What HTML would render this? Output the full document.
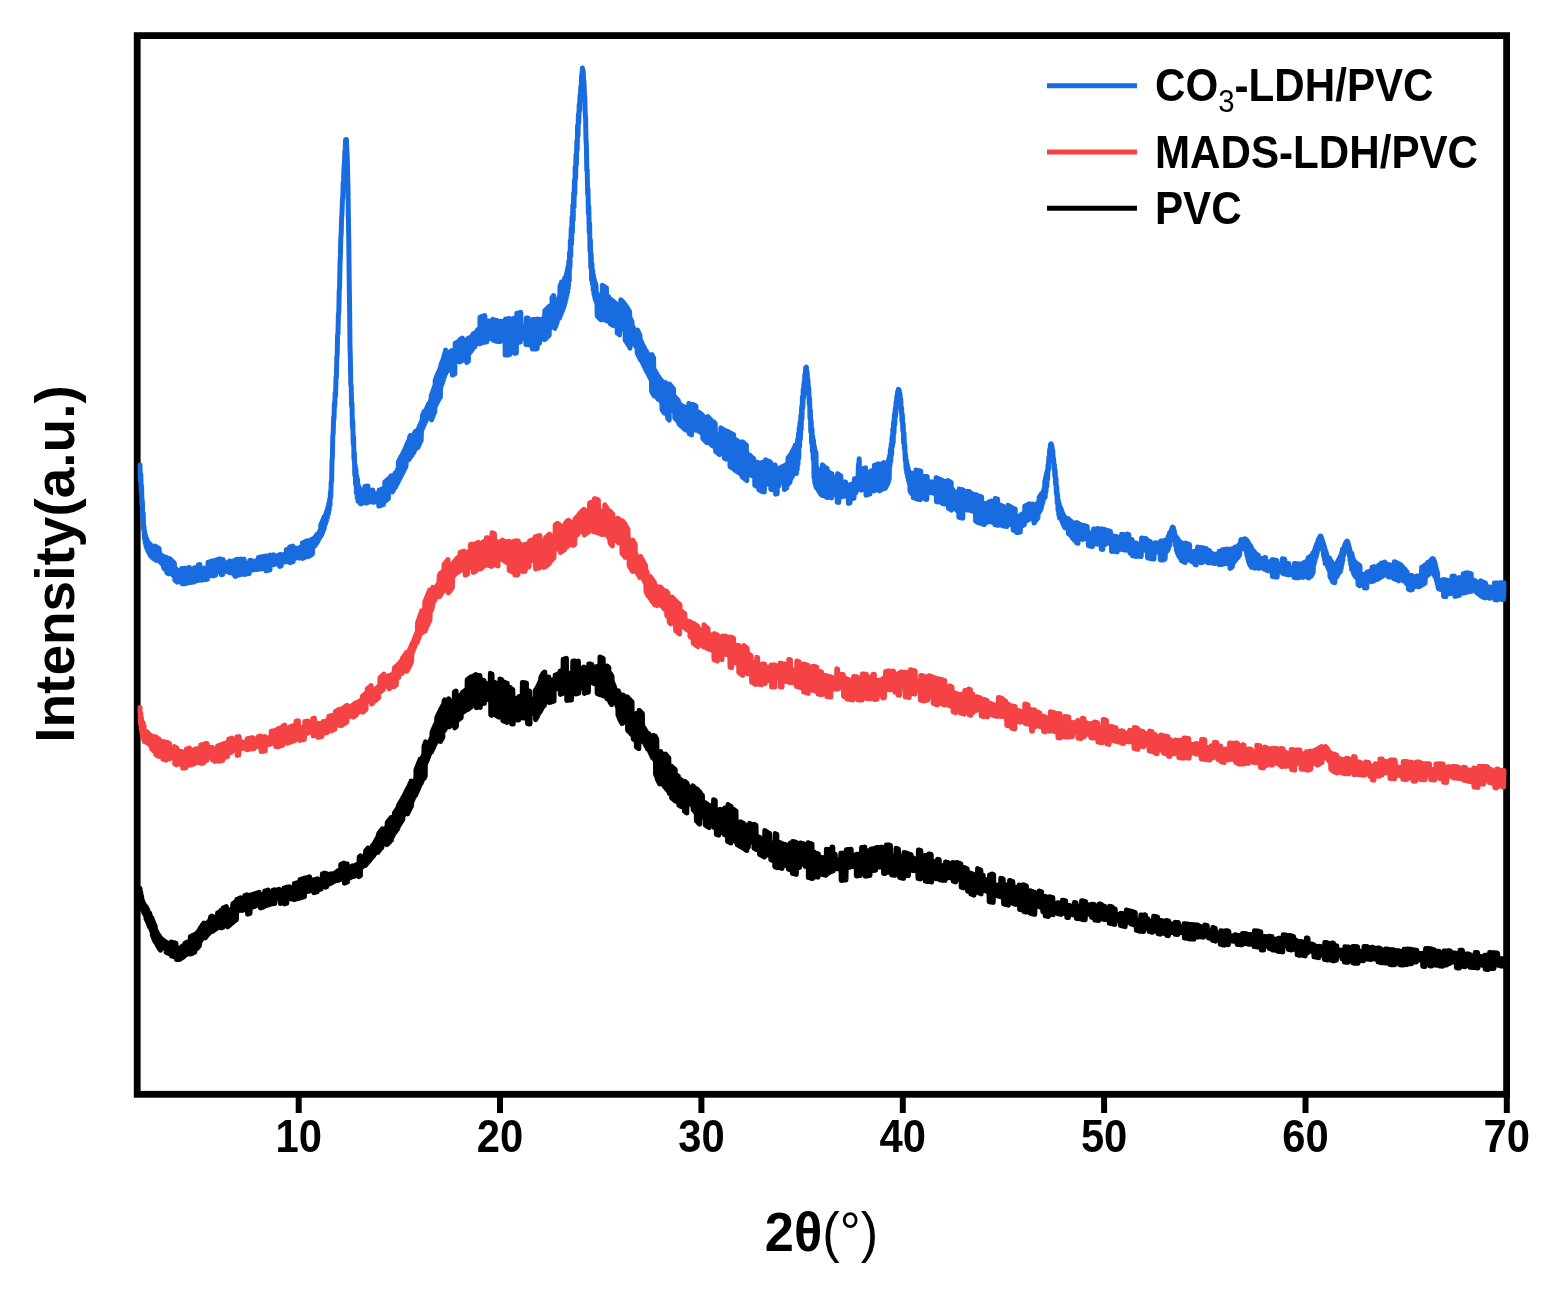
<!DOCTYPE html>
<html><head><meta charset="utf-8"><title>XRD</title>
<style>
html,body{margin:0;padding:0;background:#fff;}
body{width:1551px;height:1293px;overflow:hidden;}
svg{display:block;}
text{font-family:'Liberation Sans',Arial,sans-serif;font-weight:bold;fill:#000;}
</style></head><body>
<svg width="1551" height="1293" viewBox="0 0 1551 1293">
<rect x="0" y="0" width="1551" height="1293" fill="#fff"/>
<rect x="137.2" y="35.6" width="1369.4" height="1058.7" fill="none" stroke="#000" stroke-width="6.8"/>
<g fill="none" stroke-width="5.0" stroke-linejoin="round" stroke-linecap="round">
<polyline stroke="#000000" points="140.0,888.5 140.4,904.3 140.8,892.4 141.2,908.0 141.6,895.9 142.0,908.1 142.4,900.0 142.8,910.6 143.2,902.2 143.6,912.5 144.0,903.8 144.4,913.9 144.8,905.1 145.2,915.1 145.6,906.3 146.0,918.9 146.4,907.0 146.8,920.4 147.2,908.6 147.6,922.2 148.0,910.6 148.4,924.3 148.8,912.8 149.2,926.6 149.6,913.1 150.0,926.9 150.4,915.3 150.8,929.1 151.2,917.5 151.6,931.3 152.0,918.0 152.4,935.4 152.8,920.2 153.2,937.6 153.6,922.3 154.0,939.6 154.4,924.2 154.8,941.4 155.2,925.9 155.6,942.2 156.0,930.1 156.4,943.8 156.8,931.6 157.2,945.2 157.6,933.0 158.0,946.6 158.4,934.4 158.8,948.0 159.2,935.7 159.6,949.2 160.0,936.8 160.4,950.3 160.8,937.9 161.2,945.6 161.6,938.7 162.0,946.4 162.4,939.4 162.8,947.1 163.2,940.1 163.6,947.8 164.0,940.7 164.4,948.4 164.8,941.3 165.2,949.0 165.6,941.8 166.0,952.2 166.4,942.3 166.8,952.7 167.2,942.7 167.6,953.1 168.0,943.2 168.4,953.5 168.8,943.5 169.2,953.8 169.6,943.8 170.0,954.1 170.4,944.1 170.8,954.4 171.2,941.9 171.6,956.1 172.0,942.2 172.4,956.3 172.8,942.5 173.2,956.6 173.6,942.7 174.0,956.8 174.4,942.9 174.8,957.0 175.2,943.1 175.6,957.2 176.0,943.3 176.4,959.4 176.8,948.2 177.2,959.5 177.6,948.3 178.0,959.5 178.4,948.3 178.8,959.5 179.2,948.2 179.6,959.4 180.0,948.0 180.4,959.1 180.8,947.7 181.2,958.3 181.6,946.7 182.0,957.9 182.4,946.3 182.8,957.3 183.2,945.7 183.6,956.8 184.0,945.2 184.4,956.0 184.8,943.6 185.2,955.4 185.6,943.1 186.0,954.9 186.4,942.6 186.8,954.4 187.2,942.1 187.6,954.0 188.0,941.8 188.4,953.7 188.8,941.5 189.2,953.5 189.6,941.3 190.0,954.1 190.4,936.5 190.8,953.9 191.2,936.3 191.6,953.7 192.0,936.1 192.4,953.5 192.8,935.2 193.2,952.8 193.6,934.9 194.0,952.5 194.4,934.7 194.8,952.2 195.2,934.3 195.6,949.8 196.0,933.9 196.4,949.2 196.8,933.2 197.2,948.4 197.6,932.3 198.0,947.5 198.4,931.4 198.8,946.5 199.2,930.3 199.6,945.4 200.0,928.6 200.4,941.4 200.8,927.5 201.2,940.2 201.6,926.3 202.0,939.0 202.4,925.1 202.8,937.9 203.2,924.0 203.6,936.8 204.0,923.0 204.4,935.8 204.8,926.1 205.2,938.0 205.6,925.1 206.0,936.9 206.4,924.0 206.8,935.9 207.2,923.0 207.6,935.0 208.0,922.2 208.4,934.2 208.8,921.4 209.2,933.4 209.6,920.6 210.0,931.1 210.4,917.3 210.8,930.4 211.2,916.6 211.6,929.7 212.0,916.0 212.4,931.4 212.8,919.0 213.2,930.8 213.6,918.4 214.0,930.2 214.4,917.8 214.8,929.6 215.2,917.3 215.6,929.1 216.0,916.8 216.4,928.6 216.8,916.3 217.2,928.2 217.6,912.9 218.0,924.6 218.4,912.5 218.8,924.2 219.2,912.2 219.6,923.9 220.0,911.8 220.4,923.5 220.8,910.4 221.2,928.0 221.6,910.1 222.0,927.7 222.4,909.8 222.8,927.4 223.2,907.9 223.6,922.4 224.0,907.6 224.4,922.0 224.8,907.3 225.2,921.7 225.6,906.9 226.0,921.3 226.4,906.5 226.8,920.9 227.2,912.5 227.6,926.9 228.0,912.0 228.4,926.3 228.8,911.3 229.2,925.7 229.6,910.7 230.0,925.0 230.4,910.0 230.8,924.3 231.2,909.3 231.6,923.5 232.0,908.5 232.4,922.9 232.8,904.0 233.2,922.2 233.6,903.3 234.0,921.5 234.4,902.7 234.8,920.9 235.2,902.1 235.6,920.3 236.0,901.6 236.4,919.8 236.8,899.5 237.2,911.5 237.6,899.1 238.0,911.1 238.4,898.7 238.8,910.7 239.2,898.4 239.6,910.3 240.0,898.0 240.4,910.0 240.8,897.7 241.2,909.7 241.6,903.5 242.0,910.6 242.4,903.1 242.8,910.3 243.2,902.9 243.6,910.0 244.0,902.6 244.4,909.7 244.8,895.6 245.2,908.8 245.6,895.3 246.0,908.5 246.4,895.0 246.8,908.2 247.2,894.7 247.6,914.2 248.0,897.6 248.4,913.9 248.8,897.3 249.2,913.7 249.6,897.1 250.0,913.4 250.4,894.9 250.8,907.6 251.2,894.7 251.6,907.4 252.0,894.4 252.4,907.1 252.8,894.2 253.2,906.9 253.6,893.9 254.0,906.6 254.4,893.7 254.8,906.4 255.2,893.4 255.6,906.1 256.0,893.2 256.4,904.5 256.8,893.0 257.2,904.3 257.6,892.8 258.0,904.0 258.4,892.5 258.8,903.8 259.2,892.3 259.6,903.6 260.0,895.0 260.4,908.0 260.8,894.7 261.2,907.8 261.6,894.5 262.0,907.5 262.4,894.3 262.8,907.3 263.2,894.0 263.6,907.1 264.0,893.8 264.4,906.2 264.8,891.0 265.2,906.0 265.6,890.7 266.0,905.8 266.4,890.5 266.8,905.5 267.2,890.3 267.6,905.3 268.0,890.0 268.4,905.1 268.8,893.9 269.2,904.6 269.6,893.6 270.0,904.4 270.4,893.4 270.8,904.1 271.2,893.2 271.6,903.9 272.0,892.9 272.4,903.7 272.8,890.3 273.2,903.8 273.6,890.0 274.0,903.6 274.4,889.8 274.8,903.4 275.2,890.3 275.6,898.7 276.0,890.1 276.4,898.4 276.8,889.9 277.2,898.2 277.6,889.7 278.0,898.0 278.4,889.4 278.8,897.8 279.2,889.2 279.6,897.5 280.0,890.6 280.4,903.6 280.8,890.4 281.2,903.3 281.6,890.2 282.0,903.1 282.4,889.9 282.8,902.9 283.2,889.7 283.6,902.6 284.0,888.0 284.4,903.9 284.8,887.8 285.2,903.6 285.6,887.5 286.0,903.4 286.4,887.3 286.8,903.2 287.2,887.3 287.6,898.1 288.0,887.1 288.4,897.9 288.8,886.9 289.2,897.7 289.6,886.7 290.0,897.4 290.4,888.7 290.8,898.9 291.2,888.4 291.6,898.7 292.0,888.2 292.4,898.5 292.8,888.0 293.2,898.3 293.6,887.8 294.0,899.7 294.4,883.5 294.8,899.5 295.2,883.2 295.6,899.3 296.0,883.0 296.4,899.1 296.8,882.8 297.2,898.8 297.6,882.6 298.0,898.6 298.4,882.3 298.8,898.4 299.2,882.1 299.6,898.1 300.0,879.5 300.4,897.9 300.8,879.2 301.2,897.7 301.6,879.0 302.0,897.4 302.4,878.8 302.8,897.2 303.2,878.5 303.6,897.0 304.0,878.3 304.4,896.7 304.8,878.1 305.2,892.3 305.6,878.0 306.0,892.0 306.4,877.8 306.8,891.8 307.2,877.5 307.6,891.6 308.0,877.3 308.4,891.3 308.8,877.1 309.2,891.1 309.6,876.8 310.0,890.9 310.4,880.7 310.8,890.7 311.2,880.5 311.6,890.5 312.0,880.3 312.4,890.2 312.8,880.0 313.2,890.0 313.6,879.8 314.0,892.8 314.4,879.7 314.8,892.6 315.2,879.5 315.6,892.3 316.0,879.3 316.4,892.1 316.8,879.0 317.2,891.8 317.6,878.8 318.0,890.1 318.4,880.3 318.8,889.8 319.2,880.1 319.6,889.5 320.0,879.8 320.4,889.3 320.8,879.6 321.2,889.0 321.6,879.3 322.0,885.7 322.4,873.8 322.8,885.4 323.2,873.5 323.6,885.1 324.0,873.3 324.4,884.8 324.8,873.0 325.2,887.3 325.6,874.3 326.0,887.0 326.4,874.0 326.8,886.7 327.2,873.7 327.6,884.6 328.0,875.0 328.4,884.3 328.8,874.7 329.2,884.0 329.6,874.4 330.0,883.7 330.4,874.1 330.8,883.3 331.2,873.7 331.6,883.0 332.0,874.2 332.4,882.2 332.8,873.8 333.2,881.9 333.6,873.5 334.0,881.6 334.4,873.2 334.8,881.2 335.2,872.8 335.6,880.9 336.0,872.5 336.4,880.6 336.8,872.1 337.2,880.2 337.6,871.0 338.0,880.5 338.4,870.6 338.8,880.2 339.2,870.3 339.6,879.8 340.0,869.9 340.4,878.6 340.8,864.4 341.2,878.3 341.6,864.0 342.0,877.9 342.4,863.7 342.8,877.5 343.2,863.3 343.6,877.2 344.0,862.9 344.4,883.3 344.8,864.9 345.2,883.0 345.6,864.5 346.0,882.6 346.4,864.2 346.8,882.3 347.2,863.8 347.6,881.9 348.0,868.0 348.4,878.6 348.8,867.7 349.2,878.2 349.6,867.3 350.0,877.9 350.4,866.9 350.8,877.5 351.2,866.6 351.6,877.1 352.0,866.2 352.4,876.7 352.8,865.8 353.2,876.4 353.6,866.2 354.0,876.4 354.4,865.8 354.8,876.0 355.2,865.4 355.6,875.6 356.0,864.9 356.4,875.1 356.8,864.5 357.2,874.7 357.6,864.0 358.0,874.2 358.4,863.5 358.8,876.7 359.2,856.9 359.6,876.2 360.0,856.3 360.4,875.7 360.8,855.8 361.2,867.6 361.6,861.8 362.0,867.0 362.4,861.2 362.8,866.4 363.2,860.5 363.6,865.7 364.0,859.8 364.4,864.9 364.8,859.0 365.2,865.6 365.6,850.9 366.0,864.7 366.4,850.0 366.8,863.8 367.2,849.1 367.6,862.8 368.0,848.1 368.4,861.8 368.8,850.9 369.2,861.1 369.6,849.9 370.0,860.0 370.4,848.8 370.8,859.0 371.2,847.7 371.6,858.0 372.0,846.5 372.4,856.8 372.8,845.2 373.2,856.5 373.6,844.6 374.0,855.2 374.4,843.2 374.8,853.8 375.2,841.7 375.6,852.4 376.0,840.2 376.4,851.1 376.8,838.7 377.2,849.7 377.6,837.3 378.0,852.4 378.4,834.2 378.8,851.2 379.2,832.9 379.6,850.2 380.0,831.8 380.4,849.2 380.8,830.7 381.2,848.3 381.6,829.7 382.0,847.5 382.4,828.7 382.8,843.3 383.2,831.1 383.6,842.4 384.0,830.2 384.4,841.7 384.8,829.3 385.2,840.9 385.6,828.5 386.0,840.1 386.4,827.6 386.8,844.8 387.2,822.5 387.6,844.1 388.0,821.5 388.4,843.3 388.8,820.6 389.2,842.5 389.6,819.6 390.0,841.7 390.4,818.6 390.8,840.8 391.2,817.5 391.6,839.9 392.0,818.9 392.4,836.8 392.8,817.8 393.2,835.8 393.6,816.6 394.0,833.7 394.4,813.0 394.8,832.7 395.2,811.8 395.6,831.6 396.0,810.6 396.4,830.6 396.8,809.4 397.2,829.5 397.6,808.2 398.0,828.4 398.4,805.5 398.8,825.9 399.2,804.2 399.6,824.7 400.0,802.8 400.4,823.5 400.8,801.4 401.2,822.3 401.6,800.0 402.0,821.0 402.4,798.6 402.8,819.7 403.2,797.1 403.6,815.6 404.0,795.8 404.4,814.2 404.8,794.2 405.2,812.7 405.6,792.6 406.0,811.2 406.4,790.9 406.8,809.6 407.2,789.2 407.6,813.9 408.0,788.1 408.4,812.3 408.8,786.4 409.2,810.7 409.6,784.6 410.0,809.1 410.4,782.8 410.8,807.5 411.2,781.0 411.6,805.9 412.0,786.9 412.4,800.9 412.8,785.1 413.2,799.2 413.6,783.3 414.0,797.5 414.4,781.5 414.8,795.8 415.2,779.6 415.6,795.4 416.0,769.4 416.4,793.6 416.8,767.4 417.2,791.8 417.6,765.4 418.0,789.9 418.4,763.4 418.8,788.1 419.2,761.4 419.6,786.2 420.0,759.3 420.4,784.3 420.8,761.3 421.2,783.5 421.6,759.3 422.0,781.6 422.4,757.3 422.8,779.8 423.2,755.3 423.6,777.9 424.0,745.9 424.4,778.3 424.8,743.9 425.2,776.5 425.6,741.8 426.0,763.4 426.4,750.4 426.8,761.4 427.2,748.4 427.6,759.4 428.0,746.3 428.4,757.4 428.8,744.2 429.2,755.4 429.6,742.2 430.0,753.5 430.4,740.2 430.8,751.5 431.2,738.2 431.6,752.0 432.0,732.2 432.4,750.2 432.8,730.2 433.2,748.4 433.6,728.4 434.0,746.7 434.4,726.6 434.8,745.0 435.2,724.9 435.6,743.4 436.0,723.2 436.4,741.8 436.8,717.4 437.2,738.5 437.6,715.7 438.0,737.0 438.4,714.0 438.8,735.4 439.2,712.4 439.6,734.0 440.0,710.8 440.4,741.6 440.8,709.2 441.2,740.2 441.6,707.7 442.0,738.9 442.4,706.3 442.8,737.6 443.2,704.9 443.6,731.7 444.0,701.1 444.4,730.6 444.8,699.8 445.2,729.5 445.6,702.8 446.0,725.9 446.4,701.7 446.8,725.0 447.2,700.7 447.6,724.1 448.0,699.7 448.4,723.2 448.8,698.7 449.2,726.9 449.6,703.8 450.0,726.2 450.4,703.0 450.8,725.4 451.2,702.2 451.6,724.6 452.0,701.5 452.4,723.9 452.8,700.7 453.2,723.1 453.6,700.0 454.0,722.4 454.4,692.3 454.8,727.9 455.2,691.6 455.6,727.2 456.0,690.9 456.4,726.5 456.8,698.5 457.2,721.0 457.6,697.8 458.0,720.3 458.4,697.1 458.8,719.6 459.2,696.4 459.6,718.9 460.0,695.8 460.4,718.3 460.8,695.1 461.2,717.6 461.6,694.4 462.0,713.3 462.4,692.6 462.8,712.7 463.2,692.0 463.6,712.0 464.0,691.4 464.4,711.4 464.8,690.8 465.2,710.8 465.6,690.2 466.0,710.2 466.4,689.6 466.8,709.7 467.2,679.7 467.6,709.7 468.0,679.2 468.4,709.2 468.8,678.6 469.2,708.5 469.6,678.0 470.0,707.9 470.4,677.3 470.8,707.3 471.2,676.7 471.6,706.6 472.0,677.2 472.4,704.3 472.8,676.6 473.2,703.7 473.6,676.0 474.0,703.1 474.4,675.5 474.8,702.6 475.2,675.0 475.6,702.2 476.0,674.6 476.4,707.8 476.8,675.9 477.2,707.5 477.6,675.7 478.0,707.3 478.4,675.6 478.8,707.3 479.2,675.6 479.6,707.3 480.0,675.6 480.4,707.4 480.8,679.8 481.2,702.9 481.6,679.9 482.0,703.0 482.4,680.1 482.8,703.2 483.2,680.2 483.6,703.3 484.0,680.4 484.4,703.5 484.8,683.2 485.2,698.8 485.6,683.4 486.0,699.0 486.4,683.6 486.8,699.2 487.2,683.8 487.6,699.4 488.0,684.0 488.4,699.7 488.8,684.3 489.2,699.9 489.6,684.5 490.0,700.2 490.4,673.3 490.8,715.0 491.2,673.7 491.6,715.4 492.0,674.1 492.4,702.2 492.8,684.7 493.2,702.7 493.6,685.2 494.0,703.2 494.4,685.8 494.8,703.8 495.2,682.5 495.6,715.1 496.0,683.1 496.4,715.7 496.8,683.7 497.2,716.2 497.6,684.2 498.0,716.8 498.4,684.8 498.8,717.3 499.2,685.2 499.6,711.6 500.0,678.9 500.4,712.0 500.8,679.3 501.2,712.3 501.6,679.6 502.0,712.7 502.4,681.3 502.8,720.8 503.2,681.6 503.6,721.1 504.0,682.0 504.4,721.4 504.8,682.3 505.2,721.8 505.6,682.6 506.0,722.1 506.4,682.9 506.8,722.4 507.2,683.2 507.6,716.6 508.0,686.8 508.4,716.9 508.8,687.0 509.2,717.1 509.6,687.2 510.0,717.3 510.4,687.4 510.8,717.4 511.2,689.4 511.6,723.9 512.0,689.5 512.4,724.0 512.8,689.6 513.2,724.1 513.6,698.0 514.0,719.6 514.4,698.1 514.8,719.7 515.2,698.2 515.6,719.8 516.0,698.3 516.4,719.8 516.8,698.3 517.2,719.9 517.6,698.4 518.0,720.0 518.4,698.4 518.8,720.0 519.2,696.5 519.6,711.0 520.0,696.6 520.4,711.1 520.8,696.6 521.2,711.2 521.6,696.7 522.0,711.2 522.4,682.6 522.8,717.9 523.2,682.6 523.6,718.0 524.0,682.7 524.4,718.0 524.8,682.8 525.2,718.1 525.6,682.9 526.0,718.2 526.4,683.0 526.8,718.3 527.2,690.9 527.6,723.8 528.0,691.0 528.4,723.9 528.8,691.0 529.2,724.0 529.6,691.1 530.0,724.0 530.4,698.9 530.8,713.4 531.2,699.0 531.6,713.5 532.0,699.0 532.4,713.5 532.8,699.0 533.2,713.5 533.6,699.0 534.0,713.4 534.4,698.7 534.8,712.9 535.2,690.6 535.6,719.7 536.0,689.5 536.4,718.5 536.8,688.2 537.2,717.1 537.6,686.7 538.0,715.5 538.4,685.0 538.8,713.8 539.2,683.3 539.6,712.0 540.0,681.6 540.4,711.6 540.8,677.4 541.2,710.0 541.6,675.8 542.0,708.5 542.4,674.4 542.8,707.2 543.2,673.3 543.6,706.2 544.0,672.4 544.4,705.5 544.8,671.9 545.2,695.6 545.6,678.5 546.0,695.2 546.4,678.1 546.8,694.8 547.2,677.8 547.6,694.5 548.0,677.4 548.4,694.2 548.8,677.1 549.2,702.6 549.6,680.6 550.0,702.4 550.4,680.4 550.8,702.1 551.2,680.1 551.6,701.9 552.0,679.9 552.4,701.6 552.8,679.7 553.2,701.4 553.6,679.4 554.0,701.1 554.4,679.1 554.8,689.7 555.2,675.0 555.6,689.4 556.0,674.7 556.4,689.1 556.8,674.4 557.2,688.7 557.6,674.0 558.0,688.4 558.4,673.7 558.8,688.0 559.2,673.3 559.6,687.7 560.0,671.2 560.4,694.4 560.8,670.9 561.2,694.1 561.6,670.5 562.0,693.7 562.4,670.2 562.8,693.4 563.2,659.3 563.6,687.2 564.0,659.0 564.4,686.9 564.8,658.7 565.2,686.7 565.6,658.5 566.0,686.5 566.4,658.3 566.8,700.5 567.2,673.7 567.6,700.3 568.0,673.6 568.4,700.2 568.8,673.4 569.2,700.1 569.6,673.3 570.0,700.0 570.4,673.3 570.8,699.9 571.2,673.2 571.6,699.9 572.0,673.1 572.4,683.6 572.8,661.2 573.2,683.5 573.6,661.1 574.0,683.4 574.4,661.1 574.8,683.3 575.2,660.9 575.6,694.0 576.0,661.7 576.4,693.9 576.8,661.5 577.2,693.7 577.6,661.4 578.0,693.5 578.4,661.1 578.8,693.2 579.2,669.8 579.6,688.9 580.0,669.4 580.4,688.5 580.8,668.9 581.2,688.0 581.6,668.4 582.0,687.5 582.4,667.9 582.8,687.0 583.2,667.4 583.6,686.5 584.0,666.9 584.4,693.5 584.8,668.6 585.2,693.1 585.6,668.3 586.0,692.8 586.4,668.0 586.8,692.5 587.2,667.7 587.6,692.3 588.0,667.6 588.4,692.3 588.8,663.9 589.2,681.8 589.6,664.0 590.0,681.9 590.4,664.1 590.8,682.1 591.2,664.3 591.6,682.3 592.0,664.6 592.4,682.9 592.8,668.3 593.2,683.2 593.6,668.6 594.0,683.6 594.4,669.0 594.8,683.9 595.2,669.4 595.6,684.3 596.0,669.8 596.4,684.7 596.8,666.5 597.2,693.5 597.6,666.9 598.0,693.9 598.4,667.3 598.8,694.3 599.2,667.7 599.6,694.7 600.0,656.9 600.4,694.5 600.8,657.3 601.2,694.9 601.6,657.6 602.0,695.3 602.4,658.0 602.8,695.7 603.2,658.4 603.6,696.1 604.0,668.9 604.4,686.6 604.8,669.3 605.2,687.0 605.6,669.8 606.0,687.6 606.4,670.4 606.8,698.6 607.2,666.1 607.6,699.2 608.0,666.7 608.4,699.8 608.8,667.4 609.2,700.5 609.6,672.6 610.0,702.5 610.4,673.4 610.8,703.5 611.2,674.5 611.6,704.7 612.0,676.0 612.4,693.7 612.8,682.2 613.2,695.6 613.6,684.2 614.0,697.6 614.4,686.3 614.8,699.8 615.2,688.6 615.6,702.2 616.0,690.9 616.4,704.5 616.8,693.3 617.2,706.8 617.6,695.6 618.0,715.2 618.4,690.7 618.8,717.3 619.2,692.7 619.6,719.3 620.0,694.5 620.4,721.0 620.8,696.1 621.2,722.3 621.6,697.4 622.0,723.6 622.4,698.6 622.8,718.6 623.2,695.1 623.6,719.7 624.0,696.2 624.4,720.7 624.8,697.2 625.2,721.7 625.6,698.2 626.0,722.6 626.4,699.1 626.8,723.5 627.2,696.7 627.6,730.3 628.0,697.5 628.4,731.2 628.8,698.4 629.2,732.0 629.6,699.2 630.0,732.8 630.4,700.1 630.8,733.6 631.2,700.9 631.6,734.4 632.0,701.7 632.4,735.2 632.8,714.3 633.2,738.9 633.6,715.0 634.0,739.6 634.4,715.7 634.8,740.3 635.2,716.4 635.6,740.9 636.0,717.1 636.4,746.9 636.8,713.3 637.2,747.6 637.6,713.9 638.0,748.2 638.4,714.6 638.8,748.8 639.2,710.3 639.6,737.2 640.0,711.1 640.4,738.0 640.8,711.8 641.2,738.8 641.6,712.7 642.0,739.6 642.4,713.6 642.8,740.5 643.2,726.4 643.6,742.1 644.0,727.5 644.4,743.3 644.8,728.8 645.2,744.6 645.6,730.2 646.0,746.0 646.4,731.6 646.8,747.5 647.2,733.2 647.6,749.1 648.0,734.8 648.4,749.1 648.8,733.5 649.2,750.8 649.6,735.2 650.0,752.5 650.4,736.9 650.8,754.2 651.2,738.6 651.6,755.9 652.0,740.3 652.4,757.6 652.8,741.9 653.2,757.5 653.6,735.3 654.0,759.0 654.4,736.8 654.8,760.5 655.2,735.9 655.6,774.8 656.0,737.4 656.4,776.3 656.8,739.0 657.2,779.3 657.6,753.2 658.0,780.9 658.4,754.8 658.8,782.5 659.2,756.3 659.6,784.0 660.0,757.9 660.4,780.0 660.8,751.5 661.2,781.4 661.6,753.0 662.0,782.8 662.4,754.4 662.8,784.2 663.2,755.7 663.6,785.4 664.0,757.0 664.4,786.6 664.8,758.1 665.2,787.5 665.6,754.0 666.0,788.5 666.4,755.0 666.8,789.4 667.2,756.0 667.6,790.3 668.0,756.9 668.4,791.2 668.8,757.7 669.2,793.2 669.6,773.4 670.0,794.0 670.4,774.2 670.8,794.8 671.2,765.9 671.6,797.9 672.0,766.6 672.4,798.6 672.8,767.4 673.2,799.3 673.6,768.1 674.0,800.0 674.4,768.8 674.8,800.7 675.2,769.5 675.6,801.3 676.0,774.4 676.4,794.2 676.8,775.0 677.2,794.9 677.6,775.7 678.0,795.5 678.4,776.3 678.8,805.3 679.2,778.5 679.6,805.8 680.0,779.1 680.4,806.3 680.8,779.6 681.2,806.8 681.6,780.2 682.0,805.4 682.4,781.7 682.8,806.0 683.2,782.2 683.6,806.5 684.0,782.8 684.4,811.3 684.8,781.3 685.2,811.8 685.6,781.9 686.0,812.5 686.4,782.5 686.8,813.1 687.2,783.3 687.6,800.7 688.0,786.0 688.4,801.4 688.8,786.8 689.2,802.3 689.6,787.7 690.0,803.1 690.4,788.5 690.8,804.0 691.2,789.5 691.6,804.9 692.0,790.4 692.4,805.9 692.8,785.7 693.2,809.9 693.6,786.6 694.0,810.8 694.4,787.6 694.8,811.7 695.2,788.5 695.6,812.6 696.0,789.4 696.4,821.0 696.8,788.7 697.2,821.8 697.6,789.5 698.0,822.6 698.4,790.4 698.8,823.4 699.2,791.2 699.6,824.3 700.0,792.1 700.4,813.1 700.8,793.5 701.2,814.0 701.6,794.4 702.0,814.8 702.4,795.2 702.8,815.7 703.2,805.4 703.6,817.4 704.0,806.2 704.4,818.2 704.8,807.0 705.2,824.9 705.6,802.8 706.0,825.6 706.4,803.5 706.8,826.2 707.2,804.1 707.6,826.8 708.0,804.7 708.4,827.3 708.8,805.2 709.2,827.8 709.6,805.6 710.0,821.2 710.4,808.6 710.8,821.5 711.2,809.0 711.6,821.9 712.0,809.3 712.4,822.2 712.8,809.6 713.2,822.5 713.6,799.8 714.0,827.4 714.4,800.1 714.8,827.7 715.2,800.4 715.6,827.9 716.0,809.9 716.4,834.5 716.8,810.2 717.2,834.7 717.6,810.4 718.0,834.9 718.4,810.7 718.8,835.2 719.2,810.9 719.6,831.7 720.0,809.3 720.4,832.0 720.8,809.6 721.2,832.2 721.6,809.9 722.0,832.5 722.4,810.1 722.8,832.7 723.2,810.4 723.6,833.0 724.0,810.7 724.4,834.7 724.8,808.1 725.2,835.0 725.6,808.5 726.0,835.3 726.4,808.8 726.8,835.6 727.2,809.2 727.6,841.5 728.0,804.6 728.4,841.9 728.8,805.0 729.2,842.3 729.6,805.5 730.0,842.7 730.4,805.9 730.8,843.1 731.2,806.4 731.6,829.6 732.0,814.8 732.4,830.1 732.8,815.3 733.2,830.6 733.6,809.3 734.0,840.8 734.4,809.8 734.8,841.3 735.2,810.4 735.6,841.7 736.0,810.9 736.4,842.2 736.8,822.3 737.2,844.7 737.6,822.8 738.0,845.3 738.4,823.3 738.8,845.8 739.2,823.9 739.6,846.3 740.0,824.4 740.4,846.8 740.8,821.7 741.2,846.9 741.6,822.2 742.0,847.4 742.4,822.8 742.8,847.9 743.2,823.3 743.6,848.5 744.0,823.8 744.4,849.0 744.8,824.4 745.2,849.5 745.6,826.6 746.0,850.1 746.4,827.2 746.8,850.6 747.2,828.5 747.6,846.7 748.0,829.0 748.4,847.2 748.8,829.6 749.2,840.8 749.6,823.2 750.0,841.3 750.4,823.7 750.8,841.7 751.2,824.2 751.6,842.2 752.0,824.7 752.4,842.7 752.8,825.2 753.2,843.1 753.6,825.6 754.0,848.2 754.4,824.3 754.8,848.7 755.2,824.8 755.6,849.1 756.0,825.3 756.4,849.6 756.8,836.2 757.2,848.7 757.6,836.7 758.0,849.2 758.4,837.2 758.8,849.7 759.2,836.9 759.6,854.4 760.0,837.4 760.4,854.9 760.8,837.9 761.2,855.3 761.6,838.3 762.0,855.8 762.4,838.8 762.8,856.2 763.2,839.3 763.6,856.7 764.0,839.7 764.4,857.1 764.8,830.6 765.2,853.5 765.6,831.1 766.0,854.0 766.4,831.5 766.8,854.4 767.2,832.0 767.6,854.8 768.0,832.4 768.4,855.2 768.8,832.9 769.2,855.7 769.6,833.3 770.0,856.1 770.4,842.2 770.8,859.7 771.2,842.6 771.6,860.0 772.0,843.0 772.4,860.4 772.8,843.4 773.2,860.8 773.6,843.8 774.0,861.2 774.4,844.2 774.8,866.8 775.2,833.6 775.6,867.2 776.0,833.9 776.4,867.5 776.8,834.3 777.2,867.8 777.6,841.8 778.0,867.1 778.4,842.2 778.8,867.4 779.2,842.5 779.6,867.7 780.0,842.8 780.4,867.9 780.8,843.1 781.2,868.2 781.6,843.3 782.0,868.5 782.4,843.7 782.8,864.8 783.2,844.0 783.6,865.1 784.0,844.3 784.4,865.3 784.8,844.5 785.2,865.5 785.6,844.8 786.0,865.8 786.4,845.0 786.8,866.0 787.2,845.3 787.6,866.2 788.0,849.3 788.4,869.2 788.8,849.5 789.2,869.5 789.6,849.7 790.0,869.7 790.4,842.9 790.8,861.2 791.2,843.2 791.6,861.5 792.0,843.4 792.4,873.4 792.8,841.5 793.2,873.6 793.6,841.7 794.0,873.8 794.4,841.9 794.8,874.0 795.2,842.1 795.6,874.2 796.0,842.3 796.4,874.4 796.8,847.7 797.2,866.9 797.6,847.9 798.0,867.1 798.4,848.1 798.8,867.3 799.2,848.3 799.6,867.5 800.0,842.9 800.4,863.6 800.8,843.1 801.2,863.8 801.6,843.3 802.0,864.0 802.4,843.5 802.8,864.2 803.2,843.7 803.6,864.4 804.0,843.9 804.4,864.6 804.8,854.4 805.2,866.4 805.6,854.6 806.0,866.6 806.4,854.8 806.8,866.8 807.2,855.0 807.6,867.0 808.0,842.8 808.4,877.6 808.8,843.0 809.2,877.8 809.6,843.3 810.0,878.0 810.4,843.5 810.8,878.2 811.2,843.7 811.6,878.4 812.0,843.9 812.4,878.6 812.8,851.6 813.2,877.3 813.6,851.8 814.0,877.5 814.4,852.1 814.8,876.4 815.2,853.0 815.6,876.6 816.0,853.2 816.4,876.8 816.8,853.4 817.2,877.0 817.6,853.6 818.0,877.2 818.4,853.9 818.8,873.7 819.2,856.9 819.6,873.9 820.0,857.1 820.4,874.1 820.8,857.2 821.2,874.3 821.6,857.4 822.0,874.4 822.4,857.6 822.8,874.6 823.2,857.8 823.6,874.7 824.0,857.4 824.4,875.0 824.8,857.6 825.2,875.2 825.6,857.7 826.0,875.3 826.4,849.3 826.8,873.1 827.2,849.4 827.6,873.2 828.0,849.5 828.4,873.3 828.8,849.6 829.2,871.9 829.6,852.0 830.0,872.0 830.4,852.1 830.8,872.0 831.2,852.1 831.6,871.0 832.0,847.1 832.4,871.0 832.8,847.1 833.2,870.9 833.6,854.2 834.0,868.5 834.4,854.2 834.8,868.4 835.2,854.2 835.6,868.4 836.0,859.6 836.4,868.8 836.8,859.6 837.2,868.8 837.6,859.6 838.0,868.7 838.4,859.5 838.8,868.7 839.2,859.4 839.6,868.6 840.0,859.4 840.4,868.5 840.8,853.3 841.2,880.5 841.6,853.3 842.0,880.4 842.4,853.2 842.8,880.3 843.2,853.1 843.6,880.2 844.0,853.0 844.4,880.1 844.8,852.9 845.2,880.0 845.6,852.8 846.0,879.9 846.4,849.8 846.8,867.6 847.2,849.7 847.6,867.5 848.0,849.6 848.4,867.4 848.8,849.5 849.2,867.3 849.6,849.4 850.0,867.2 850.4,849.3 850.8,867.1 851.2,849.3 851.6,866.7 852.0,858.1 852.4,866.6 852.8,858.0 853.2,866.5 853.6,857.9 854.0,866.4 854.4,857.8 854.8,866.3 855.2,857.7 855.6,866.2 856.0,854.4 856.4,876.0 856.8,854.3 857.2,875.9 857.6,854.3 858.0,875.8 858.4,854.2 858.8,875.7 859.2,854.1 859.6,875.6 860.0,854.0 860.4,875.5 860.8,853.9 861.2,874.0 861.6,847.5 862.0,873.9 862.4,847.4 862.8,873.7 863.2,847.3 863.6,873.6 864.0,847.2 864.4,873.5 864.8,847.1 865.2,876.2 865.6,851.1 866.0,876.1 866.4,851.0 866.8,876.0 867.2,850.9 867.6,875.9 868.0,850.8 868.4,875.8 868.8,850.7 869.2,875.6 869.6,850.6 870.0,875.5 870.4,850.5 870.8,870.8 871.2,849.0 871.6,870.7 872.0,848.9 872.4,870.6 872.8,848.8 873.2,870.5 873.6,848.7 874.0,870.4 874.4,848.6 874.8,870.3 875.2,848.5 875.6,870.2 876.0,847.7 876.4,866.0 876.8,847.6 877.2,866.0 877.6,847.5 878.0,865.9 878.4,847.5 878.8,865.8 879.2,847.4 879.6,867.2 880.0,847.4 880.4,867.1 880.8,847.3 881.2,867.1 881.6,847.3 882.0,867.0 882.4,847.3 882.8,867.0 883.2,854.3 883.6,873.4 884.0,854.3 884.4,873.4 884.8,854.3 885.2,873.4 885.6,854.3 886.0,872.1 886.4,844.9 886.8,872.2 887.2,844.9 887.6,872.2 888.0,845.0 888.4,872.3 888.8,845.1 889.2,872.3 889.6,845.2 890.0,872.4 890.4,845.3 890.8,872.5 891.2,855.4 891.6,874.9 892.0,855.6 892.4,875.0 892.8,855.7 893.2,875.1 893.6,855.9 894.0,875.3 894.4,856.0 894.8,875.4 895.2,856.2 895.6,865.8 896.0,848.3 896.4,866.0 896.8,848.5 897.2,866.2 897.6,848.7 898.0,866.4 898.4,848.9 898.8,866.6 899.2,856.0 899.6,877.5 900.0,856.2 900.4,877.7 900.8,856.5 901.2,877.9 901.6,856.7 902.0,878.1 902.4,856.9 902.8,878.3 903.2,857.1 903.6,878.5 904.0,852.4 904.4,874.8 904.8,852.7 905.2,875.0 905.6,852.9 906.0,875.2 906.4,853.1 906.8,875.4 907.2,853.3 907.6,875.6 908.0,853.5 908.4,875.8 908.8,854.1 909.2,868.8 909.6,854.3 910.0,868.9 910.4,854.5 910.8,869.1 911.2,854.7 911.6,870.3 912.0,857.5 912.4,870.4 912.8,857.7 913.2,870.6 913.6,857.9 914.0,870.7 914.4,860.8 914.8,869.1 915.2,861.0 915.6,869.3 916.0,861.1 916.4,869.4 916.8,861.3 917.2,869.6 917.6,861.5 918.0,878.5 918.4,850.0 918.8,878.7 919.2,850.1 919.6,878.8 920.0,850.3 920.4,879.0 920.8,850.5 921.2,871.5 921.6,860.5 922.0,871.7 922.4,860.7 922.8,871.8 923.2,860.9 923.6,872.0 924.0,861.0 924.4,872.1 924.8,855.5 925.2,881.1 925.6,855.7 926.0,881.2 926.4,855.8 926.8,881.4 927.2,856.0 927.6,881.5 928.0,856.2 928.4,881.5 928.8,853.9 929.2,881.6 929.6,854.1 930.0,881.8 930.4,854.2 930.8,881.9 931.2,854.4 931.6,882.1 932.0,861.0 932.4,878.0 932.8,861.2 933.2,878.2 933.6,861.4 934.0,878.3 934.4,861.6 934.8,878.5 935.2,861.8 935.6,878.7 936.0,862.0 936.4,878.8 936.8,862.2 937.2,873.8 937.6,859.2 938.0,874.0 938.4,859.4 938.8,874.2 939.2,859.6 939.6,879.7 940.0,865.0 940.4,879.9 940.8,865.2 941.2,880.1 941.6,865.4 942.0,880.3 942.4,865.7 942.8,880.5 943.2,867.9 943.6,880.0 944.0,868.1 944.4,880.2 944.8,868.3 945.2,880.5 945.6,861.9 946.0,877.0 946.4,862.2 946.8,877.3 947.2,862.4 947.6,877.5 948.0,862.6 948.4,877.7 948.8,862.9 949.2,877.4 949.6,866.0 950.0,877.6 950.4,866.3 950.8,877.9 951.2,866.5 951.6,878.1 952.0,866.8 952.4,878.4 952.8,862.6 953.2,881.3 953.6,862.8 954.0,881.5 954.4,863.1 954.8,881.8 955.2,863.4 955.6,882.0 956.0,863.6 956.4,878.8 956.8,862.4 957.2,879.0 957.6,862.7 958.0,879.3 958.4,862.9 958.8,879.5 959.2,863.2 959.6,879.8 960.0,863.5 960.4,880.0 960.8,863.8 961.2,887.3 961.6,870.1 962.0,887.5 962.4,870.4 962.8,887.8 963.2,870.7 963.6,888.0 964.0,867.5 964.4,882.1 964.8,867.8 965.2,882.4 965.6,868.1 966.0,882.6 966.4,868.4 966.8,882.9 967.2,868.7 967.6,891.3 968.0,873.9 968.4,891.5 968.8,874.2 969.2,891.8 969.6,874.5 970.0,892.2 970.4,873.1 970.8,894.0 971.2,873.4 971.6,894.3 972.0,873.8 972.4,894.6 972.8,874.1 973.2,895.0 973.6,874.5 974.0,895.3 974.4,874.8 974.8,889.7 975.2,878.5 975.6,890.0 976.0,878.9 976.4,890.3 976.8,879.2 977.2,892.3 977.6,868.6 978.0,892.6 978.4,869.0 978.8,892.9 979.2,869.3 979.6,893.3 980.0,869.7 980.4,893.6 980.8,870.0 981.2,893.9 981.6,874.5 982.0,888.5 982.4,874.8 982.8,888.8 983.2,875.2 983.6,889.2 984.0,878.7 984.4,890.5 984.8,879.1 985.2,890.8 985.6,879.4 986.0,891.1 986.4,879.7 986.8,891.4 987.2,880.0 987.6,891.7 988.0,880.3 988.4,892.0 988.8,880.6 989.2,901.7 989.6,875.0 990.0,902.0 990.4,875.3 990.8,902.2 991.2,875.6 991.6,901.9 992.0,873.9 992.4,902.2 992.8,874.2 993.2,902.5 993.6,874.5 994.0,894.5 994.4,885.7 994.8,894.7 995.2,886.0 995.6,895.0 996.0,886.3 996.4,895.2 996.8,886.5 997.2,895.8 997.6,885.0 998.0,896.1 998.4,885.2 998.8,896.3 999.2,885.5 999.6,896.5 1000.0,885.7 1000.4,896.8 1000.8,878.2 1001.2,895.3 1001.6,878.5 1002.0,895.5 1002.4,878.8 1002.8,895.8 1003.2,879.1 1003.6,904.0 1004.0,884.2 1004.4,904.2 1004.8,884.4 1005.2,904.4 1005.6,884.7 1006.0,904.6 1006.4,884.9 1006.8,904.8 1007.2,885.2 1007.6,905.0 1008.0,885.4 1008.4,905.2 1008.8,885.7 1009.2,899.1 1009.6,880.4 1010.0,899.4 1010.4,880.7 1010.8,899.6 1011.2,880.9 1011.6,899.8 1012.0,881.2 1012.4,900.0 1012.8,881.5 1013.2,903.8 1013.6,886.6 1014.0,904.0 1014.4,886.8 1014.8,904.2 1015.2,887.1 1015.6,904.4 1016.0,889.5 1016.4,900.1 1016.8,889.8 1017.2,900.3 1017.6,890.1 1018.0,900.6 1018.4,890.3 1018.8,900.8 1019.2,884.9 1019.6,909.4 1020.0,885.2 1020.4,909.6 1020.8,885.5 1021.2,909.8 1021.6,885.8 1022.0,910.0 1022.4,886.1 1022.8,910.3 1023.2,884.8 1023.6,911.5 1024.0,885.0 1024.4,911.7 1024.8,885.3 1025.2,912.0 1025.6,885.6 1026.0,912.2 1026.4,885.9 1026.8,911.0 1027.2,895.3 1027.6,911.2 1028.0,895.5 1028.4,911.5 1028.8,895.8 1029.2,911.7 1029.6,896.1 1030.0,913.2 1030.4,890.8 1030.8,913.4 1031.2,891.1 1031.6,913.7 1032.0,891.4 1032.4,913.9 1032.8,891.6 1033.2,914.1 1033.6,891.9 1034.0,914.3 1034.4,892.2 1034.8,914.5 1035.2,892.5 1035.6,905.6 1036.0,894.0 1036.4,905.9 1036.8,894.2 1037.2,906.1 1037.6,894.5 1038.0,906.3 1038.4,894.8 1038.8,906.5 1039.2,891.0 1039.6,907.0 1040.0,891.2 1040.4,907.2 1040.8,891.5 1041.2,907.4 1041.6,891.7 1042.0,907.6 1042.4,900.8 1042.8,911.7 1043.2,901.0 1043.6,911.8 1044.0,901.2 1044.4,912.0 1044.8,896.5 1045.2,915.9 1045.6,896.7 1046.0,916.1 1046.4,896.9 1046.8,916.2 1047.2,897.1 1047.6,916.4 1048.0,897.4 1048.4,916.5 1048.8,897.6 1049.2,914.0 1049.6,896.8 1050.0,914.2 1050.4,897.0 1050.8,914.3 1051.2,897.2 1051.6,914.5 1052.0,897.4 1052.4,914.6 1052.8,897.6 1053.2,914.8 1053.6,903.1 1054.0,910.1 1054.4,903.3 1054.8,910.3 1055.2,903.4 1055.6,910.4 1056.0,903.6 1056.4,910.6 1056.8,903.8 1057.2,910.7 1057.6,902.7 1058.0,913.8 1058.4,902.9 1058.8,914.0 1059.2,903.0 1059.6,914.1 1060.0,903.2 1060.4,914.2 1060.8,903.4 1061.2,914.4 1061.6,903.5 1062.0,912.9 1062.4,900.2 1062.8,913.1 1063.2,900.3 1063.6,913.2 1064.0,900.5 1064.4,913.3 1064.8,900.7 1065.2,913.4 1065.6,900.8 1066.0,913.6 1066.4,905.1 1066.8,917.4 1067.2,905.3 1067.6,917.5 1068.0,905.4 1068.4,917.6 1068.8,905.6 1069.2,914.3 1069.6,905.8 1070.0,914.4 1070.4,905.9 1070.8,914.5 1071.2,906.1 1071.6,914.6 1072.0,906.2 1072.4,914.7 1072.8,906.3 1073.2,914.8 1073.6,906.4 1074.0,915.1 1074.4,902.4 1074.8,915.2 1075.2,902.5 1075.6,915.3 1076.0,902.7 1076.4,918.4 1076.8,905.8 1077.2,918.4 1077.6,905.9 1078.0,918.5 1078.4,906.0 1078.8,918.6 1079.2,906.1 1079.6,918.7 1080.0,906.3 1080.4,918.7 1080.8,906.4 1081.2,918.8 1081.6,900.8 1082.0,919.5 1082.4,900.9 1082.8,919.6 1083.2,901.1 1083.6,919.7 1084.0,901.2 1084.4,919.7 1084.8,901.3 1085.2,919.8 1085.6,901.5 1086.0,913.9 1086.4,904.6 1086.8,914.0 1087.2,904.7 1087.6,914.1 1088.0,904.8 1088.4,914.2 1088.8,904.9 1089.2,914.3 1089.6,905.1 1090.0,914.4 1090.4,905.2 1090.8,914.5 1091.2,905.3 1091.6,917.3 1092.0,904.2 1092.4,917.4 1092.8,904.3 1093.2,917.5 1093.6,904.5 1094.0,917.6 1094.4,904.6 1094.8,920.1 1095.2,909.7 1095.6,920.1 1096.0,909.8 1096.4,920.2 1096.8,909.9 1097.2,920.3 1097.6,910.1 1098.0,920.4 1098.4,910.2 1098.8,920.5 1099.2,904.0 1099.6,916.2 1100.0,904.1 1100.4,916.3 1100.8,904.3 1101.2,916.5 1101.6,904.4 1102.0,916.6 1102.4,905.9 1102.8,919.2 1103.2,906.0 1103.6,919.3 1104.0,906.2 1104.4,919.5 1104.8,906.3 1105.2,919.6 1105.6,909.8 1106.0,917.5 1106.4,909.9 1106.8,917.6 1107.2,910.0 1107.6,917.8 1108.0,910.2 1108.4,917.9 1108.8,910.3 1109.2,923.2 1109.6,906.3 1110.0,923.3 1110.4,906.5 1110.8,923.5 1111.2,906.6 1111.6,923.6 1112.0,906.8 1112.4,924.0 1112.8,908.5 1113.2,924.1 1113.6,908.7 1114.0,924.3 1114.4,908.8 1114.8,924.5 1115.2,909.0 1115.6,919.8 1116.0,913.9 1116.4,919.9 1116.8,914.0 1117.2,920.1 1117.6,914.2 1118.0,920.3 1118.4,914.4 1118.8,920.4 1119.2,914.5 1119.6,920.6 1120.0,914.7 1120.4,925.5 1120.8,913.2 1121.2,925.7 1121.6,913.4 1122.0,925.9 1122.4,913.6 1122.8,926.1 1123.2,913.8 1123.6,926.3 1124.0,914.0 1124.4,926.5 1124.8,914.2 1125.2,926.7 1125.6,914.4 1126.0,921.5 1126.4,910.0 1126.8,921.7 1127.2,910.3 1127.6,921.9 1128.0,910.5 1128.4,922.2 1128.8,910.7 1129.2,922.4 1129.6,910.9 1130.0,922.6 1130.4,911.1 1130.8,924.0 1131.2,911.3 1131.6,924.2 1132.0,911.5 1132.4,924.5 1132.8,911.7 1133.2,924.7 1133.6,912.0 1134.0,924.9 1134.4,912.2 1134.8,925.1 1135.2,912.4 1135.6,925.3 1136.0,919.3 1136.4,930.3 1136.8,919.5 1137.2,930.5 1137.6,919.7 1138.0,930.8 1138.4,919.9 1138.8,931.0 1139.2,920.1 1139.6,931.2 1140.0,920.3 1140.4,931.4 1140.8,914.9 1141.2,931.0 1141.6,915.1 1142.0,931.2 1142.4,915.3 1142.8,931.4 1143.2,915.5 1143.6,931.6 1144.0,915.7 1144.4,926.5 1144.8,914.8 1145.2,926.7 1145.6,915.0 1146.0,926.9 1146.4,918.4 1146.8,928.2 1147.2,918.6 1147.6,928.4 1148.0,918.7 1148.4,928.6 1148.8,921.0 1149.2,931.6 1149.6,921.1 1150.0,931.7 1150.4,921.3 1150.8,931.9 1151.2,921.5 1151.6,932.1 1152.0,921.7 1152.4,932.3 1152.8,921.9 1153.2,930.8 1153.6,916.2 1154.0,931.0 1154.4,916.3 1154.8,931.1 1155.2,916.5 1155.6,931.3 1156.0,916.7 1156.4,931.5 1156.8,916.9 1157.2,931.7 1157.6,917.1 1158.0,933.8 1158.4,920.2 1158.8,933.9 1159.2,920.4 1159.6,934.1 1160.0,920.5 1160.4,934.3 1160.8,920.6 1161.2,932.8 1161.6,920.8 1162.0,933.0 1162.4,921.0 1162.8,933.1 1163.2,921.1 1163.6,933.3 1164.0,921.3 1164.4,933.4 1164.8,921.4 1165.2,933.6 1165.6,921.6 1166.0,933.7 1166.4,920.6 1166.8,935.4 1167.2,920.8 1167.6,935.5 1168.0,920.9 1168.4,935.7 1168.8,921.0 1169.2,932.2 1169.6,924.4 1170.0,932.3 1170.4,924.5 1170.8,932.4 1171.2,924.0 1171.6,932.5 1172.0,924.1 1172.4,932.6 1172.8,924.2 1173.2,932.7 1173.6,924.3 1174.0,932.7 1174.4,924.4 1174.8,934.2 1175.2,922.3 1175.6,934.3 1176.0,922.4 1176.4,934.4 1176.8,922.5 1177.2,934.4 1177.6,922.6 1178.0,934.5 1178.4,922.6 1178.8,932.4 1179.2,926.9 1179.6,932.5 1180.0,927.0 1180.4,932.5 1180.8,927.1 1181.2,932.6 1181.6,927.1 1182.0,932.6 1182.4,927.2 1182.8,932.7 1183.2,927.2 1183.6,932.8 1184.0,923.8 1184.4,938.1 1184.8,923.8 1185.2,938.1 1185.6,923.9 1186.0,938.2 1186.4,923.9 1186.8,938.2 1187.2,924.0 1187.6,938.3 1188.0,924.0 1188.4,938.3 1188.8,924.5 1189.2,938.9 1189.6,924.5 1190.0,938.9 1190.4,924.6 1190.8,939.0 1191.2,924.6 1191.6,939.0 1192.0,924.7 1192.4,939.1 1192.8,924.7 1193.2,939.1 1193.6,924.8 1194.0,939.2 1194.4,924.8 1194.8,936.9 1195.2,924.9 1195.6,936.9 1196.0,925.0 1196.4,937.0 1196.8,925.0 1197.2,937.1 1197.6,925.1 1198.0,937.2 1198.4,925.2 1198.8,936.6 1199.2,926.5 1199.6,936.7 1200.0,926.6 1200.4,936.8 1200.8,926.7 1201.2,936.9 1201.6,926.8 1202.0,937.0 1202.4,926.9 1202.8,937.1 1203.2,927.1 1203.6,937.2 1204.0,927.2 1204.4,934.6 1204.8,925.1 1205.2,934.8 1205.6,925.3 1206.0,934.9 1206.4,925.4 1206.8,935.1 1207.2,925.6 1207.6,935.3 1208.0,930.3 1208.4,937.9 1208.8,930.5 1209.2,938.1 1209.6,930.7 1210.0,938.3 1210.4,930.9 1210.8,938.5 1211.2,931.1 1211.6,938.7 1212.0,931.3 1212.4,940.3 1212.8,927.5 1213.2,940.5 1213.6,927.7 1214.0,940.7 1214.4,928.0 1214.8,941.0 1215.2,928.2 1215.6,941.2 1216.0,932.5 1216.4,939.5 1216.8,932.7 1217.2,939.8 1217.6,932.9 1218.0,940.0 1218.4,933.1 1218.8,940.2 1219.2,933.3 1219.6,940.4 1220.0,933.5 1220.4,944.3 1220.8,930.8 1221.2,944.5 1221.6,930.9 1222.0,944.7 1222.4,931.1 1222.8,944.9 1223.2,931.3 1223.6,945.1 1224.0,931.5 1224.4,945.3 1224.8,931.7 1225.2,944.3 1225.6,930.7 1226.0,944.4 1226.4,930.8 1226.8,944.6 1227.2,930.9 1227.6,944.7 1228.0,931.1 1228.4,944.8 1228.8,931.2 1229.2,940.7 1229.6,935.6 1230.0,940.8 1230.4,935.7 1230.8,940.9 1231.2,935.8 1231.6,941.0 1232.0,935.9 1232.4,941.1 1232.8,936.0 1233.2,941.2 1233.6,936.1 1234.0,941.3 1234.4,936.2 1234.8,940.7 1235.2,934.7 1235.6,940.8 1236.0,934.8 1236.4,940.8 1236.8,935.3 1237.2,944.4 1237.6,935.4 1238.0,944.5 1238.4,935.5 1238.8,944.5 1239.2,935.6 1239.6,944.6 1240.0,935.7 1240.4,944.7 1240.8,935.8 1241.2,944.8 1241.6,935.8 1242.0,944.9 1242.4,933.5 1242.8,943.2 1243.2,933.5 1243.6,943.3 1244.0,933.6 1244.4,943.4 1244.8,933.7 1245.2,943.4 1245.6,933.8 1246.0,943.5 1246.4,933.8 1246.8,943.6 1247.2,933.9 1247.6,944.1 1248.0,934.4 1248.4,944.2 1248.8,934.4 1249.2,944.2 1249.6,934.5 1250.0,944.3 1250.4,934.6 1250.8,942.7 1251.2,934.7 1251.6,942.7 1252.0,934.8 1252.4,942.8 1252.8,934.8 1253.2,942.9 1253.6,934.9 1254.0,946.6 1254.4,930.8 1254.8,946.6 1255.2,930.9 1255.6,946.7 1256.0,930.9 1256.4,946.8 1256.8,931.0 1257.2,946.9 1257.6,931.1 1258.0,946.9 1258.4,931.1 1258.8,947.0 1259.2,931.6 1259.6,945.5 1260.0,931.7 1260.4,945.6 1260.8,931.8 1261.2,949.9 1261.6,936.8 1262.0,950.0 1262.4,936.8 1262.8,950.0 1263.2,936.9 1263.6,950.1 1264.0,936.9 1264.4,945.9 1264.8,936.6 1265.2,946.0 1265.6,936.7 1266.0,946.0 1266.4,936.7 1266.8,946.1 1267.2,936.8 1267.6,946.1 1268.0,936.8 1268.4,946.2 1268.8,936.3 1269.2,948.5 1269.6,936.3 1270.0,948.5 1270.4,936.4 1270.8,948.6 1271.2,936.4 1271.6,948.6 1272.0,936.5 1272.4,950.0 1272.8,939.1 1273.2,950.1 1273.6,939.1 1274.0,950.1 1274.4,939.2 1274.8,950.2 1275.2,939.3 1275.6,950.2 1276.0,939.3 1276.4,950.3 1276.8,939.4 1277.2,950.4 1277.6,939.4 1278.0,951.4 1278.4,938.2 1278.8,951.5 1279.2,938.2 1279.6,951.6 1280.0,938.3 1280.4,951.6 1280.8,938.4 1281.2,951.7 1281.6,938.5 1282.0,951.8 1282.4,938.6 1282.8,951.9 1283.2,934.8 1283.6,945.4 1284.0,934.9 1284.4,945.5 1284.8,935.0 1285.2,945.6 1285.6,935.1 1286.0,945.7 1286.4,935.3 1286.8,945.8 1287.2,935.4 1287.6,945.9 1288.0,935.5 1288.4,949.5 1288.8,935.4 1289.2,949.6 1289.6,935.6 1290.0,949.8 1290.4,935.7 1290.8,949.9 1291.2,935.9 1291.6,950.1 1292.0,936.0 1292.4,949.2 1292.8,936.2 1293.2,949.4 1293.6,936.4 1294.0,947.3 1294.4,939.7 1294.8,947.5 1295.2,939.9 1295.6,947.7 1296.0,940.1 1296.4,947.9 1296.8,942.8 1297.2,954.8 1297.6,943.1 1298.0,955.0 1298.4,943.3 1298.8,955.2 1299.2,943.5 1299.6,955.4 1300.0,941.3 1300.4,950.4 1300.8,941.5 1301.2,950.6 1301.6,941.7 1302.0,950.8 1302.4,941.9 1302.8,955.4 1303.2,942.1 1303.6,955.6 1304.0,942.3 1304.4,955.8 1304.8,942.5 1305.2,956.0 1305.6,942.7 1306.0,952.5 1306.4,937.9 1306.8,952.7 1307.2,938.1 1307.6,952.9 1308.0,938.3 1308.4,950.7 1308.8,943.5 1309.2,950.9 1309.6,943.6 1310.0,951.1 1310.4,943.8 1310.8,951.2 1311.2,944.0 1311.6,951.4 1312.0,944.1 1312.4,951.5 1312.8,944.3 1313.2,951.7 1313.6,944.4 1314.0,956.8 1314.4,945.9 1314.8,956.9 1315.2,946.0 1315.6,957.1 1316.0,946.2 1316.4,957.2 1316.8,946.3 1317.2,957.4 1317.6,946.5 1318.0,957.5 1318.4,946.6 1318.8,957.7 1319.2,946.3 1319.6,954.6 1320.0,946.4 1320.4,954.8 1320.8,946.6 1321.2,954.9 1321.6,946.7 1322.0,955.0 1322.4,946.9 1322.8,955.2 1323.2,947.0 1323.6,955.3 1324.0,947.1 1324.4,959.5 1324.8,942.4 1325.2,959.6 1325.6,942.5 1326.0,959.7 1326.4,942.7 1326.8,959.9 1327.2,942.8 1327.6,960.0 1328.0,942.9 1328.4,959.7 1328.8,945.3 1329.2,959.8 1329.6,945.4 1330.0,960.0 1330.4,945.5 1330.8,960.1 1331.2,945.6 1331.6,960.2 1332.0,943.0 1332.4,960.7 1332.8,943.1 1333.2,960.8 1333.6,943.2 1334.0,960.9 1334.4,945.6 1334.8,960.0 1335.2,945.7 1335.6,960.1 1336.0,945.8 1336.4,960.2 1336.8,945.8 1337.2,955.3 1337.6,950.1 1338.0,955.3 1338.4,950.2 1338.8,955.4 1339.2,950.2 1339.6,955.5 1340.0,950.3 1340.4,955.5 1340.8,950.3 1341.2,955.6 1341.6,950.2 1342.0,958.8 1342.4,950.2 1342.8,958.9 1343.2,950.3 1343.6,958.9 1344.0,950.3 1344.4,962.1 1344.8,946.8 1345.2,962.2 1345.6,946.9 1346.0,962.2 1346.4,946.9 1346.8,962.3 1347.2,947.0 1347.6,962.3 1348.0,947.0 1348.4,962.3 1348.8,947.1 1349.2,956.6 1349.6,948.1 1350.0,956.6 1350.4,948.1 1350.8,956.6 1351.2,948.1 1351.6,956.7 1352.0,948.2 1352.4,956.7 1352.8,946.5 1353.2,963.1 1353.6,946.6 1354.0,963.2 1354.4,946.6 1354.8,963.2 1355.2,946.6 1355.6,963.2 1356.0,946.7 1356.4,963.3 1356.8,946.7 1357.2,963.3 1357.6,946.7 1358.0,963.3 1358.4,951.2 1358.8,960.5 1359.2,951.2 1359.6,960.6 1360.0,951.2 1360.4,960.6 1360.8,951.3 1361.2,960.6 1361.6,951.3 1362.0,960.7 1362.4,951.3 1362.8,960.7 1363.2,951.4 1363.6,960.7 1364.0,946.4 1364.4,956.6 1364.8,946.5 1365.2,956.6 1365.6,946.5 1366.0,956.7 1366.4,946.5 1366.8,956.7 1367.2,946.6 1367.6,959.2 1368.0,947.7 1368.4,959.2 1368.8,947.7 1369.2,959.3 1369.6,947.8 1370.0,959.3 1370.4,947.8 1370.8,959.4 1371.2,947.8 1371.6,959.4 1372.0,947.3 1372.4,957.0 1372.8,947.3 1373.2,957.0 1373.6,947.4 1374.0,957.1 1374.4,952.3 1374.8,959.1 1375.2,952.4 1375.6,959.1 1376.0,952.4 1376.4,959.1 1376.8,952.4 1377.2,959.2 1377.6,948.1 1378.0,962.0 1378.4,948.1 1378.8,962.0 1379.2,948.1 1379.6,962.1 1380.0,948.2 1380.4,962.6 1380.8,949.8 1381.2,962.7 1381.6,949.8 1382.0,962.7 1382.4,949.9 1382.8,962.7 1383.2,949.9 1383.6,962.8 1384.0,949.9 1384.4,962.8 1384.8,950.0 1385.2,963.0 1385.6,949.1 1386.0,963.1 1386.4,949.1 1386.8,963.1 1387.2,949.2 1387.6,963.2 1388.0,949.2 1388.4,963.2 1388.8,949.2 1389.2,963.2 1389.6,949.7 1390.0,964.6 1390.4,949.7 1390.8,964.7 1391.2,949.7 1391.6,964.7 1392.0,949.8 1392.4,964.7 1392.8,949.8 1393.2,964.8 1393.6,949.9 1394.0,964.8 1394.4,949.9 1394.8,964.8 1395.2,950.6 1395.6,961.3 1396.0,950.7 1396.4,961.3 1396.8,950.7 1397.2,961.3 1397.6,950.8 1398.0,961.4 1398.4,950.8 1398.8,961.4 1399.2,950.8 1399.6,964.8 1400.0,951.4 1400.4,964.8 1400.8,951.4 1401.2,964.9 1401.6,951.5 1402.0,964.9 1402.4,951.5 1402.8,964.9 1403.2,951.6 1403.6,965.0 1404.0,949.3 1404.4,964.6 1404.8,949.3 1405.2,964.6 1405.6,949.4 1406.0,964.6 1406.4,949.4 1406.8,964.7 1407.2,949.1 1407.6,963.6 1408.0,949.2 1408.4,963.7 1408.8,949.2 1409.2,963.7 1409.6,949.2 1410.0,963.8 1410.4,949.3 1410.8,963.8 1411.2,949.3 1411.6,963.8 1412.0,949.4 1412.4,961.8 1412.8,950.0 1413.2,961.8 1413.6,950.1 1414.0,961.9 1414.4,950.1 1414.8,961.9 1415.2,950.2 1415.6,961.9 1416.0,950.2 1416.4,962.0 1416.8,950.2 1417.2,959.8 1417.6,953.5 1418.0,959.8 1418.4,953.5 1418.8,959.8 1419.2,953.5 1419.6,959.9 1420.0,953.6 1420.4,959.9 1420.8,953.6 1421.2,960.0 1421.6,953.7 1422.0,960.0 1422.4,953.2 1422.8,966.3 1423.2,953.2 1423.6,966.4 1424.0,953.2 1424.4,966.4 1424.8,953.3 1425.2,966.4 1425.6,948.5 1426.0,963.4 1426.4,948.5 1426.8,963.4 1427.2,948.6 1427.6,963.4 1428.0,948.6 1428.4,963.5 1428.8,948.7 1429.2,963.5 1429.6,948.8 1430.0,966.0 1430.4,948.8 1430.8,966.0 1431.2,948.9 1431.6,966.1 1432.0,948.9 1432.4,963.8 1432.8,949.7 1433.2,963.8 1433.6,949.8 1434.0,963.9 1434.4,949.8 1434.8,965.1 1435.2,953.0 1435.6,965.2 1436.0,953.1 1436.4,965.2 1436.8,953.1 1437.2,963.8 1437.6,951.2 1438.0,963.8 1438.4,951.2 1438.8,963.8 1439.2,951.2 1439.6,966.1 1440.0,954.4 1440.4,966.1 1440.8,954.5 1441.2,966.1 1441.6,954.5 1442.0,966.2 1442.4,954.6 1442.8,966.2 1443.2,954.6 1443.6,964.8 1444.0,950.9 1444.4,964.8 1444.8,950.9 1445.2,964.9 1445.6,951.0 1446.0,964.9 1446.4,951.0 1446.8,964.9 1447.2,951.1 1447.6,963.3 1448.0,950.7 1448.4,963.3 1448.8,950.8 1449.2,963.4 1449.6,950.8 1450.0,963.4 1450.4,950.9 1450.8,961.9 1451.2,953.0 1451.6,962.0 1452.0,953.0 1452.4,962.0 1452.8,953.1 1453.2,962.1 1453.6,953.1 1454.0,962.1 1454.4,953.1 1454.8,962.1 1455.2,953.2 1455.6,962.2 1456.0,953.2 1456.4,967.8 1456.8,953.7 1457.2,967.9 1457.6,953.8 1458.0,967.9 1458.4,953.8 1458.8,967.9 1459.2,953.8 1459.6,968.0 1460.0,950.2 1460.4,961.2 1460.8,950.3 1461.2,961.2 1461.6,950.3 1462.0,961.3 1462.4,950.3 1462.8,961.3 1463.2,954.8 1463.6,966.6 1464.0,954.8 1464.4,966.7 1464.8,954.9 1465.2,966.7 1465.6,954.0 1466.0,964.3 1466.4,954.1 1466.8,964.4 1467.2,954.1 1467.6,964.4 1468.0,954.1 1468.4,964.4 1468.8,954.2 1469.2,964.5 1469.6,954.2 1470.0,967.3 1470.4,955.7 1470.8,967.3 1471.2,955.8 1471.6,967.4 1472.0,955.8 1472.4,967.4 1472.8,955.8 1473.2,967.4 1473.6,955.9 1474.0,967.5 1474.4,955.9 1474.8,967.5 1475.2,952.5 1475.6,967.8 1476.0,952.5 1476.4,967.8 1476.8,952.5 1477.2,967.9 1477.6,952.6 1478.0,967.9 1478.4,956.3 1478.8,963.7 1479.2,956.3 1479.6,963.7 1480.0,956.4 1480.4,963.8 1480.8,956.4 1481.2,963.8 1481.6,956.5 1482.0,965.2 1482.4,957.2 1482.8,965.3 1483.2,957.3 1483.6,965.3 1484.0,957.3 1484.4,965.3 1484.8,955.2 1485.2,969.3 1485.6,955.3 1486.0,969.3 1486.4,955.3 1486.8,969.4 1487.2,955.3 1487.6,969.4 1488.0,955.4 1488.4,969.5 1488.8,955.4 1489.2,968.3 1489.6,952.6 1490.0,968.3 1490.4,952.6 1490.8,968.4 1491.2,952.7 1491.6,968.4 1492.0,952.7 1492.4,968.5 1492.8,952.8 1493.2,968.5 1493.6,952.8 1494.0,968.5 1494.4,952.8 1494.8,963.1 1495.2,953.0 1495.6,963.2 1496.0,953.1 1496.4,963.2 1496.8,953.1 1497.2,963.2 1497.6,953.2 1498.0,965.2 1498.4,958.3 1498.8,965.3 1499.2,958.3 1499.6,965.3 1500.0,958.6 1500.4,965.9 1500.8,958.7 1501.2,965.9 1501.6,958.7 1502.0,965.9 1502.4,958.8 1502.8,966.0 1503.2,958.8 1503.6,966.0 1504.0,958.8"/>
<polyline stroke="#f54244" points="140.0,707.4 140.4,723.8 140.8,713.3 141.2,729.4 141.6,718.4 142.0,733.8 142.4,722.1 142.8,736.5 143.2,722.8 143.6,739.4 144.0,725.5 144.4,741.7 144.8,731.9 145.2,739.9 145.6,733.4 146.0,741.3 146.4,734.8 146.8,742.5 147.2,731.8 147.6,742.5 148.0,732.8 148.4,743.5 148.8,733.7 149.2,744.4 149.6,734.6 150.0,745.2 150.4,735.4 150.8,746.0 151.2,736.2 151.6,749.0 152.0,736.1 152.4,749.8 152.8,736.9 153.2,750.5 153.6,737.6 154.0,751.2 154.4,738.2 154.8,751.8 155.2,736.5 155.6,754.5 156.0,737.1 156.4,755.1 156.8,737.6 157.2,755.7 157.6,738.2 158.0,756.2 158.4,738.6 158.8,756.6 159.2,739.1 159.6,754.3 160.0,745.7 160.4,754.7 160.8,746.1 161.2,755.1 161.6,746.4 162.0,755.4 162.4,746.7 162.8,759.1 163.2,741.4 163.6,759.4 164.0,741.7 164.4,759.7 164.8,741.9 165.2,760.0 165.6,742.2 166.0,760.3 166.4,742.5 166.8,758.1 167.2,742.5 167.6,758.4 168.0,742.8 168.4,758.7 168.8,743.1 169.2,759.1 169.6,743.5 170.0,756.5 170.4,750.5 170.8,756.9 171.2,750.9 171.6,757.4 172.0,751.4 172.4,757.9 172.8,751.9 173.2,758.4 173.6,752.4 174.0,758.8 174.4,746.6 174.8,764.0 175.2,747.1 175.6,764.4 176.0,747.5 176.4,764.9 176.8,748.0 177.2,763.1 177.6,750.3 178.0,763.5 178.4,750.7 178.8,763.8 179.2,751.0 179.6,764.1 180.0,751.2 180.4,764.3 180.8,751.4 181.2,764.5 181.6,751.5 182.0,764.5 182.4,751.9 182.8,768.2 183.2,751.9 183.6,768.1 184.0,751.8 184.4,768.1 184.8,751.7 185.2,767.9 185.6,751.6 186.0,767.8 186.4,749.0 186.8,765.6 187.2,748.8 187.6,765.3 188.0,748.5 188.4,765.1 188.8,748.3 189.2,764.9 189.6,748.0 190.0,765.2 190.4,750.9 190.8,764.9 191.2,750.7 191.6,764.7 192.0,750.4 192.4,764.4 192.8,750.1 193.2,764.1 193.6,749.8 194.0,763.9 194.4,749.6 194.8,763.6 195.2,749.1 195.6,759.5 196.0,748.9 196.4,759.3 196.8,748.7 197.2,759.1 197.6,748.5 198.0,759.0 198.4,752.3 198.8,762.7 199.2,752.1 199.6,762.6 200.0,752.0 200.4,762.5 200.8,744.9 201.2,763.4 201.6,744.8 202.0,763.3 202.4,744.7 202.8,763.2 203.2,744.5 203.6,763.0 204.0,744.4 204.4,761.0 204.8,743.7 205.2,760.9 205.6,743.6 206.0,760.7 206.4,743.5 206.8,760.6 207.2,743.4 207.6,757.3 208.0,747.8 208.4,757.2 208.8,747.7 209.2,757.1 209.6,747.6 210.0,757.0 210.4,747.5 210.8,756.9 211.2,747.4 211.6,756.8 212.0,747.3 212.4,760.0 212.8,749.0 213.2,759.8 213.6,748.9 214.0,759.7 214.4,748.7 214.8,761.4 215.2,749.9 215.6,761.3 216.0,749.7 216.4,761.1 216.8,749.6 217.2,758.2 217.6,745.9 218.0,758.0 218.4,745.8 218.8,757.9 219.2,745.2 219.6,761.3 220.0,745.0 220.4,761.1 220.8,744.8 221.2,760.9 221.6,744.6 222.0,760.7 222.4,744.4 222.8,760.5 223.2,744.2 223.6,757.7 224.0,743.4 224.4,757.5 224.8,743.2 225.2,757.3 225.6,742.9 226.0,757.1 226.4,742.7 226.8,756.9 227.2,742.5 227.6,756.6 228.0,742.3 228.4,753.2 228.8,738.9 229.2,753.0 229.6,738.7 230.0,752.8 230.4,738.4 230.8,752.6 231.2,738.2 231.6,752.3 232.0,738.0 232.4,750.6 232.8,741.1 233.2,750.4 233.6,740.9 234.0,750.2 234.4,740.7 234.8,750.0 235.2,740.5 235.6,749.8 236.0,740.3 236.4,749.6 236.8,737.1 237.2,755.5 237.6,736.9 238.0,755.3 238.4,736.7 238.8,755.1 239.2,736.5 239.6,748.7 240.0,741.5 240.4,748.5 240.8,741.3 241.2,748.3 241.6,742.7 242.0,748.5 242.4,742.5 242.8,748.4 243.2,742.3 243.6,748.2 244.0,742.2 244.4,748.0 244.8,742.0 245.2,747.9 245.6,741.8 246.0,747.7 246.4,741.7 246.8,749.7 247.2,738.8 247.6,749.5 248.0,738.6 248.4,749.4 248.8,738.5 249.2,749.2 249.6,738.3 250.0,749.0 250.4,738.1 250.8,748.9 251.2,738.0 251.6,748.7 252.0,737.8 252.4,749.0 252.8,738.1 253.2,748.8 253.6,738.0 254.0,748.6 254.4,740.9 254.8,746.7 255.2,740.8 255.6,746.5 256.0,740.6 256.4,746.4 256.8,740.4 257.2,746.2 257.6,740.3 258.0,746.0 258.4,736.6 258.8,747.1 259.2,736.4 259.6,747.0 260.0,736.3 260.4,746.8 260.8,736.1 261.2,751.6 261.6,737.2 262.0,751.5 262.4,737.1 262.8,751.3 263.2,736.9 263.6,751.2 264.0,736.8 264.4,751.0 264.8,736.6 265.2,750.9 265.6,738.3 266.0,745.0 266.4,738.1 266.8,744.9 267.2,738.0 267.6,744.7 268.0,737.8 268.4,744.5 268.8,737.7 269.2,744.4 269.6,737.5 270.0,744.2 270.4,737.3 270.8,744.0 271.2,731.3 271.6,742.7 272.0,731.1 272.4,742.5 272.8,730.9 273.2,742.3 273.6,730.8 274.0,742.1 274.4,730.6 274.8,741.9 275.2,732.9 275.6,746.6 276.0,732.7 276.4,746.4 276.8,732.4 277.2,746.1 277.6,728.8 278.0,746.9 278.4,728.6 278.8,746.6 279.2,728.3 279.6,746.3 280.0,728.0 280.4,746.0 280.8,727.7 281.2,745.7 281.6,727.3 282.0,745.4 282.4,727.0 282.8,745.1 283.2,725.8 283.6,743.3 284.0,725.5 284.4,743.0 284.8,725.1 285.2,742.7 285.6,730.7 286.0,742.4 286.4,730.4 286.8,742.0 287.2,728.5 287.6,743.2 288.0,728.2 288.4,742.9 288.8,727.9 289.2,742.6 289.6,727.6 290.0,742.3 290.4,726.5 290.8,741.9 291.2,726.2 291.6,741.7 292.0,725.9 292.4,741.4 292.8,725.7 293.2,741.1 293.6,725.4 294.0,740.9 294.4,725.2 294.8,740.7 295.2,725.0 295.6,739.0 296.0,721.3 296.4,738.8 296.8,721.1 297.2,738.6 297.6,720.9 298.0,738.4 298.4,720.7 298.8,738.2 299.2,728.2 299.6,740.4 300.0,728.0 300.4,740.2 300.8,727.9 301.2,740.0 301.6,727.7 302.0,739.9 302.4,727.6 302.8,739.7 303.2,727.4 303.6,739.6 304.0,727.3 304.4,739.4 304.8,721.6 305.2,733.6 305.6,721.5 306.0,733.5 306.4,721.3 306.8,733.3 307.2,721.2 307.6,733.2 308.0,721.0 308.4,733.0 308.8,724.3 309.2,732.1 309.6,724.2 310.0,732.0 310.4,724.0 310.8,731.8 311.2,723.9 311.6,731.7 312.0,723.7 312.4,731.5 312.8,718.4 313.2,736.0 313.6,718.3 314.0,735.8 314.4,718.1 314.8,733.9 315.2,723.3 315.6,733.8 316.0,723.1 316.4,733.6 316.8,722.9 317.2,733.4 317.6,723.9 318.0,737.4 318.4,723.7 318.8,737.2 319.2,723.6 319.6,737.1 320.0,723.4 320.4,736.9 320.8,723.2 321.2,736.7 321.6,723.0 322.0,736.5 322.4,722.9 322.8,733.7 323.2,721.6 323.6,733.5 324.0,721.4 324.4,733.3 324.8,721.2 325.2,733.1 325.6,721.0 326.0,732.8 326.4,720.8 326.8,732.6 327.2,720.6 327.6,732.4 328.0,720.3 328.4,727.6 328.8,716.3 329.2,727.3 329.6,716.1 330.0,727.0 330.4,715.8 330.8,726.7 331.2,715.5 331.6,730.9 332.0,716.0 332.4,730.5 332.8,715.6 333.2,730.1 333.6,715.2 334.0,729.7 334.4,714.8 334.8,729.2 335.2,711.8 335.6,725.6 336.0,711.3 336.4,725.1 336.8,710.8 337.2,724.6 337.6,710.3 338.0,724.0 338.4,709.7 338.8,723.5 339.2,709.2 339.6,725.7 340.0,712.8 340.4,725.1 340.8,712.2 341.2,724.6 341.6,711.7 342.0,725.4 342.4,708.5 342.8,724.8 343.2,707.9 343.6,724.3 344.0,707.4 344.4,723.8 344.8,706.9 345.2,723.2 345.6,706.3 346.0,722.7 346.4,705.8 346.8,722.2 347.2,705.3 347.6,717.7 348.0,708.4 348.4,717.2 348.8,707.9 349.2,716.6 349.6,707.4 350.0,716.1 350.4,706.8 350.8,715.6 351.2,706.3 351.6,715.0 352.0,705.7 352.4,714.5 352.8,705.2 353.2,717.2 353.6,704.4 354.0,716.6 354.4,703.8 354.8,716.1 355.2,703.3 355.6,715.5 356.0,702.7 356.4,714.9 356.8,703.3 357.2,713.3 357.6,702.7 358.0,712.7 358.4,702.1 358.8,712.1 359.2,701.6 359.6,711.5 360.0,701.0 360.4,710.9 360.8,700.3 361.2,710.3 361.6,699.7 362.0,709.7 362.4,696.3 362.8,712.3 363.2,695.6 363.6,711.7 364.0,695.0 364.4,711.0 364.8,694.3 365.2,710.3 365.6,693.7 366.0,709.7 366.4,693.0 366.8,702.3 367.2,689.1 367.6,701.6 368.0,688.4 368.4,700.9 368.8,687.7 369.2,700.2 369.6,687.0 370.0,699.5 370.4,686.3 370.8,698.8 371.2,685.6 371.6,704.1 372.0,691.6 372.4,703.4 372.8,690.9 373.2,702.7 373.6,690.2 374.0,701.7 374.4,690.0 374.8,701.0 375.2,689.3 375.6,700.3 376.0,688.6 376.4,699.6 376.8,687.9 377.2,698.9 377.6,687.2 378.0,698.2 378.4,686.6 378.8,697.6 379.2,685.9 379.6,692.6 380.0,677.8 380.4,691.9 380.8,677.0 381.2,691.3 381.6,676.3 382.0,690.7 382.4,675.5 382.8,690.0 383.2,674.8 383.6,689.4 384.0,674.0 384.4,687.1 384.8,679.1 385.2,686.4 385.6,678.4 386.0,685.8 386.4,677.7 386.8,685.1 387.2,677.0 387.6,684.4 388.0,676.3 388.4,683.8 388.8,675.5 389.2,688.8 389.6,676.6 390.0,688.1 390.4,675.9 390.8,687.5 391.2,675.1 391.6,686.9 392.0,674.4 392.4,686.2 392.8,673.7 393.2,685.6 393.6,673.0 394.0,686.8 394.4,668.0 394.8,686.1 395.2,667.3 395.6,685.5 396.0,666.5 396.4,684.9 396.8,665.9 397.2,679.0 397.6,665.1 398.0,678.3 398.4,664.3 398.8,677.5 399.2,663.4 399.6,675.0 400.0,662.5 400.4,674.2 400.8,661.6 401.2,673.3 401.6,660.6 402.0,673.5 402.4,658.2 402.8,672.6 403.2,657.2 403.6,671.6 404.0,656.1 404.4,670.6 404.8,655.0 405.2,669.6 405.6,653.8 406.0,668.4 406.4,652.5 406.8,671.3 407.2,654.0 407.6,670.1 408.0,652.6 408.4,668.7 408.8,651.1 409.2,667.2 409.6,649.4 410.0,665.5 410.4,647.6 410.8,663.8 411.2,645.7 411.6,662.0 412.0,643.7 412.4,652.8 412.8,642.6 413.2,650.9 413.6,640.6 414.0,648.9 414.4,638.5 414.8,646.8 415.2,636.4 415.6,644.8 416.0,634.3 416.4,642.8 416.8,632.3 417.2,642.6 417.6,622.3 418.0,640.5 418.4,620.1 418.8,638.4 419.2,617.8 419.6,636.2 420.0,615.5 420.4,634.0 420.8,613.2 421.2,631.8 421.6,610.8 422.0,629.5 422.4,614.7 422.8,632.4 423.2,612.4 423.6,630.3 424.0,610.2 424.4,628.2 424.8,601.7 425.2,631.0 425.6,599.7 426.0,629.1 426.4,597.7 426.8,627.3 427.2,595.8 427.6,625.6 428.0,593.8 428.4,623.8 428.8,591.9 429.2,622.0 429.6,590.0 430.0,620.3 430.4,592.7 430.8,611.7 431.2,590.8 431.6,610.0 432.0,589.1 432.4,608.4 432.8,587.3 433.2,603.4 433.6,592.4 434.0,601.8 434.4,590.8 434.8,600.3 435.2,589.3 435.6,598.8 436.0,587.5 436.4,597.2 436.8,586.1 437.2,595.8 437.6,584.7 438.0,594.6 438.4,583.4 438.8,593.4 439.2,575.2 439.6,596.8 440.0,574.0 440.4,595.8 440.8,572.9 441.2,593.9 441.6,573.1 442.0,592.9 442.4,572.1 442.8,592.0 443.2,571.1 443.6,591.1 444.0,564.6 444.4,589.3 444.8,563.6 445.2,588.4 445.6,562.7 446.0,587.6 446.4,561.7 446.8,586.7 447.2,560.6 447.6,585.8 448.0,559.6 448.4,593.0 448.8,568.5 449.2,592.1 449.6,567.4 450.0,591.1 450.4,566.3 450.8,589.9 451.2,565.1 451.6,588.8 452.0,563.9 452.4,587.6 452.8,563.6 453.2,576.8 453.6,562.5 454.0,575.7 454.4,561.4 454.8,574.7 455.2,560.4 455.6,573.7 456.0,559.5 456.4,572.9 456.8,558.7 457.2,572.9 457.6,557.8 458.0,572.3 458.4,557.3 458.8,571.8 459.2,556.8 459.6,571.0 460.0,552.5 460.4,570.6 460.8,552.2 461.2,570.2 461.6,551.8 462.0,569.9 462.4,551.5 462.8,569.6 463.2,551.2 463.6,569.3 464.0,550.9 464.4,569.1 464.8,553.3 465.2,575.2 465.6,553.1 466.0,574.9 466.4,552.8 466.8,574.6 467.2,552.5 467.6,574.3 468.0,552.2 468.4,568.2 468.8,551.5 469.2,567.9 469.6,551.2 470.0,567.6 470.4,544.6 470.8,565.3 471.2,544.3 471.6,565.0 472.0,544.0 472.4,564.7 472.8,553.3 473.2,572.5 473.6,553.0 474.0,572.2 474.4,552.6 474.8,571.8 475.2,552.3 475.6,571.5 476.0,543.5 476.4,563.5 476.8,543.1 477.2,563.1 477.6,542.7 478.0,562.7 478.4,542.2 478.8,562.1 479.2,546.2 479.6,569.3 480.0,545.5 480.4,568.6 480.8,544.7 481.2,568.7 481.6,543.6 482.0,567.9 482.4,542.8 482.8,567.2 483.2,542.1 483.6,566.5 484.0,541.4 484.4,565.9 484.8,540.9 485.2,565.4 485.6,540.4 486.0,565.0 486.4,537.7 486.8,556.6 487.2,537.7 487.6,556.6 488.0,537.7 488.4,565.6 488.8,542.1 489.2,565.8 489.6,542.2 490.0,565.9 490.4,542.4 490.8,566.1 491.2,542.6 491.6,566.4 492.0,532.7 492.4,555.6 492.8,532.9 493.2,555.8 493.6,533.2 494.0,556.1 494.4,533.5 494.8,556.4 495.2,540.9 495.6,565.2 496.0,541.2 496.4,565.4 496.8,541.4 497.2,565.7 497.6,541.7 498.0,566.1 498.4,542.1 498.8,557.4 499.2,541.8 499.6,557.8 500.0,542.2 500.4,558.2 500.8,542.6 501.2,558.6 501.6,543.0 502.0,559.5 502.4,540.1 502.8,560.0 503.2,540.5 503.6,560.4 504.0,540.9 504.4,560.7 504.8,541.3 505.2,561.9 505.6,548.5 506.0,562.2 506.4,548.7 506.8,562.4 507.2,548.9 507.6,562.6 508.0,549.2 508.4,562.9 508.8,541.3 509.2,570.4 509.6,541.5 510.0,570.7 510.4,541.7 510.8,570.9 511.2,547.9 511.6,571.7 512.0,548.1 512.4,571.8 512.8,548.2 513.2,572.0 513.6,548.3 514.0,572.1 514.4,541.1 514.8,574.9 515.2,541.1 515.6,574.9 516.0,541.1 516.4,574.9 516.8,541.1 517.2,574.9 517.6,541.1 518.0,574.8 518.4,541.1 518.8,569.5 519.2,544.6 519.6,569.5 520.0,544.5 520.4,569.4 520.8,544.5 521.2,569.3 521.6,544.4 522.0,569.2 522.4,547.2 522.8,571.6 523.2,547.0 523.6,571.4 524.0,546.9 524.4,571.3 524.8,546.8 525.2,571.2 525.6,544.2 526.0,567.8 526.4,544.0 526.8,567.6 527.2,543.8 527.6,567.4 528.0,543.5 528.4,567.1 528.8,543.3 529.2,566.8 529.6,540.9 530.0,561.5 530.4,540.6 530.8,561.1 531.2,540.3 531.6,560.8 532.0,539.9 532.4,560.4 532.8,539.6 533.2,560.1 533.6,539.2 534.0,559.8 534.4,538.9 534.8,559.5 535.2,536.7 535.6,568.9 536.0,536.4 536.4,568.7 536.8,536.2 537.2,568.5 537.6,536.0 538.0,568.3 538.4,535.9 538.8,568.1 539.2,535.7 539.6,568.0 540.0,535.5 540.4,559.7 540.8,543.1 541.2,559.5 541.6,542.9 542.0,559.3 542.4,542.7 542.8,559.1 543.2,542.5 543.6,567.4 544.0,540.8 544.4,567.2 544.8,540.5 545.2,566.8 545.6,537.4 546.0,566.4 546.4,536.9 546.8,565.8 547.2,536.3 547.6,565.1 548.0,535.6 548.4,564.4 548.8,534.8 549.2,563.6 549.6,534.0 550.0,562.7 550.4,539.3 550.8,561.2 551.2,538.4 551.6,560.3 552.0,537.5 552.4,559.5 552.8,536.7 553.2,558.6 553.6,535.9 554.0,557.9 554.4,535.1 554.8,550.5 555.2,525.1 555.6,549.8 556.0,524.5 556.4,549.2 556.8,523.8 557.2,548.6 557.6,523.2 558.0,544.9 558.4,524.9 558.8,544.3 559.2,524.3 559.6,543.7 560.0,528.2 560.4,552.6 560.8,527.6 561.2,552.0 561.6,527.0 562.0,551.5 562.4,526.5 562.8,550.9 563.2,526.0 563.6,550.4 564.0,525.5 564.4,549.9 564.8,525.0 565.2,548.0 565.6,522.7 566.0,547.6 566.4,522.3 566.8,547.2 567.2,521.0 567.6,539.3 568.0,520.6 568.4,538.9 568.8,520.3 569.2,538.6 569.6,523.3 570.0,544.9 570.4,522.9 570.8,544.5 571.2,522.5 571.6,544.1 572.0,522.1 572.4,543.7 572.8,524.2 573.2,545.5 573.6,523.7 574.0,545.0 574.4,523.1 574.8,544.3 575.2,518.7 575.6,536.6 576.0,517.9 576.4,535.8 576.8,517.1 577.2,534.9 577.6,516.2 578.0,534.0 578.4,515.2 578.8,533.0 579.2,514.3 579.6,532.1 580.0,513.2 580.4,531.6 580.8,512.2 581.2,530.7 581.6,511.4 582.0,529.9 582.4,510.6 582.8,529.1 583.2,509.9 583.6,528.5 584.0,509.3 584.4,534.9 584.8,512.5 585.2,534.3 585.6,511.9 586.0,533.7 586.4,511.3 586.8,533.1 587.2,510.8 587.6,532.6 588.0,510.2 588.4,532.1 588.8,509.8 589.2,531.6 589.6,503.0 590.0,529.5 590.4,502.7 590.8,529.1 591.2,502.3 591.6,528.8 592.0,502.1 592.4,528.7 592.8,502.0 593.2,528.6 593.6,501.9 594.0,531.9 594.4,498.7 594.8,532.0 595.2,498.8 595.6,532.2 596.0,499.0 596.4,532.4 596.8,499.3 597.2,532.7 597.6,499.6 598.0,533.1 598.4,500.0 598.8,533.1 599.2,510.5 599.6,533.5 600.0,510.9 600.4,534.0 600.8,511.4 601.2,534.5 601.6,511.0 602.0,533.7 602.4,511.5 602.8,534.2 603.2,512.0 603.6,534.7 604.0,512.7 604.4,531.5 604.8,504.8 605.2,532.4 605.6,505.9 606.0,533.5 606.4,507.0 606.8,534.7 607.2,508.3 607.6,536.0 608.0,509.5 608.4,537.3 608.8,510.8 609.2,538.6 609.6,512.1 610.0,542.9 610.4,511.3 610.8,544.1 611.2,512.4 611.6,545.1 612.0,513.3 612.4,546.0 612.8,514.1 613.2,539.0 613.6,528.5 614.0,539.6 614.4,529.1 614.8,540.2 615.2,529.6 615.6,540.6 616.0,530.0 616.4,541.0 616.8,530.4 617.2,541.5 617.6,518.2 618.0,542.4 618.4,518.6 618.8,542.9 619.2,519.1 619.6,542.8 620.0,524.1 620.4,543.3 620.8,524.6 621.2,543.8 621.6,525.2 622.0,553.8 622.4,520.7 622.8,554.5 623.2,521.5 623.6,555.3 624.0,522.4 624.4,556.3 624.8,523.5 625.2,557.4 625.6,524.7 626.0,552.1 626.4,526.4 626.8,553.4 627.2,527.7 627.6,554.7 628.0,529.1 628.4,556.1 628.8,538.8 629.2,565.9 629.6,540.2 630.0,567.3 630.4,541.6 630.8,568.7 631.2,543.0 631.6,570.0 632.0,544.4 632.4,571.4 632.8,540.0 633.2,567.4 633.6,541.3 634.0,568.7 634.4,542.7 634.8,570.1 635.2,544.1 635.6,571.5 636.0,554.3 636.4,571.7 636.8,555.7 637.2,573.1 637.6,557.1 638.0,574.5 638.4,558.5 638.8,576.0 639.2,560.0 639.6,577.4 640.0,561.4 640.4,574.1 640.8,556.5 641.2,575.5 641.6,557.9 642.0,577.0 642.4,559.4 642.8,578.5 643.2,560.9 643.6,580.0 644.0,562.5 644.4,581.5 644.8,564.1 645.2,583.1 645.6,565.6 646.0,592.3 646.4,570.5 646.8,593.8 647.2,572.0 647.6,595.4 648.0,577.4 648.4,595.7 648.8,578.9 649.2,597.1 649.6,580.4 650.0,598.1 650.4,576.4 650.8,599.4 651.2,577.6 651.6,600.6 652.0,578.8 652.4,601.7 652.8,580.0 653.2,602.8 653.6,581.1 654.0,603.9 654.4,582.1 654.8,604.9 655.2,585.4 655.6,603.9 656.0,586.4 656.4,604.8 656.8,587.4 657.2,605.8 657.6,588.3 658.0,602.3 658.4,586.8 658.8,603.2 659.2,587.7 659.6,604.1 660.0,588.7 660.4,605.0 660.8,587.0 661.2,605.2 661.6,587.9 662.0,606.2 662.4,588.9 662.8,607.1 663.2,589.8 663.6,608.1 664.0,590.8 664.4,609.0 664.8,591.7 665.2,609.9 665.6,592.7 666.0,610.9 666.4,591.1 666.8,615.6 667.2,592.0 667.6,616.4 668.0,593.0 668.4,617.3 668.8,604.8 669.2,622.3 669.6,605.6 670.0,623.1 670.4,606.5 670.8,623.9 671.2,607.3 671.6,617.9 672.0,597.0 672.4,618.7 672.8,597.8 673.2,619.5 673.6,598.6 674.0,620.3 674.4,599.4 674.8,621.0 675.2,600.2 675.6,630.6 676.0,601.1 676.4,631.3 676.8,601.9 677.2,632.1 677.6,602.6 678.0,632.8 678.4,603.3 678.8,633.4 679.2,604.0 679.6,634.1 680.0,604.7 680.4,624.3 680.8,610.5 681.2,625.0 681.6,611.2 682.0,625.6 682.4,611.8 682.8,626.2 683.2,612.4 683.6,626.8 684.0,613.0 684.4,627.4 684.8,613.6 685.2,628.5 685.6,619.7 686.0,629.0 686.4,620.3 686.8,629.6 687.2,620.9 687.6,630.1 688.0,621.4 688.4,630.7 688.8,622.0 689.2,631.3 689.6,621.3 690.0,636.7 690.4,621.9 690.8,637.3 691.2,622.4 691.6,637.8 692.0,623.0 692.4,638.3 692.8,623.5 693.2,643.5 693.6,623.3 694.0,644.0 694.4,623.9 694.8,644.5 695.2,624.4 695.6,645.1 696.0,625.0 696.4,645.6 696.8,625.5 697.2,646.1 697.6,626.1 698.0,646.7 698.4,628.5 698.8,642.4 699.2,629.1 699.6,643.0 700.0,629.8 700.4,643.7 700.8,630.5 701.2,644.4 701.6,631.3 702.0,645.3 702.4,632.2 702.8,646.1 703.2,633.1 703.6,647.0 704.0,624.8 704.4,646.0 704.8,625.7 705.2,646.8 705.6,626.5 706.0,647.6 706.4,627.2 706.8,648.2 707.2,627.8 707.6,648.8 708.0,628.4 708.4,649.3 708.8,633.6 709.2,648.8 709.6,634.1 710.0,649.3 710.4,634.6 710.8,649.7 711.2,635.1 711.6,650.2 712.0,635.5 712.4,650.6 712.8,635.9 713.2,651.0 713.6,636.4 714.0,659.7 714.4,633.6 714.8,660.1 715.2,634.0 715.6,660.5 716.0,634.4 716.4,660.8 716.8,634.7 717.2,661.2 717.6,635.1 718.0,658.1 718.4,642.4 718.8,658.4 719.2,642.7 719.6,658.7 720.0,643.0 720.4,659.1 720.8,643.4 721.2,659.4 721.6,643.7 722.0,659.7 722.4,635.9 722.8,653.1 723.2,636.3 723.6,653.5 724.0,636.6 724.4,653.8 724.8,636.9 725.2,654.1 725.6,636.1 726.0,654.4 726.4,636.5 726.8,654.7 727.2,636.8 727.6,655.0 728.0,637.2 728.4,655.4 728.8,637.5 729.2,655.7 729.6,637.9 730.0,667.1 730.4,637.0 730.8,667.5 731.2,637.3 731.6,667.8 732.0,637.4 732.4,661.9 732.8,637.8 733.2,662.3 733.6,638.2 734.0,662.7 734.4,644.4 734.8,662.3 735.2,644.9 735.6,662.7 736.0,645.4 736.4,663.2 736.8,645.9 737.2,663.7 737.6,646.5 738.0,664.3 738.4,645.2 738.8,672.5 739.2,645.8 739.6,673.1 740.0,646.4 740.4,673.7 740.8,647.0 741.2,674.3 741.6,647.7 742.0,674.9 742.4,648.3 742.8,675.5 743.2,648.9 743.6,670.8 744.0,645.6 744.4,671.4 744.8,646.2 745.2,672.1 745.6,646.9 746.0,672.7 746.4,647.5 746.8,673.3 747.2,648.2 747.6,673.9 748.0,653.3 748.4,668.1 748.8,653.9 749.2,668.7 749.6,654.5 750.0,669.3 750.4,655.1 750.8,669.8 751.2,655.7 751.6,682.3 752.0,661.7 752.4,682.8 752.8,662.2 753.2,683.3 753.6,662.7 754.0,683.8 754.4,663.2 754.8,684.2 755.2,663.6 755.6,684.6 756.0,664.0 756.4,682.8 756.8,657.2 757.2,683.1 757.6,657.6 758.0,683.4 758.4,665.6 758.8,684.2 759.2,665.8 759.6,684.4 760.0,666.0 760.4,684.6 760.8,666.2 761.2,684.7 761.6,666.3 762.0,684.8 762.4,664.0 762.8,683.4 763.2,664.1 763.6,683.5 764.0,664.2 764.4,683.6 764.8,664.3 765.2,683.6 765.6,666.8 766.0,680.5 766.4,666.8 766.8,680.6 767.2,666.9 767.6,680.6 768.0,667.0 768.4,680.7 768.8,667.0 769.2,680.7 769.6,667.1 770.0,680.8 770.4,667.1 770.8,680.8 771.2,664.9 771.6,686.9 772.0,665.0 772.4,687.0 772.8,665.0 773.2,687.0 773.6,665.1 774.0,687.0 774.4,665.1 774.8,687.1 775.2,665.1 775.6,677.5 776.0,667.7 776.4,677.6 776.8,667.7 777.2,677.6 777.6,667.8 778.0,677.6 778.4,667.8 778.8,677.7 779.2,667.9 779.6,677.7 780.0,663.2 780.4,687.1 780.8,663.3 781.2,687.1 781.6,663.3 782.0,687.2 782.4,667.1 782.8,678.6 783.2,667.2 783.6,678.6 784.0,667.3 784.4,678.7 784.8,663.9 785.2,681.3 785.6,664.0 786.0,681.4 786.4,664.0 786.8,681.4 787.2,664.1 787.6,681.5 788.0,664.2 788.4,681.6 788.8,659.5 789.2,682.5 789.6,659.6 790.0,682.6 790.4,659.7 790.8,682.7 791.2,669.6 791.6,682.6 792.0,669.8 792.4,682.7 792.8,669.9 793.2,682.9 793.6,670.1 794.0,683.1 794.4,670.3 794.8,683.3 795.2,670.5 795.6,683.4 796.0,670.7 796.4,686.5 796.8,661.1 797.2,686.7 797.6,661.3 798.0,686.9 798.4,661.5 798.8,687.2 799.2,661.8 799.6,687.3 800.0,670.3 800.4,687.5 800.8,670.5 801.2,687.8 801.6,670.8 802.0,688.0 802.4,671.1 802.8,688.3 803.2,671.3 803.6,692.0 804.0,664.1 804.4,692.2 804.8,664.3 805.2,692.4 805.6,664.6 806.0,692.7 806.4,664.9 806.8,692.9 807.2,665.1 807.6,693.2 808.0,665.3 808.4,693.4 808.8,671.2 809.2,684.6 809.6,671.4 810.0,684.8 810.4,671.6 810.8,685.0 811.2,671.9 811.6,685.2 812.0,672.1 812.4,685.4 812.8,666.2 813.2,690.6 813.6,666.4 814.0,690.8 814.4,666.6 814.8,690.9 815.2,666.8 815.6,691.1 816.0,666.9 816.4,691.2 816.8,667.1 817.2,691.4 817.6,671.2 818.0,694.1 818.4,671.3 818.8,694.3 819.2,671.5 819.6,694.4 820.0,671.6 820.4,694.5 820.8,671.8 821.2,694.7 821.6,671.9 822.0,694.8 822.4,675.0 822.8,691.8 823.2,675.1 823.6,691.9 824.0,675.2 824.4,692.0 824.8,675.4 825.2,692.1 825.6,675.5 826.0,692.3 826.4,675.6 826.8,696.6 827.2,676.2 827.6,696.7 828.0,676.4 828.4,696.8 828.8,676.5 829.2,696.9 829.6,676.6 830.0,697.0 830.4,676.7 830.8,697.1 831.2,677.5 831.6,688.7 832.0,677.6 832.4,688.8 832.8,677.8 833.2,688.9 833.6,677.9 834.0,689.0 834.4,678.0 834.8,689.1 835.2,678.1 835.6,689.2 836.0,678.2 836.4,688.8 836.8,668.8 837.2,688.9 837.6,668.9 838.0,688.9 838.4,674.1 838.8,687.6 839.2,674.2 839.6,687.7 840.0,674.3 840.4,687.8 840.8,674.4 841.2,687.9 841.6,674.5 842.0,688.0 842.4,674.6 842.8,688.1 843.2,674.6 843.6,696.5 844.0,677.7 844.4,696.6 844.8,677.8 845.2,696.7 845.6,677.9 846.0,696.8 846.4,679.4 846.8,699.0 847.2,679.5 847.6,699.1 848.0,679.5 848.4,699.1 848.8,679.6 849.2,699.2 849.6,680.6 850.0,699.6 850.4,680.7 850.8,699.7 851.2,680.8 851.6,699.8 852.0,680.8 852.4,699.8 852.8,680.9 853.2,699.9 853.6,676.6 854.0,690.2 854.4,676.7 854.8,690.3 855.2,676.7 855.6,690.3 856.0,676.8 856.4,690.4 856.8,676.9 857.2,690.5 857.6,676.9 858.0,699.9 858.4,681.1 858.8,699.9 859.2,681.1 859.6,700.0 860.0,681.2 860.4,700.0 860.8,681.2 861.2,700.1 861.6,681.3 862.0,700.1 862.4,674.1 862.8,698.2 863.2,674.1 863.6,698.2 864.0,674.2 864.4,698.2 864.8,674.2 865.2,698.3 865.6,674.3 866.0,698.3 866.4,674.3 866.8,698.3 867.2,677.2 867.6,698.8 868.0,677.2 868.4,698.8 868.8,677.2 869.2,698.8 869.6,677.2 870.0,698.8 870.4,677.2 870.8,698.8 871.2,677.2 871.6,698.7 872.0,677.1 872.4,697.9 872.8,674.4 873.2,697.9 873.6,674.3 874.0,697.8 874.4,674.2 874.8,699.6 875.2,681.0 875.6,699.5 876.0,680.8 876.4,699.3 876.8,680.7 877.2,699.2 877.6,680.6 878.0,695.2 878.4,680.4 878.8,695.1 879.2,680.3 879.6,694.9 880.0,680.1 880.4,694.7 880.8,679.9 881.2,694.5 881.6,679.8 882.0,694.4 882.4,679.6 882.8,698.1 883.2,678.3 883.6,697.9 884.0,678.1 884.4,697.8 884.8,678.0 885.2,690.1 885.6,671.4 886.0,689.9 886.4,671.2 886.8,689.7 887.2,671.0 887.6,689.6 888.0,670.9 888.4,689.4 888.8,670.8 889.2,689.3 889.6,671.6 890.0,689.9 890.4,671.5 890.8,689.7 891.2,671.4 891.6,689.6 892.0,671.3 892.4,689.5 892.8,671.2 893.2,689.4 893.6,671.1 894.0,689.4 894.4,675.9 894.8,692.2 895.2,675.9 895.6,692.1 896.0,675.9 896.4,692.1 896.8,675.9 897.2,692.1 897.6,675.9 898.0,695.1 898.4,673.6 898.8,695.2 899.2,673.7 899.6,695.2 900.0,673.7 900.4,686.7 900.8,672.0 901.2,686.8 901.6,672.1 902.0,686.8 902.4,672.2 902.8,686.9 903.2,672.3 903.6,687.0 904.0,672.4 904.4,687.1 904.8,672.3 905.2,696.9 905.6,672.5 906.0,697.0 906.4,672.6 906.8,697.1 907.2,672.7 907.6,697.3 908.0,672.9 908.4,697.4 908.8,673.1 909.2,697.6 909.6,673.2 910.0,693.0 910.4,669.8 910.8,693.1 911.2,670.0 911.6,693.3 912.0,670.2 912.4,693.5 912.8,670.4 913.2,693.7 913.6,670.6 914.0,693.9 914.4,670.8 914.8,694.1 915.2,671.0 915.6,688.7 916.0,680.7 916.4,688.9 916.8,680.9 917.2,689.1 917.6,681.1 918.0,689.3 918.4,681.3 918.8,689.5 919.2,681.5 919.6,689.7 920.0,681.7 920.4,700.2 920.8,675.4 921.2,700.4 921.6,675.6 922.0,700.6 922.4,675.8 922.8,700.7 923.2,676.0 923.6,700.9 924.0,676.2 924.4,701.1 924.8,676.4 925.2,699.5 925.6,678.7 926.0,699.7 926.4,678.9 926.8,700.0 927.2,679.2 927.6,700.2 928.0,679.4 928.4,696.0 928.8,675.7 929.2,696.3 929.6,676.0 930.0,696.6 930.4,676.3 930.8,696.9 931.2,676.6 931.6,697.1 932.0,676.9 932.4,697.4 932.8,677.0 933.2,703.5 933.6,677.3 934.0,703.8 934.4,677.7 934.8,704.1 935.2,678.0 935.6,704.4 936.0,678.3 936.4,704.7 936.8,678.6 937.2,705.1 937.6,679.0 938.0,698.7 938.4,678.8 938.8,699.0 939.2,679.1 939.6,699.3 940.0,679.5 940.4,699.7 940.8,679.8 941.2,703.8 941.6,679.3 942.0,704.1 942.4,679.7 942.8,704.4 943.2,680.0 943.6,704.7 944.0,680.3 944.4,705.1 944.8,680.6 945.2,703.9 945.6,687.9 946.0,704.2 946.4,688.2 946.8,704.5 947.2,688.5 947.6,704.8 948.0,688.8 948.4,705.1 948.8,689.1 949.2,705.7 949.6,685.9 950.0,705.9 950.4,686.1 950.8,706.2 951.2,686.4 951.6,706.4 952.0,686.7 952.4,706.7 952.8,692.4 953.2,712.0 953.6,692.6 954.0,712.2 954.4,692.9 954.8,712.4 955.2,693.1 955.6,712.7 956.0,693.6 956.4,705.7 956.8,693.8 957.2,705.9 957.6,694.1 958.0,706.2 958.4,694.3 958.8,706.4 959.2,694.5 959.6,706.6 960.0,694.8 960.4,713.1 960.8,694.3 961.2,713.3 961.6,694.5 962.0,713.5 962.4,694.8 962.8,713.7 963.2,695.0 963.6,714.0 964.0,695.2 964.4,714.2 964.8,690.6 965.2,711.8 965.6,690.8 966.0,712.1 966.4,691.0 966.8,712.3 967.2,691.3 967.6,712.5 968.0,691.5 968.4,712.7 968.8,688.9 969.2,715.0 969.6,689.2 970.0,715.2 970.4,689.4 970.8,715.4 971.2,693.6 971.6,712.1 972.0,693.9 972.4,712.4 972.8,694.1 973.2,712.6 973.6,696.5 974.0,709.8 974.4,696.7 974.8,710.1 975.2,697.0 975.6,710.3 976.0,697.2 976.4,710.5 976.8,696.8 977.2,709.0 977.6,697.1 978.0,709.2 978.4,697.3 978.8,709.5 979.2,697.6 979.6,709.7 980.0,697.8 980.4,709.9 980.8,698.1 981.2,716.0 981.6,701.4 982.0,716.2 982.4,701.6 982.8,716.5 983.2,701.8 983.6,716.7 984.0,699.4 984.4,716.1 984.8,699.7 985.2,716.3 985.6,699.9 986.0,716.5 986.4,700.2 986.8,716.8 987.2,700.4 987.6,717.0 988.0,702.6 988.4,711.9 988.8,702.9 989.2,712.1 989.6,703.1 990.0,712.4 990.4,703.4 990.8,712.6 991.2,703.6 991.6,712.9 992.0,703.9 992.4,715.1 992.8,704.5 993.2,715.4 993.6,704.7 994.0,715.6 994.4,704.9 994.8,715.9 995.2,705.2 995.6,716.1 996.0,705.4 996.4,716.3 996.8,705.7 997.2,716.6 997.6,705.9 998.0,715.5 998.4,697.4 998.8,715.7 999.2,697.6 999.6,716.0 1000.0,697.9 1000.4,716.2 1000.8,698.1 1001.2,716.4 1001.6,698.3 1002.0,716.6 1002.4,698.6 1002.8,716.4 1003.2,700.2 1003.6,716.6 1004.0,700.4 1004.4,716.8 1004.8,700.6 1005.2,717.0 1005.6,700.9 1006.0,717.2 1006.4,703.7 1006.8,725.4 1007.2,703.9 1007.6,725.6 1008.0,704.1 1008.4,725.8 1008.8,704.3 1009.2,723.4 1009.6,706.6 1010.0,723.6 1010.4,706.8 1010.8,723.8 1011.2,707.0 1011.6,728.3 1012.0,705.9 1012.4,728.4 1012.8,706.1 1013.2,728.6 1013.6,706.2 1014.0,728.8 1014.4,706.4 1014.8,728.9 1015.2,706.6 1015.6,721.2 1016.0,710.3 1016.4,721.3 1016.8,710.4 1017.2,721.5 1017.6,710.6 1018.0,721.7 1018.4,710.8 1018.8,721.8 1019.2,711.0 1019.6,722.0 1020.0,711.1 1020.4,722.2 1020.8,711.3 1021.2,721.2 1021.6,712.6 1022.0,721.3 1022.4,712.8 1022.8,721.5 1023.2,713.0 1023.6,721.7 1024.0,713.2 1024.4,721.8 1024.8,703.9 1025.2,723.6 1025.6,704.1 1026.0,723.7 1026.4,704.3 1026.8,723.9 1027.2,704.5 1027.6,724.1 1028.0,704.7 1028.4,724.2 1028.8,708.8 1029.2,724.5 1029.6,709.0 1030.0,724.6 1030.4,709.2 1030.8,724.8 1031.2,714.9 1031.6,731.1 1032.0,715.1 1032.4,731.3 1032.8,715.3 1033.2,726.7 1033.6,709.7 1034.0,726.9 1034.4,709.9 1034.8,727.1 1035.2,710.2 1035.6,725.3 1036.0,711.8 1036.4,725.5 1036.8,712.0 1037.2,725.8 1037.6,712.2 1038.0,726.0 1038.4,712.5 1038.8,726.2 1039.2,712.7 1039.6,726.5 1040.0,713.0 1040.4,726.7 1040.8,716.1 1041.2,727.0 1041.6,716.3 1042.0,727.2 1042.4,716.6 1042.8,727.5 1043.2,716.2 1043.6,731.5 1044.0,716.4 1044.4,731.7 1044.8,716.7 1045.2,732.0 1045.6,716.9 1046.0,730.3 1046.4,719.6 1046.8,730.6 1047.2,719.8 1047.6,730.8 1048.0,720.0 1048.4,731.0 1048.8,720.3 1049.2,731.2 1049.6,720.5 1050.0,730.4 1050.4,711.7 1050.8,730.6 1051.2,711.9 1051.6,730.8 1052.0,712.1 1052.4,731.0 1052.8,712.3 1053.2,731.2 1053.6,712.5 1054.0,731.3 1054.4,712.7 1054.8,731.5 1055.2,712.9 1055.6,729.7 1056.0,719.7 1056.4,729.9 1056.8,719.8 1057.2,730.0 1057.6,719.9 1058.0,737.7 1058.4,713.6 1058.8,737.8 1059.2,713.7 1059.6,737.9 1060.0,713.8 1060.4,738.0 1060.8,717.7 1061.2,736.2 1061.6,717.8 1062.0,736.3 1062.4,717.9 1062.8,736.4 1063.2,718.0 1063.6,736.4 1064.0,718.0 1064.4,736.8 1064.8,716.6 1065.2,736.9 1065.6,716.7 1066.0,736.9 1066.4,716.8 1066.8,737.0 1067.2,716.8 1067.6,737.0 1068.0,716.9 1068.4,737.1 1068.8,717.0 1069.2,736.6 1069.6,722.7 1070.0,736.7 1070.4,722.7 1070.8,736.7 1071.2,722.8 1071.6,736.7 1072.0,722.8 1072.4,736.8 1072.8,722.9 1073.2,731.8 1073.6,722.6 1074.0,731.9 1074.4,722.7 1074.8,731.9 1075.2,722.7 1075.6,732.0 1076.0,722.8 1076.4,732.0 1076.8,722.8 1077.2,732.1 1077.6,720.6 1078.0,738.3 1078.4,720.7 1078.8,738.3 1079.2,720.7 1079.6,738.3 1080.0,720.8 1080.4,738.4 1080.8,720.9 1081.2,738.4 1081.6,720.9 1082.0,736.5 1082.4,718.2 1082.8,736.6 1083.2,718.3 1083.6,736.7 1084.0,718.4 1084.4,736.7 1084.8,722.3 1085.2,734.2 1085.6,722.4 1086.0,734.3 1086.4,722.5 1086.8,734.4 1087.2,724.5 1087.6,733.3 1088.0,724.6 1088.4,733.4 1088.8,724.7 1089.2,733.5 1089.6,724.8 1090.0,733.6 1090.4,723.6 1090.8,737.7 1091.2,723.7 1091.6,737.9 1092.0,723.9 1092.4,738.0 1092.8,724.0 1093.2,738.1 1093.6,724.2 1094.0,738.3 1094.4,722.1 1094.8,734.2 1095.2,722.3 1095.6,734.4 1096.0,722.4 1096.4,734.5 1096.8,722.6 1097.2,734.7 1097.6,722.8 1098.0,742.1 1098.4,726.7 1098.8,742.3 1099.2,726.9 1099.6,742.4 1100.0,727.1 1100.4,742.6 1100.8,727.2 1101.2,742.8 1101.6,727.4 1102.0,743.0 1102.4,727.6 1102.8,739.3 1103.2,719.4 1103.6,739.5 1104.0,719.6 1104.4,739.7 1104.8,719.8 1105.2,739.8 1105.6,720.0 1106.0,740.0 1106.4,720.2 1106.8,743.9 1107.2,725.9 1107.6,744.0 1108.0,726.1 1108.4,744.2 1108.8,726.3 1109.2,744.4 1109.6,726.5 1110.0,737.1 1110.4,726.4 1110.8,737.3 1111.2,726.6 1111.6,737.5 1112.0,726.8 1112.4,737.6 1112.8,727.0 1113.2,737.8 1113.6,727.2 1114.0,740.9 1114.4,727.2 1114.8,741.1 1115.2,727.4 1115.6,741.3 1116.0,727.7 1116.4,741.5 1116.8,730.7 1117.2,741.7 1117.6,730.9 1118.0,741.9 1118.4,731.1 1118.8,742.1 1119.2,731.3 1119.6,742.3 1120.0,731.5 1120.4,742.5 1120.8,731.8 1121.2,742.7 1121.6,730.7 1122.0,743.3 1122.4,730.9 1122.8,743.5 1123.2,731.1 1123.6,743.7 1124.0,732.5 1124.4,740.9 1124.8,732.7 1125.2,741.1 1125.6,732.9 1126.0,741.3 1126.4,733.2 1126.8,741.5 1127.2,733.4 1127.6,741.7 1128.0,733.6 1128.4,741.9 1128.8,733.8 1129.2,741.3 1129.6,730.3 1130.0,741.5 1130.4,730.5 1130.8,741.7 1131.2,730.7 1131.6,741.9 1132.0,730.9 1132.4,742.1 1132.8,731.1 1133.2,742.3 1133.6,731.3 1134.0,748.5 1134.4,727.5 1134.8,748.7 1135.2,727.7 1135.6,748.9 1136.0,727.8 1136.4,749.1 1136.8,728.0 1137.2,749.2 1137.6,728.2 1138.0,749.4 1138.4,730.4 1138.8,745.8 1139.2,730.6 1139.6,745.9 1140.0,730.8 1140.4,746.1 1140.8,731.0 1141.2,746.3 1141.6,731.1 1142.0,746.4 1142.4,731.3 1142.8,746.6 1143.2,731.5 1143.6,746.7 1144.0,733.3 1144.4,744.7 1144.8,733.5 1145.2,744.9 1145.6,733.6 1146.0,745.0 1146.4,733.8 1146.8,745.2 1147.2,734.0 1147.6,745.4 1148.0,734.2 1148.4,745.5 1148.8,734.3 1149.2,750.9 1149.6,731.0 1150.0,751.0 1150.4,731.2 1150.8,751.2 1151.2,731.4 1151.6,751.3 1152.0,731.5 1152.4,751.7 1152.8,733.9 1153.2,751.9 1153.6,734.0 1154.0,752.0 1154.4,734.2 1154.8,752.2 1155.2,734.4 1155.6,753.4 1156.0,736.8 1156.4,753.6 1156.8,736.9 1157.2,753.7 1157.6,737.1 1158.0,747.6 1158.4,736.5 1158.8,747.7 1159.2,736.6 1159.6,747.9 1160.0,736.8 1160.4,750.2 1160.8,734.9 1161.2,750.3 1161.6,735.1 1162.0,750.5 1162.4,735.2 1162.8,750.6 1163.2,735.8 1163.6,753.2 1164.0,735.9 1164.4,753.4 1164.8,736.0 1165.2,753.5 1165.6,736.2 1166.0,753.6 1166.4,736.3 1166.8,753.8 1167.2,736.5 1167.6,753.9 1168.0,736.6 1168.4,756.2 1168.8,739.2 1169.2,756.3 1169.6,739.4 1170.0,756.4 1170.4,739.5 1170.8,753.2 1171.2,743.1 1171.6,753.3 1172.0,743.2 1172.4,753.4 1172.8,743.4 1173.2,753.6 1173.6,743.5 1174.0,753.7 1174.4,743.6 1174.8,753.8 1175.2,740.0 1175.6,753.2 1176.0,740.2 1176.4,753.3 1176.8,740.3 1177.2,753.4 1177.6,740.4 1178.0,753.5 1178.4,740.6 1178.8,757.6 1179.2,740.3 1179.6,757.7 1180.0,740.4 1180.4,757.8 1180.8,740.6 1181.2,757.9 1181.6,740.7 1182.0,758.0 1182.4,740.8 1182.8,758.1 1183.2,740.9 1183.6,758.2 1184.0,737.9 1184.4,757.6 1184.8,738.0 1185.2,757.7 1185.6,738.1 1186.0,757.8 1186.4,738.2 1186.8,757.9 1187.2,738.4 1187.6,758.0 1188.0,738.5 1188.4,758.1 1188.8,738.6 1189.2,758.2 1189.6,746.5 1190.0,753.0 1190.4,746.6 1190.8,753.1 1191.2,746.7 1191.6,752.9 1192.0,744.2 1192.4,753.0 1192.8,744.4 1193.2,753.1 1193.6,744.5 1194.0,753.2 1194.4,744.6 1194.8,753.2 1195.2,744.7 1195.6,753.9 1196.0,743.6 1196.4,754.0 1196.8,743.7 1197.2,754.1 1197.6,743.8 1198.0,754.2 1198.4,743.9 1198.8,754.2 1199.2,744.0 1199.6,754.3 1200.0,744.1 1200.4,754.4 1200.8,744.2 1201.2,759.0 1201.6,739.5 1202.0,759.1 1202.4,739.6 1202.8,759.2 1203.2,739.6 1203.6,759.3 1204.0,739.7 1204.4,759.3 1204.8,739.8 1205.2,759.6 1205.6,747.3 1206.0,759.6 1206.4,747.4 1206.8,759.7 1207.2,747.5 1207.6,759.8 1208.0,747.6 1208.4,759.9 1208.8,747.6 1209.2,759.9 1209.6,747.7 1210.0,760.0 1210.4,747.8 1210.8,757.6 1211.2,745.8 1211.6,757.7 1212.0,745.8 1212.4,757.8 1212.8,745.9 1213.2,757.9 1213.6,746.0 1214.0,756.5 1214.4,742.3 1214.8,756.6 1215.2,742.4 1215.6,756.7 1216.0,742.5 1216.4,756.8 1216.8,742.6 1217.2,756.8 1217.6,745.7 1218.0,759.7 1218.4,745.8 1218.8,759.8 1219.2,745.9 1219.6,759.9 1220.0,745.9 1220.4,760.0 1220.8,746.0 1221.2,762.0 1221.6,749.4 1222.0,762.1 1222.4,749.5 1222.8,762.2 1223.2,749.6 1223.6,762.3 1224.0,749.7 1224.4,762.4 1224.8,749.8 1225.2,759.4 1225.6,748.9 1226.0,759.4 1226.4,749.0 1226.8,759.5 1227.2,749.1 1227.6,759.6 1228.0,749.2 1228.4,759.7 1228.8,749.2 1229.2,759.7 1229.6,743.0 1230.0,759.0 1230.4,743.1 1230.8,759.1 1231.2,743.2 1231.6,759.2 1232.0,743.2 1232.4,759.3 1232.8,743.3 1233.2,759.3 1233.6,743.4 1234.0,759.4 1234.4,743.5 1234.8,759.5 1235.2,743.0 1235.6,762.4 1236.0,743.0 1236.4,762.5 1236.8,743.1 1237.2,762.6 1237.6,743.2 1238.0,763.8 1238.4,748.0 1238.8,763.9 1239.2,748.1 1239.6,764.0 1240.0,748.1 1240.4,764.0 1240.8,748.2 1241.2,764.1 1241.6,748.3 1242.0,764.2 1242.4,744.8 1242.8,763.7 1243.2,744.8 1243.6,763.8 1244.0,744.9 1244.4,763.9 1244.8,749.0 1245.2,763.0 1245.6,749.1 1246.0,763.1 1246.4,749.2 1246.8,763.2 1247.2,749.3 1247.6,763.3 1248.0,749.4 1248.4,763.4 1248.8,749.0 1249.2,759.8 1249.6,749.1 1250.0,759.9 1250.4,749.2 1250.8,760.0 1251.2,749.3 1251.6,760.1 1252.0,751.7 1252.4,762.2 1252.8,751.8 1253.2,762.3 1253.6,751.9 1254.0,762.4 1254.4,752.0 1254.8,762.5 1255.2,752.1 1255.6,762.7 1256.0,752.3 1256.4,762.8 1256.8,745.2 1257.2,759.6 1257.6,745.3 1258.0,759.7 1258.4,745.5 1258.8,759.9 1259.2,745.6 1259.6,760.0 1260.0,745.7 1260.4,767.4 1260.8,752.5 1261.2,767.5 1261.6,752.6 1262.0,767.7 1262.4,752.7 1262.8,767.8 1263.2,752.9 1263.6,767.9 1264.0,753.0 1264.4,765.4 1264.8,747.1 1265.2,765.6 1265.6,747.3 1266.0,765.7 1266.4,747.4 1266.8,762.6 1267.2,751.9 1267.6,762.7 1268.0,752.0 1268.4,762.9 1268.8,752.1 1269.2,764.7 1269.6,748.7 1270.0,764.9 1270.4,748.8 1270.8,765.0 1271.2,748.9 1271.6,765.1 1272.0,749.0 1272.4,765.1 1272.8,748.3 1273.2,762.9 1273.6,748.4 1274.0,763.0 1274.4,748.5 1274.8,763.1 1275.2,748.5 1275.6,763.2 1276.0,748.6 1276.4,763.2 1276.8,748.6 1277.2,763.2 1277.6,748.7 1278.0,763.3 1278.4,750.7 1278.8,764.5 1279.2,750.7 1279.6,764.6 1280.0,750.7 1280.4,764.6 1280.8,748.6 1281.2,766.5 1281.6,748.6 1282.0,766.5 1282.4,748.7 1282.8,766.5 1283.2,748.7 1283.6,766.3 1284.0,751.8 1284.4,766.3 1284.8,751.8 1285.2,766.3 1285.6,751.9 1286.0,766.4 1286.4,753.2 1286.8,766.0 1287.2,753.2 1287.6,766.0 1288.0,753.2 1288.4,766.0 1288.8,753.2 1289.2,766.0 1289.6,753.2 1290.0,766.0 1290.4,753.3 1290.8,766.0 1291.2,749.5 1291.6,769.6 1292.0,749.5 1292.4,769.7 1292.8,749.5 1293.2,769.7 1293.6,750.3 1294.0,770.1 1294.4,750.4 1294.8,770.2 1295.2,750.4 1295.6,763.6 1296.0,750.0 1296.4,763.6 1296.8,750.0 1297.2,763.6 1297.6,750.0 1298.0,763.6 1298.4,750.0 1298.8,763.7 1299.2,750.0 1299.6,763.7 1300.0,750.0 1300.4,763.7 1300.8,753.7 1301.2,769.2 1301.6,753.7 1302.0,769.2 1302.4,753.7 1302.8,769.2 1303.2,753.7 1303.6,769.2 1304.0,753.7 1304.4,769.2 1304.8,753.7 1305.2,769.2 1305.6,753.7 1306.0,769.2 1306.4,751.7 1306.8,770.2 1307.2,751.7 1307.6,770.1 1308.0,751.7 1308.4,770.0 1308.8,751.5 1309.2,769.9 1309.6,751.3 1310.0,769.6 1310.4,751.1 1310.8,769.3 1311.2,752.1 1311.6,764.8 1312.0,751.8 1312.4,764.4 1312.8,751.4 1313.2,764.0 1313.6,751.0 1314.0,763.6 1314.4,750.6 1314.8,763.1 1315.2,750.1 1315.6,762.7 1316.0,749.7 1316.4,762.3 1316.8,749.2 1317.2,765.3 1317.6,748.9 1318.0,764.9 1318.4,748.5 1318.8,764.5 1319.2,748.0 1319.6,764.0 1320.0,747.5 1320.4,763.5 1320.8,747.0 1321.2,763.0 1321.6,746.5 1322.0,762.5 1322.4,747.8 1322.8,758.0 1323.2,747.5 1323.6,757.8 1324.0,747.4 1324.4,757.8 1324.8,747.6 1325.2,756.8 1325.6,746.4 1326.0,757.5 1326.4,747.3 1326.8,758.4 1327.2,748.3 1327.6,759.5 1328.0,749.3 1328.4,760.2 1328.8,751.0 1329.2,761.2 1329.6,751.9 1330.0,762.0 1330.4,752.6 1330.8,769.3 1331.2,753.2 1331.6,770.0 1332.0,753.9 1332.4,770.7 1332.8,754.6 1333.2,771.3 1333.6,755.2 1334.0,771.7 1334.4,754.0 1334.8,772.2 1335.2,754.4 1335.6,772.5 1336.0,754.7 1336.4,772.8 1336.8,755.0 1337.2,773.1 1337.6,758.0 1338.0,770.3 1338.4,758.3 1338.8,770.6 1339.2,758.5 1339.6,770.8 1340.0,758.8 1340.4,771.0 1340.8,759.0 1341.2,772.7 1341.6,759.2 1342.0,773.0 1342.4,759.4 1342.8,773.2 1343.2,759.6 1343.6,773.4 1344.0,759.8 1344.4,773.6 1344.8,760.0 1345.2,773.8 1345.6,760.2 1346.0,773.9 1346.4,758.2 1346.8,773.3 1347.2,758.4 1347.6,773.5 1348.0,758.6 1348.4,773.7 1348.8,758.7 1349.2,773.8 1349.6,758.9 1350.0,770.4 1350.4,762.0 1350.8,770.5 1351.2,762.1 1351.6,770.7 1352.0,762.3 1352.4,770.8 1352.8,762.4 1353.2,770.9 1353.6,756.5 1354.0,774.7 1354.4,756.7 1354.8,774.8 1355.2,756.8 1355.6,774.1 1356.0,761.8 1356.4,774.3 1356.8,761.9 1357.2,774.4 1357.6,762.0 1358.0,774.5 1358.4,762.1 1358.8,774.6 1359.2,762.2 1359.6,774.7 1360.0,762.3 1360.4,774.8 1360.8,762.4 1361.2,774.9 1361.6,764.1 1362.0,775.0 1362.4,764.2 1362.8,775.1 1363.2,764.3 1363.6,775.2 1364.0,764.4 1364.4,775.3 1364.8,764.5 1365.2,773.6 1365.6,762.1 1366.0,773.7 1366.4,762.2 1366.8,773.9 1367.2,762.3 1367.6,774.0 1368.0,762.4 1368.4,774.1 1368.8,762.5 1369.2,774.1 1369.6,765.7 1370.0,776.4 1370.4,765.7 1370.8,776.5 1371.2,765.8 1371.6,776.6 1372.0,765.9 1372.4,780.0 1372.8,766.0 1373.2,780.1 1373.6,766.1 1374.0,780.2 1374.4,766.2 1374.8,775.8 1375.2,763.8 1375.6,775.9 1376.0,763.9 1376.4,776.0 1376.8,764.0 1377.2,776.1 1377.6,764.1 1378.0,776.2 1378.4,764.1 1378.8,776.2 1379.2,764.2 1379.6,776.3 1380.0,758.9 1380.4,774.9 1380.8,759.0 1381.2,775.0 1381.6,759.0 1382.0,775.1 1382.4,759.1 1382.8,772.7 1383.2,761.2 1383.6,772.7 1384.0,761.3 1384.4,772.8 1384.8,761.4 1385.2,772.9 1385.6,761.4 1386.0,772.9 1386.4,761.5 1386.8,773.0 1387.2,761.6 1387.6,773.1 1388.0,764.3 1388.4,773.2 1388.8,764.3 1389.2,773.3 1389.6,764.4 1390.0,778.4 1390.4,759.9 1390.8,778.4 1391.2,759.9 1391.6,778.5 1392.0,760.0 1392.4,778.5 1392.8,760.0 1393.2,778.6 1393.6,760.1 1394.0,778.7 1394.4,760.1 1394.8,778.7 1395.2,760.2 1395.6,774.6 1396.0,766.8 1396.4,774.7 1396.8,766.8 1397.2,774.7 1397.6,766.9 1398.0,774.8 1398.4,766.9 1398.8,775.5 1399.2,767.4 1399.6,775.6 1400.0,767.5 1400.4,775.6 1400.8,767.5 1401.2,775.7 1401.6,767.6 1402.0,775.7 1402.4,767.6 1402.8,779.3 1403.2,761.5 1403.6,779.3 1404.0,761.5 1404.4,779.4 1404.8,761.6 1405.2,779.4 1405.6,761.6 1406.0,779.5 1406.4,761.6 1406.8,779.5 1407.2,761.7 1407.6,777.8 1408.0,762.1 1408.4,777.8 1408.8,762.2 1409.2,777.9 1409.6,762.2 1410.0,777.9 1410.4,762.3 1410.8,777.9 1411.2,762.3 1411.6,778.0 1412.0,762.3 1412.4,778.0 1412.8,762.4 1413.2,781.2 1413.6,767.7 1414.0,781.3 1414.4,767.8 1414.8,781.3 1415.2,767.8 1415.6,781.3 1416.0,767.9 1416.4,778.7 1416.8,762.0 1417.2,778.7 1417.6,762.1 1418.0,778.8 1418.4,762.1 1418.8,778.8 1419.2,762.1 1419.6,778.9 1420.0,762.2 1420.4,779.6 1420.8,763.5 1421.2,779.6 1421.6,763.6 1422.0,779.6 1422.4,763.6 1422.8,779.7 1423.2,763.7 1423.6,779.7 1424.0,763.7 1424.4,779.7 1424.8,763.7 1425.2,779.8 1425.6,763.7 1426.0,775.3 1426.4,763.7 1426.8,775.3 1427.2,763.7 1427.6,775.4 1428.0,763.8 1428.4,775.4 1428.8,763.8 1429.2,775.4 1429.6,763.8 1430.0,775.5 1430.4,769.3 1430.8,779.8 1431.2,769.3 1431.6,779.8 1432.0,769.4 1432.4,779.8 1432.8,769.4 1433.2,779.9 1433.6,769.4 1434.0,779.9 1434.4,769.5 1434.8,779.9 1435.2,769.5 1435.6,777.2 1436.0,763.9 1436.4,777.2 1436.8,763.9 1437.2,777.3 1437.6,764.0 1438.0,777.3 1438.4,764.0 1438.8,777.4 1439.2,763.8 1439.6,778.5 1440.0,763.8 1440.4,778.5 1440.8,763.9 1441.2,778.6 1441.6,763.9 1442.0,778.6 1442.4,764.0 1442.8,778.6 1443.2,764.0 1443.6,782.2 1444.0,767.3 1444.4,782.3 1444.8,767.3 1445.2,782.3 1445.6,767.4 1446.0,782.4 1446.4,767.4 1446.8,782.4 1447.2,767.5 1447.6,776.1 1448.0,766.7 1448.4,776.1 1448.8,766.8 1449.2,776.2 1449.6,766.8 1450.0,776.2 1450.4,766.9 1450.8,776.3 1451.2,766.9 1451.6,776.3 1452.0,767.0 1452.4,776.4 1452.8,766.4 1453.2,777.9 1453.6,766.5 1454.0,778.0 1454.4,766.5 1454.8,778.0 1455.2,766.6 1455.6,778.1 1456.0,766.7 1456.4,778.2 1456.8,766.7 1457.2,778.3 1457.6,766.8 1458.0,778.3 1458.4,768.0 1458.8,778.4 1459.2,768.1 1459.6,778.4 1460.0,768.2 1460.4,778.5 1460.8,768.3 1461.2,778.6 1461.6,768.4 1462.0,778.7 1462.4,768.4 1462.8,778.8 1463.2,767.2 1463.6,780.2 1464.0,767.3 1464.4,780.3 1464.8,767.4 1465.2,780.4 1465.6,767.4 1466.0,780.5 1466.4,772.3 1466.8,781.0 1467.2,772.4 1467.6,781.1 1468.0,772.5 1468.4,781.2 1468.8,770.1 1469.2,781.5 1469.6,770.2 1470.0,781.6 1470.4,770.3 1470.8,781.7 1471.2,770.4 1471.6,781.8 1472.0,770.5 1472.4,781.9 1472.8,770.6 1473.2,782.0 1473.6,768.1 1474.0,787.0 1474.4,768.2 1474.8,787.1 1475.2,768.3 1475.6,787.2 1476.0,768.4 1476.4,787.3 1476.8,768.5 1477.2,787.4 1477.6,768.6 1478.0,787.5 1478.4,768.7 1478.8,783.5 1479.2,766.2 1479.6,783.6 1480.0,766.3 1480.4,783.7 1480.8,766.4 1481.2,783.8 1481.6,766.5 1482.0,783.9 1482.4,766.6 1482.8,784.0 1483.2,766.7 1483.6,784.2 1484.0,766.3 1484.4,780.0 1484.8,766.4 1485.2,780.1 1485.6,766.5 1486.0,780.2 1486.4,766.7 1486.8,780.3 1487.2,766.8 1487.6,780.4 1488.0,766.9 1488.4,780.5 1488.8,769.2 1489.2,782.6 1489.6,769.3 1490.0,782.7 1490.4,769.5 1490.8,782.8 1491.2,769.6 1491.6,782.9 1492.0,769.7 1492.4,781.6 1492.8,771.9 1493.2,781.7 1493.6,772.0 1494.0,781.9 1494.4,776.1 1494.8,787.7 1495.2,776.2 1495.6,787.9 1496.0,776.3 1496.4,788.0 1496.8,768.9 1497.2,786.6 1497.6,769.1 1498.0,786.8 1498.4,769.2 1498.8,785.5 1499.2,776.0 1499.6,785.6 1500.0,776.1 1500.4,785.7 1500.8,776.3 1501.2,785.9 1501.6,776.4 1502.0,786.0 1502.4,770.3 1502.8,787.2 1503.2,770.5 1503.6,787.3 1504.0,770.6"/>
<polyline stroke="#186ce0" points="140.0,464.9 140.4,481.5 140.8,474.2 141.2,491.8 141.6,485.5 142.0,505.1 142.4,501.0 142.8,520.4 143.2,513.2 143.6,529.7 144.0,525.9 144.4,538.6 144.8,531.6 145.2,543.1 145.6,535.2 146.0,546.2 146.4,537.9 146.8,548.6 147.2,540.0 147.6,550.4 148.0,541.6 148.4,551.9 148.8,543.0 149.2,553.1 149.6,543.4 150.0,555.1 150.4,544.3 150.8,556.0 151.2,545.2 151.6,556.8 152.0,546.0 152.4,557.6 152.8,546.7 153.2,558.3 153.6,547.4 154.0,559.0 154.4,548.1 154.8,559.5 155.2,546.1 155.6,560.0 156.0,546.7 156.4,560.6 156.8,546.9 157.2,559.3 157.6,547.4 158.0,559.9 158.4,548.0 158.8,560.4 159.2,548.5 159.6,561.0 160.0,553.9 160.4,562.4 160.8,554.6 161.2,563.0 161.6,555.3 162.0,563.8 162.4,556.0 162.8,564.5 163.2,556.8 163.6,567.8 164.0,556.6 164.4,568.6 164.8,557.4 165.2,569.4 165.6,558.2 166.0,570.2 166.4,557.3 166.8,572.6 167.2,558.0 167.6,573.3 168.0,558.8 168.4,574.0 168.8,559.4 169.2,571.5 169.6,558.4 170.0,572.2 170.4,559.1 170.8,573.0 171.2,559.9 171.6,573.7 172.0,560.7 172.4,574.6 172.8,561.5 173.2,575.4 173.6,562.3 174.0,576.1 174.4,563.1 174.8,580.1 175.2,568.0 175.6,580.8 176.0,568.7 176.4,581.5 176.8,569.4 177.2,582.2 177.6,570.3 178.0,580.2 178.4,570.9 178.8,580.7 179.2,571.3 179.6,581.1 180.0,571.7 180.4,581.4 180.8,571.9 181.2,581.6 181.6,568.4 182.0,583.8 182.4,568.4 182.8,583.8 183.2,568.4 183.6,583.8 184.0,568.4 184.4,583.7 184.8,568.3 185.2,583.7 185.6,568.2 186.0,583.6 186.4,568.8 186.8,580.1 187.2,568.7 187.6,580.0 188.0,568.6 188.4,582.8 188.8,567.6 189.2,582.7 189.6,567.5 190.0,582.6 190.4,570.2 190.8,582.4 191.2,570.1 191.6,582.3 192.0,570.0 192.4,582.2 192.8,569.9 193.2,582.1 193.6,569.8 194.0,582.0 194.4,567.8 194.8,581.2 195.2,567.7 195.6,581.1 196.0,567.5 196.4,580.9 196.8,567.4 197.2,580.8 197.6,567.2 198.0,580.6 198.4,564.8 198.8,579.9 199.2,564.6 199.6,579.8 200.0,564.5 200.4,579.6 200.8,568.9 201.2,580.3 201.6,568.7 202.0,580.1 202.4,568.6 202.8,579.9 203.2,568.4 203.6,579.7 204.0,568.2 204.4,579.6 204.8,568.0 205.2,579.4 205.6,568.6 206.0,579.6 206.4,568.5 206.8,579.4 207.2,568.3 207.6,579.2 208.0,562.2 208.4,576.2 208.8,562.0 209.2,576.0 209.6,561.8 210.0,575.8 210.4,561.6 210.8,575.5 211.2,561.3 211.6,575.3 212.0,561.1 212.4,575.0 212.8,560.8 213.2,576.0 213.6,566.9 214.0,575.7 214.4,566.6 214.8,575.5 215.2,566.4 215.6,575.2 216.0,560.0 216.4,572.2 216.8,559.7 217.2,572.0 217.6,559.5 218.0,571.7 218.4,559.2 218.8,571.5 219.2,559.0 219.6,571.3 220.0,558.8 220.4,571.0 220.8,560.0 221.2,574.7 221.6,559.8 222.0,574.5 222.4,559.7 222.8,574.4 223.2,559.5 223.6,571.9 224.0,563.0 224.4,571.8 224.8,562.9 225.2,571.7 225.6,562.9 226.0,571.6 226.4,562.8 226.8,571.6 227.2,562.8 227.6,571.7 228.0,562.9 228.4,571.7 228.8,563.0 229.2,572.6 229.6,561.1 230.0,572.8 230.4,561.3 230.8,572.9 231.2,561.5 231.6,573.1 232.0,561.6 232.4,573.3 232.8,561.8 233.2,573.5 233.6,562.0 234.0,573.7 234.4,560.4 234.8,576.3 235.2,560.6 235.6,576.5 236.0,560.7 236.4,574.7 236.8,559.3 237.2,574.8 237.6,559.4 238.0,574.9 238.4,559.4 238.8,574.9 239.2,559.4 239.6,574.9 240.0,559.3 240.4,574.7 240.8,559.1 241.2,574.5 241.6,559.7 242.0,570.9 242.4,559.4 242.8,570.7 243.2,559.2 243.6,570.4 244.0,558.9 244.4,574.6 244.8,563.8 245.2,574.3 245.6,563.6 246.0,574.1 246.4,563.4 246.8,574.0 247.2,563.2 247.6,573.8 248.0,563.1 248.4,573.7 248.8,562.9 249.2,573.6 249.6,560.5 250.0,569.7 250.4,560.4 250.8,569.6 251.2,560.3 251.6,569.4 252.0,561.6 252.4,569.9 252.8,561.5 253.2,569.8 253.6,561.4 254.0,569.7 254.4,561.3 254.8,569.6 255.2,561.2 255.6,569.5 256.0,561.1 256.4,569.6 256.8,560.4 257.2,569.5 257.6,560.3 258.0,569.4 258.4,557.4 258.8,569.0 259.2,557.3 259.6,568.9 260.0,557.2 260.4,568.7 260.8,556.9 261.2,569.0 261.6,556.8 262.0,568.9 262.4,556.7 262.8,568.7 263.2,556.5 263.6,568.6 264.0,556.4 264.4,568.4 264.8,556.2 265.2,568.3 265.6,556.2 266.0,570.9 266.4,556.1 266.8,570.7 267.2,555.9 267.6,570.5 268.0,555.7 268.4,570.3 268.8,555.5 269.2,570.1 269.6,555.3 270.0,569.9 270.4,555.0 270.8,565.2 271.2,555.5 271.6,564.9 272.0,555.2 272.4,564.7 272.8,555.0 273.2,564.4 273.6,554.7 274.0,564.6 274.4,556.7 274.8,564.4 275.2,556.4 275.6,564.1 276.0,556.1 276.4,563.8 276.8,555.9 277.2,563.5 277.6,555.6 278.0,563.3 278.4,555.3 278.8,563.0 279.2,555.0 279.6,566.4 280.0,554.6 280.4,566.2 280.8,554.4 281.2,565.9 281.6,555.0 282.0,562.8 282.4,554.8 282.8,562.5 283.2,554.5 283.6,562.2 284.0,554.2 284.4,561.9 284.8,553.9 285.2,561.7 285.6,553.7 286.0,562.0 286.4,549.5 286.8,561.7 287.2,549.2 287.6,561.5 288.0,548.9 288.4,561.2 288.8,548.7 289.2,560.9 289.6,547.1 290.0,562.7 290.4,546.9 290.8,562.4 291.2,546.6 291.6,562.2 292.0,546.4 292.4,561.9 292.8,546.1 293.2,561.6 293.6,548.7 294.0,558.7 294.4,548.4 294.8,558.4 295.2,548.1 295.6,558.2 296.0,547.9 296.4,557.9 296.8,549.4 297.2,557.0 297.6,549.1 298.0,556.7 298.4,548.8 298.8,556.4 299.2,547.7 299.6,558.2 300.0,547.4 300.4,557.9 300.8,547.0 301.2,557.5 301.6,546.7 302.0,557.2 302.4,542.9 302.8,558.4 303.2,542.6 303.6,558.1 304.0,542.2 304.4,557.7 304.8,541.9 305.2,557.3 305.6,541.5 306.0,557.0 306.4,541.1 306.8,556.6 307.2,540.7 307.6,556.2 308.0,541.6 308.4,556.7 308.8,541.2 309.2,556.3 309.6,540.8 310.0,555.8 310.4,540.3 310.8,555.3 311.2,539.7 311.6,554.8 312.0,539.2 312.4,554.2 312.8,539.3 313.2,547.3 313.6,538.6 314.0,546.6 314.4,537.9 314.8,545.8 315.2,536.9 315.6,544.7 316.0,535.8 316.4,543.5 316.8,534.5 317.2,542.6 317.6,535.2 318.0,541.1 318.4,533.7 318.8,539.6 319.2,532.1 319.6,538.0 320.0,530.6 320.4,536.4 320.8,524.7 321.2,535.9 321.6,522.9 322.0,534.1 322.4,521.1 322.8,532.2 323.2,519.1 323.6,530.1 324.0,516.9 324.4,527.9 324.8,516.6 325.2,524.6 325.6,514.4 326.0,522.4 326.4,512.1 326.8,520.0 327.2,509.6 327.6,517.3 328.0,506.7 328.4,514.1 328.8,503.1 329.2,510.0 329.6,499.2 330.0,505.3 330.4,492.1 330.8,496.9 331.2,481.7 331.6,481.7 332.0,460.4 332.4,456.9 332.8,435.1 333.2,434.3 333.6,416.8 334.0,419.1 334.4,403.0 334.8,406.2 335.2,392.2 335.6,395.8 336.0,376.9 336.4,378.0 336.8,356.5 337.2,355.7 337.6,334.4 338.0,334.3 338.4,313.8 338.8,312.8 339.2,291.1 339.6,286.7 340.0,263.6 340.4,255.9 340.8,237.9 341.2,233.5 341.6,217.8 342.0,213.5 342.4,199.7 342.8,197.5 343.2,182.9 343.6,179.7 344.0,167.5 344.4,163.9 344.8,153.5 345.2,148.4 345.6,139.7 346.0,139.6 346.4,139.6 346.8,149.0 347.2,155.5 347.6,171.1 348.0,188.0 348.4,218.8 348.8,241.4 349.2,280.0 349.6,308.0 350.0,345.5 350.4,360.4 350.8,385.2 351.2,385.7 351.6,406.4 352.0,403.2 352.4,427.6 352.8,421.5 353.2,443.8 353.6,436.6 354.0,460.0 354.4,452.5 354.8,475.4 355.2,464.9 355.6,484.6 356.0,469.3 356.4,493.1 356.8,475.9 357.2,498.0 357.6,479.3 358.0,501.2 358.4,485.2 358.8,500.5 359.2,487.4 359.6,502.5 360.0,489.0 360.4,503.7 360.8,489.7 361.2,504.0 361.6,490.9 362.0,500.7 362.4,490.9 362.8,500.7 363.2,490.8 363.6,500.6 364.0,490.8 364.4,500.6 364.8,486.4 365.2,503.0 365.6,486.3 366.0,502.9 366.4,486.2 366.8,502.9 367.2,486.1 367.6,502.8 368.0,486.0 368.4,502.0 368.8,490.7 369.2,501.9 369.6,490.6 370.0,501.8 370.4,490.5 370.8,501.7 371.2,490.4 371.6,501.6 372.0,490.2 372.4,501.5 372.8,490.1 373.2,502.3 373.6,493.9 374.0,502.2 374.4,493.8 374.8,502.0 375.2,493.6 375.6,501.8 376.0,493.4 376.4,501.7 376.8,493.2 377.2,501.5 377.6,492.9 378.0,501.2 378.4,492.7 378.8,506.2 379.2,490.1 379.6,506.0 380.0,489.8 380.4,505.7 380.8,489.5 381.2,505.4 381.6,489.1 382.0,505.1 382.4,488.8 382.8,504.8 383.2,488.4 383.6,504.4 384.0,487.9 384.4,501.8 384.8,482.1 385.2,501.3 385.6,481.5 386.0,500.7 386.4,480.8 386.8,500.0 387.2,480.0 387.6,499.3 388.0,479.3 388.4,498.6 388.8,478.9 389.2,491.8 389.6,478.0 390.0,490.8 390.4,476.9 390.8,489.8 391.2,475.8 391.6,488.7 392.0,478.5 392.4,492.0 392.8,477.3 393.2,490.8 393.6,476.0 394.0,489.4 394.4,474.5 394.8,487.9 395.2,472.9 395.6,487.2 396.0,472.7 396.4,485.5 396.8,470.9 397.2,483.7 397.6,469.2 398.0,482.5 398.4,461.7 398.8,480.8 399.2,460.0 399.6,479.3 400.0,458.4 400.4,477.7 400.8,456.8 401.2,476.1 401.6,455.8 402.0,474.5 402.4,454.2 402.8,472.9 403.2,452.5 403.6,471.4 404.0,450.9 404.4,469.8 404.8,449.2 405.2,468.1 405.6,447.6 406.0,466.5 406.4,445.3 406.8,461.2 407.2,443.6 407.6,459.5 408.0,442.0 408.4,457.9 408.8,440.3 409.2,459.4 409.6,436.9 410.0,457.9 410.4,435.4 410.8,456.6 411.2,438.6 411.6,456.0 412.0,437.3 412.4,454.7 412.8,435.9 413.2,453.4 413.6,434.6 414.0,452.1 414.4,433.2 414.8,450.6 415.2,431.6 415.6,449.1 416.0,433.6 416.4,448.1 416.8,431.9 417.2,446.3 417.6,430.1 418.0,447.5 418.4,428.5 418.8,445.7 419.2,426.6 419.6,443.9 420.0,424.8 420.4,442.2 420.8,423.0 421.2,440.6 421.6,421.1 422.0,429.9 422.4,415.3 422.8,428.2 423.2,413.5 423.6,426.5 424.0,411.6 424.4,424.7 424.8,412.5 425.2,423.0 425.6,410.6 426.0,421.3 426.4,408.8 426.8,419.6 427.2,407.0 427.6,418.0 428.0,405.2 428.4,416.3 428.8,403.4 429.2,415.3 429.6,402.9 430.0,413.6 430.4,401.0 430.8,411.9 431.2,395.5 431.6,419.9 432.0,393.5 432.4,418.0 432.8,391.3 433.2,416.0 433.6,389.0 434.0,414.0 434.4,386.8 434.8,412.1 435.2,379.9 435.6,406.3 436.0,377.7 436.4,404.5 436.8,375.7 437.2,402.8 437.6,373.9 438.0,401.3 438.4,372.2 438.8,399.9 439.2,370.5 439.6,398.5 440.0,368.8 440.4,397.1 440.8,365.0 441.2,386.2 441.6,363.1 442.0,384.4 442.4,361.1 442.8,382.4 443.2,358.6 443.6,379.9 444.0,355.8 444.4,377.3 444.8,352.9 445.2,374.6 445.6,350.0 446.0,373.1 446.4,356.3 446.8,370.9 447.2,354.1 447.6,369.1 448.0,352.5 448.4,370.6 448.8,353.0 449.2,369.9 449.6,352.2 450.0,369.2 450.4,351.5 450.8,368.6 451.2,351.0 451.6,368.1 452.0,350.5 452.4,375.2 452.8,352.6 453.2,374.8 453.6,352.2 454.0,374.4 454.4,351.8 454.8,374.0 455.2,343.3 455.6,362.3 456.0,342.9 456.4,361.9 456.8,342.5 457.2,361.5 457.6,342.0 458.0,361.0 458.4,341.6 458.8,360.6 459.2,341.1 459.6,362.1 460.0,339.4 460.4,361.6 460.8,338.9 461.2,361.2 461.6,338.5 462.0,360.7 462.4,338.0 462.8,360.3 463.2,348.2 463.6,358.6 464.0,347.8 464.4,358.2 464.8,347.3 465.2,357.7 465.6,346.8 466.0,357.1 466.4,339.9 466.8,362.6 467.2,339.3 467.6,362.0 468.0,338.6 468.4,361.3 468.8,337.9 469.2,353.4 469.6,338.6 470.0,352.6 470.4,337.7 470.8,351.6 471.2,336.7 471.6,350.6 472.0,335.7 472.4,349.5 472.8,334.6 473.2,348.4 473.6,333.4 474.0,347.2 474.4,336.1 474.8,346.8 475.2,334.4 475.6,345.0 476.0,332.6 476.4,343.3 476.8,331.0 477.2,341.8 477.6,329.9 478.0,341.0 478.4,329.3 478.8,340.5 479.2,328.8 479.6,344.0 480.0,317.3 480.4,343.6 480.8,316.9 481.2,343.2 481.6,316.6 482.0,342.9 482.4,316.3 482.8,342.6 483.2,316.0 483.6,342.4 484.0,315.8 484.4,342.2 484.8,315.6 485.2,342.1 485.6,321.4 486.0,342.0 486.4,321.3 486.8,341.9 487.2,321.3 487.6,337.8 488.0,320.9 488.4,338.0 488.8,321.0 489.2,338.1 489.6,321.3 490.0,338.4 490.4,321.5 490.8,338.7 491.2,321.8 491.6,339.0 492.0,322.2 492.4,339.4 492.8,319.3 493.2,340.3 493.6,319.6 494.0,340.6 494.4,319.9 494.8,340.9 495.2,320.2 495.6,341.1 496.0,320.4 496.4,341.3 496.8,320.6 497.2,341.4 497.6,320.7 498.0,341.6 498.4,323.3 498.8,341.3 499.2,323.4 499.6,341.4 500.0,323.5 500.4,341.5 500.8,321.2 501.2,340.7 501.6,321.3 502.0,340.8 502.4,321.4 502.8,340.8 503.2,321.5 503.6,340.9 504.0,321.6 504.4,341.0 504.8,321.6 505.2,355.1 505.6,318.9 506.0,355.1 506.4,318.9 506.8,355.1 507.2,318.9 507.6,355.1 508.0,318.8 508.4,354.9 508.8,318.6 509.2,354.7 509.6,318.4 510.0,354.5 510.4,319.6 510.8,342.2 511.2,319.3 511.6,341.9 512.0,319.0 512.4,341.5 512.8,318.7 513.2,341.2 513.6,318.4 514.0,340.9 514.4,318.1 514.8,353.5 515.2,327.9 515.6,353.2 516.0,327.7 516.4,353.0 516.8,313.3 517.2,343.0 517.6,313.1 518.0,342.8 518.4,312.9 518.8,342.5 519.2,312.7 519.6,342.3 520.0,312.5 520.4,342.1 520.8,312.3 521.2,339.0 521.6,326.2 522.0,338.8 522.4,326.0 522.8,338.6 523.2,325.9 523.6,338.5 524.0,325.8 524.4,338.4 524.8,325.7 525.2,338.4 525.6,325.7 526.0,344.6 526.4,317.9 526.8,344.6 527.2,317.9 527.6,344.6 528.0,317.9 528.4,344.6 528.8,319.9 529.2,344.9 529.6,319.9 530.0,344.9 530.4,319.9 530.8,344.9 531.2,319.9 531.6,344.9 532.0,319.9 532.4,349.1 532.8,319.4 533.2,349.1 533.6,319.4 534.0,349.1 534.4,319.4 534.8,349.1 535.2,319.4 535.6,349.1 536.0,319.3 536.4,349.0 536.8,319.2 537.2,348.8 537.6,318.9 538.0,344.0 538.4,319.7 538.8,343.6 539.2,319.3 539.6,343.1 540.0,320.9 540.4,340.0 540.8,320.3 541.2,339.4 541.6,319.7 542.0,338.8 542.4,319.1 542.8,338.1 543.2,318.4 543.6,337.4 544.0,317.7 544.4,339.7 544.8,310.7 545.2,339.1 545.6,310.0 546.0,338.4 546.4,309.3 546.8,337.7 547.2,308.6 547.6,337.0 548.0,307.8 548.4,336.2 548.8,307.0 549.2,335.3 549.6,306.1 550.0,328.4 550.4,314.7 550.8,327.4 551.2,313.7 551.6,326.4 552.0,297.7 552.4,321.9 552.8,296.6 553.2,320.8 553.6,295.4 554.0,319.5 554.4,308.9 554.8,328.4 555.2,307.4 555.6,326.8 556.0,305.7 556.4,324.8 556.8,303.6 557.2,322.7 557.6,301.2 558.0,311.4 558.4,298.8 558.8,309.0 559.2,296.5 559.6,318.3 560.0,286.0 560.4,316.0 560.8,283.9 561.2,314.0 561.6,281.9 562.0,311.9 562.4,284.6 562.8,310.2 563.2,282.5 563.6,308.0 564.0,280.2 564.4,305.6 564.8,277.7 565.2,302.6 565.6,277.2 566.0,299.4 566.4,273.9 566.8,296.0 567.2,270.5 567.6,292.5 568.0,266.6 568.4,287.9 568.8,261.1 569.2,280.9 569.6,252.4 570.0,267.9 570.4,240.6 570.8,256.2 571.2,228.6 571.6,244.1 572.0,217.0 572.4,232.5 572.8,205.2 573.2,220.3 573.6,193.1 574.0,207.6 574.4,180.6 574.8,194.5 575.2,167.1 575.6,179.2 576.0,154.4 576.4,164.9 576.8,141.2 577.2,150.1 577.6,125.6 578.0,136.2 578.4,114.2 578.8,122.8 579.2,104.3 579.6,110.5 580.0,95.3 580.4,99.0 580.8,86.7 581.2,87.6 581.6,75.4 582.0,75.1 582.4,67.9 582.8,71.7 583.2,70.9 583.6,80.2 584.0,81.8 584.4,93.9 584.8,97.1 585.2,114.3 585.6,118.3 586.0,140.5 586.4,145.2 586.8,170.4 587.2,169.6 587.6,193.8 588.0,188.8 588.4,213.9 588.8,206.2 589.2,232.4 589.6,222.9 590.0,251.5 590.4,240.0 590.8,268.0 591.2,253.7 591.6,280.3 592.0,263.7 592.4,284.0 592.8,270.5 593.2,290.1 593.6,275.8 594.0,294.8 594.4,279.6 594.8,298.0 595.2,282.3 595.6,300.4 596.0,284.5 596.4,302.4 596.8,293.1 597.2,315.9 597.6,294.3 598.0,316.9 598.4,295.2 598.8,317.8 599.2,296.1 599.6,318.6 600.0,296.8 600.4,319.3 600.8,297.5 601.2,320.0 601.6,298.1 602.0,318.1 602.4,285.3 602.8,318.6 603.2,285.8 603.6,319.1 604.0,286.3 604.4,319.6 604.8,286.8 605.2,320.1 605.6,287.3 606.0,320.5 606.4,287.8 606.8,321.0 607.2,295.7 607.6,318.1 608.0,296.2 608.4,318.7 608.8,296.8 609.2,319.3 609.6,298.4 610.0,323.5 610.4,299.0 610.8,324.1 611.2,299.6 611.6,324.7 612.0,300.2 612.4,325.2 612.8,300.7 613.2,325.8 613.6,301.3 614.0,324.3 614.4,302.3 614.8,324.9 615.2,302.8 615.6,325.4 616.0,303.4 616.4,326.0 616.8,307.5 617.2,333.1 617.6,308.1 618.0,333.6 618.4,308.7 618.8,334.3 619.2,309.3 619.6,334.9 620.0,310.0 620.4,326.3 620.8,299.8 621.2,326.9 621.6,300.5 622.0,327.7 622.4,301.3 622.8,328.4 623.2,302.0 623.6,329.3 624.0,302.9 624.4,330.1 624.8,304.1 625.2,340.5 625.6,305.1 626.0,341.6 626.4,306.2 626.8,342.7 627.2,307.4 627.6,344.0 628.0,308.7 628.4,345.3 628.8,310.1 629.2,346.7 629.6,311.5 630.0,348.2 630.4,318.1 630.8,340.7 631.2,319.7 631.6,342.3 632.0,321.3 632.4,343.9 632.8,326.4 633.2,341.2 633.6,328.1 634.0,342.8 634.4,329.7 634.8,344.4 635.2,331.3 635.6,346.1 636.0,332.9 636.4,347.7 636.8,334.5 637.2,353.5 637.6,330.1 638.0,355.1 638.4,331.7 638.8,356.7 639.2,333.3 639.6,358.3 640.0,335.0 640.4,359.9 640.8,340.2 641.2,360.3 641.6,341.8 642.0,362.0 642.4,343.5 642.8,363.7 643.2,345.2 643.6,365.4 644.0,346.9 644.4,367.0 644.8,348.6 645.2,368.7 645.6,350.2 646.0,370.4 646.4,351.0 646.8,371.6 647.2,352.6 647.6,373.2 648.0,354.2 648.4,374.8 648.8,355.8 649.2,376.4 649.6,357.3 650.0,377.9 650.4,358.9 650.8,379.4 651.2,360.4 651.6,391.4 652.0,354.6 652.4,392.9 652.8,356.1 653.2,394.4 653.6,357.6 654.0,395.9 654.4,369.3 654.8,393.6 655.2,370.8 655.6,395.1 656.0,372.2 656.4,396.5 656.8,373.7 657.2,397.9 657.6,375.1 658.0,399.3 658.4,376.5 658.8,398.1 659.2,377.2 659.6,399.5 660.0,378.5 660.4,400.8 660.8,379.8 661.2,402.0 661.6,380.6 662.0,409.8 662.4,381.8 662.8,411.0 663.2,383.0 663.6,412.2 664.0,384.2 664.4,413.3 664.8,385.3 665.2,400.3 665.6,382.5 666.0,401.4 666.4,383.6 666.8,402.5 667.2,384.7 667.6,418.1 668.0,391.9 668.4,419.1 668.8,392.9 669.2,420.2 669.6,384.0 670.0,406.9 670.4,385.0 670.8,407.9 671.2,386.0 671.6,408.9 672.0,387.0 672.4,409.8 672.8,387.9 673.2,410.8 673.6,388.8 674.0,411.7 674.4,396.2 674.8,418.1 675.2,397.1 675.6,419.0 676.0,397.9 676.4,419.8 676.8,398.8 677.2,420.7 677.6,399.6 678.0,421.5 678.4,400.5 678.8,423.8 679.2,403.3 679.6,424.6 680.0,404.1 680.4,425.3 680.8,404.8 681.2,426.1 681.6,405.6 682.0,426.8 682.4,406.3 682.8,427.5 683.2,407.0 683.6,428.5 684.0,406.4 684.4,429.1 684.8,407.0 685.2,429.7 685.6,407.6 686.0,430.3 686.4,409.9 686.8,429.1 687.2,410.4 687.6,429.6 688.0,410.8 688.4,430.1 688.8,403.4 689.2,433.8 689.6,403.8 690.0,434.2 690.4,404.2 690.8,434.6 691.2,404.6 691.6,435.0 692.0,405.0 692.4,428.7 692.8,404.3 693.2,429.0 693.6,404.7 694.0,429.4 694.4,405.1 694.8,429.8 695.2,405.5 695.6,430.2 696.0,405.9 696.4,429.7 696.8,413.5 697.2,430.2 697.6,413.9 698.0,430.6 698.4,414.4 698.8,431.1 699.2,412.3 699.6,431.6 700.0,412.9 700.4,432.2 700.8,413.5 701.2,432.9 701.6,414.2 702.0,433.6 702.4,414.9 702.8,438.7 703.2,415.9 703.6,439.5 704.0,416.7 704.4,440.3 704.8,417.5 705.2,441.1 705.6,418.4 706.0,442.0 706.4,419.2 706.8,442.8 707.2,420.1 707.6,440.7 708.0,416.5 708.4,441.6 708.8,417.4 709.2,442.5 709.6,418.3 710.0,443.4 710.4,419.2 710.8,444.3 711.2,420.1 711.6,445.1 712.0,421.0 712.4,446.0 712.8,421.9 713.2,445.9 713.6,421.8 714.0,446.7 714.4,422.6 714.8,447.5 715.2,423.4 715.6,451.4 716.0,433.2 716.4,452.1 716.8,434.0 717.2,452.8 717.6,434.6 718.0,453.5 718.4,435.3 718.8,454.1 719.2,435.9 719.6,454.7 720.0,436.4 720.4,449.9 720.8,427.8 721.2,450.4 721.6,428.3 722.0,450.9 722.4,428.9 722.8,451.4 723.2,429.4 723.6,451.9 724.0,429.8 724.4,458.2 724.8,433.4 725.2,458.7 725.6,433.8 726.0,459.2 726.4,434.3 726.8,457.7 727.2,431.1 727.6,458.1 728.0,431.6 728.4,458.5 728.8,432.0 729.2,459.0 729.6,432.4 730.0,466.8 730.4,432.8 730.8,467.3 731.2,433.3 731.6,467.7 732.0,433.7 732.4,468.2 732.8,434.2 733.2,468.6 733.6,434.6 734.0,469.1 734.4,438.7 734.8,470.2 735.2,439.2 735.6,470.7 736.0,439.7 736.4,471.2 736.8,440.2 737.2,471.7 737.6,440.7 738.0,472.2 738.4,441.3 738.8,472.8 739.2,443.3 739.6,473.3 740.0,443.9 740.4,473.9 740.8,444.5 741.2,474.5 741.6,445.2 742.0,476.7 742.4,441.7 742.8,477.4 743.2,442.3 743.6,478.0 744.0,443.0 744.4,478.7 744.8,443.7 745.2,479.4 745.6,444.4 746.0,480.1 746.4,445.1 746.8,480.8 747.2,453.7 747.6,474.8 748.0,454.4 748.4,475.5 748.8,455.1 749.2,473.4 749.6,455.1 750.0,474.0 750.4,455.8 750.8,474.7 751.2,456.5 751.6,475.4 752.0,457.2 752.4,476.0 752.8,457.8 753.2,476.7 753.6,458.4 754.0,477.3 754.4,461.0 754.8,485.5 755.2,461.6 755.6,486.1 756.0,462.1 756.4,479.7 756.8,464.5 757.2,480.2 757.6,465.0 758.0,480.7 758.4,462.6 758.8,489.7 759.2,463.1 759.6,490.2 760.0,463.6 760.4,490.7 760.8,464.2 761.2,491.3 761.6,464.7 762.0,491.8 762.4,462.3 762.8,490.8 763.2,462.9 763.6,491.3 764.0,463.4 764.4,491.9 764.8,463.9 765.2,482.8 765.6,459.8 766.0,483.3 766.4,460.2 766.8,483.7 767.2,460.6 767.6,484.1 768.0,461.0 768.4,484.5 768.8,461.4 769.2,484.8 769.6,461.6 770.0,485.1 770.4,461.9 770.8,489.5 771.2,465.0 771.6,489.6 772.0,465.1 772.4,489.7 772.8,465.1 773.2,489.7 773.6,465.1 774.0,489.6 774.4,465.0 774.8,489.5 775.2,464.9 775.6,494.2 776.0,472.2 776.4,494.0 776.8,472.0 777.2,493.8 777.6,469.6 778.0,486.2 778.4,469.3 778.8,485.9 779.2,469.0 779.6,483.0 780.0,467.9 780.4,482.6 780.8,467.5 781.2,482.2 781.6,467.1 782.0,481.8 782.4,466.6 782.8,481.3 783.2,466.2 783.6,480.8 784.0,465.7 784.4,489.6 784.8,465.6 785.2,489.1 785.6,465.1 786.0,488.5 786.4,464.5 786.8,487.9 787.2,463.9 787.6,484.7 788.0,457.8 788.4,483.9 788.8,457.0 789.2,483.1 789.6,456.1 790.0,482.1 790.4,455.1 790.8,479.1 791.2,453.3 791.6,477.8 792.0,452.0 792.4,476.4 792.8,450.6 793.2,474.9 793.6,449.0 794.0,473.2 794.4,447.2 794.8,471.3 795.2,445.2 795.6,469.2 796.0,446.9 796.4,473.6 796.8,443.9 797.2,469.7 797.6,439.4 798.0,464.5 798.4,433.9 798.8,458.2 799.2,427.9 799.6,446.7 800.0,422.4 800.4,439.3 800.8,415.4 801.2,429.9 801.6,407.1 802.0,418.9 802.4,396.9 802.8,407.9 803.2,389.1 803.6,397.6 804.0,382.5 804.4,387.7 804.8,374.7 805.2,378.0 805.6,367.9 806.0,372.3 806.4,367.0 806.8,375.2 807.2,372.1 807.6,383.8 808.0,379.9 808.4,394.0 808.8,387.7 809.2,404.3 809.6,398.1 810.0,418.5 810.4,410.2 810.8,432.3 811.2,421.0 811.6,442.9 812.0,428.9 812.4,451.5 812.8,436.5 813.2,459.5 813.6,440.6 814.0,477.7 814.4,446.3 814.8,482.9 815.2,450.3 815.6,485.9 816.0,452.7 816.4,488.0 816.8,467.2 817.2,488.0 817.6,469.1 818.0,489.7 818.4,470.7 818.8,491.2 819.2,472.2 819.6,492.5 820.0,473.5 820.4,493.6 820.8,474.6 821.2,494.7 821.6,475.6 822.0,495.5 822.4,464.8 822.8,494.8 823.2,465.6 823.6,495.5 824.0,466.3 824.4,496.0 824.8,467.0 825.2,496.5 825.6,467.5 826.0,497.0 826.4,468.0 826.8,497.4 827.2,468.6 827.6,497.8 828.0,471.5 828.4,496.4 828.8,472.0 829.2,496.8 829.6,472.5 830.0,497.2 830.4,472.9 830.8,497.6 831.2,473.4 831.6,497.9 832.0,473.8 832.4,493.7 832.8,477.0 833.2,494.0 833.6,477.4 834.0,494.3 834.4,477.8 834.8,494.6 835.2,478.1 835.6,494.9 836.0,478.4 836.4,495.2 836.8,478.7 837.2,502.2 837.6,473.8 838.0,502.3 838.4,474.0 838.8,502.5 839.2,475.4 839.6,496.9 840.0,475.6 840.4,497.0 840.8,475.8 841.2,497.1 841.6,481.8 842.0,496.1 842.4,481.9 842.8,496.1 843.2,482.0 843.6,496.2 844.0,482.0 844.4,496.2 844.8,482.1 845.2,496.1 845.6,482.1 846.0,494.4 846.4,485.6 846.8,494.3 847.2,485.5 847.6,494.2 848.0,485.5 848.4,503.4 848.8,485.1 849.2,503.2 849.6,485.0 850.0,503.0 850.4,484.4 850.8,499.1 851.2,484.2 851.6,498.9 852.0,484.0 852.4,498.7 852.8,483.8 853.2,498.4 853.6,483.5 854.0,498.2 854.4,478.8 854.8,494.0 855.2,478.6 855.6,493.3 856.0,478.4 856.4,491.8 856.8,478.4 857.2,488.9 857.6,478.1 858.0,480.3 858.4,464.3 858.8,465.5 859.2,458.8 859.6,472.6 860.0,471.9 860.4,488.3 860.8,474.4 861.2,490.3 861.6,471.7 862.0,489.5 862.4,469.4 862.8,489.5 863.2,468.7 863.6,489.3 864.0,468.3 864.4,489.0 864.8,468.0 865.2,488.8 865.6,467.8 866.0,495.2 866.4,472.9 866.8,495.0 867.2,472.7 867.6,494.7 868.0,472.5 868.4,494.5 868.8,472.2 869.2,494.3 869.6,472.0 870.0,494.0 870.4,471.8 870.8,488.7 871.2,470.8 871.6,488.5 872.0,470.6 872.4,488.3 872.8,470.4 873.2,488.0 873.6,470.1 874.0,490.9 874.4,465.3 874.8,490.6 875.2,465.0 875.6,490.3 876.0,464.7 876.4,490.0 876.8,464.4 877.2,489.6 877.6,464.1 878.0,489.3 878.4,463.7 878.8,488.9 879.2,465.5 879.6,490.9 880.0,465.1 880.4,490.4 880.8,464.6 881.2,489.9 881.6,464.1 882.0,489.4 882.4,463.6 882.8,488.9 883.2,463.1 883.6,488.3 884.0,462.4 884.4,487.5 884.8,467.0 885.2,488.4 885.6,465.9 886.0,487.1 886.4,464.6 886.8,485.7 887.2,463.1 887.6,484.1 888.0,461.4 888.4,482.1 888.8,459.0 889.2,479.3 889.6,455.7 890.0,465.9 890.4,449.0 890.8,461.4 891.2,444.2 891.6,455.2 892.0,437.1 892.4,446.8 892.8,428.7 893.2,442.8 893.6,421.9 894.0,433.2 894.4,414.4 894.8,424.7 895.2,408.5 895.6,416.2 896.0,402.2 896.4,407.6 896.8,396.2 897.2,400.1 897.6,391.6 898.0,395.1 898.4,389.2 898.8,393.1 899.2,390.0 899.6,396.1 900.0,393.7 900.4,402.2 900.8,399.2 901.2,412.6 901.6,407.8 902.0,421.7 902.4,414.8 902.8,430.9 903.2,423.5 903.6,442.7 904.0,432.8 904.4,449.0 904.8,444.4 905.2,460.5 905.6,454.3 906.0,468.9 906.4,460.3 906.8,473.4 907.2,464.0 907.6,477.1 908.0,467.5 908.4,480.3 908.8,470.4 909.2,483.1 909.6,474.6 910.0,491.1 910.4,476.6 910.8,492.8 911.2,478.0 911.6,493.8 912.0,478.7 912.4,494.3 912.8,473.3 913.2,497.6 913.6,473.6 914.0,497.9 914.4,473.9 914.8,498.2 915.2,474.2 915.6,498.4 916.0,470.1 916.4,499.0 916.8,470.3 917.2,499.1 917.6,470.5 918.0,499.3 918.4,470.7 918.8,499.5 919.2,470.8 919.6,499.6 920.0,470.9 920.4,499.7 920.8,471.1 921.2,489.2 921.6,476.1 922.0,489.3 922.4,476.2 922.8,489.4 923.2,476.3 923.6,489.5 924.0,476.4 924.4,489.5 924.8,476.5 925.2,499.3 925.6,476.4 926.0,499.4 926.4,476.5 926.8,499.5 927.2,476.6 927.6,492.0 928.0,482.9 928.4,492.2 928.8,483.0 929.2,492.3 929.6,483.2 930.0,492.5 930.4,483.4 930.8,492.7 931.2,481.7 931.6,492.7 932.0,481.9 932.4,492.9 932.8,482.2 933.2,493.1 933.6,482.4 934.0,493.4 934.4,482.6 934.8,493.6 935.2,482.9 935.6,493.9 936.0,477.8 936.4,501.6 936.8,478.1 937.2,501.9 937.6,478.3 938.0,502.1 938.4,478.6 938.8,498.8 939.2,479.0 939.6,499.1 940.0,479.3 940.4,499.4 940.8,479.6 941.2,499.7 941.6,480.1 942.0,503.3 942.4,480.5 942.8,503.7 943.2,480.8 943.6,504.0 944.0,481.1 944.4,504.3 944.8,481.5 945.2,496.3 945.6,482.8 946.0,496.6 946.4,483.2 946.8,497.0 947.2,483.6 947.6,497.4 948.0,480.6 948.4,508.4 948.8,481.0 949.2,508.8 949.6,481.4 950.0,509.3 950.4,481.9 950.8,509.7 951.2,482.4 951.6,510.3 952.0,488.8 952.4,506.0 952.8,489.6 953.2,506.8 953.6,490.4 954.0,507.7 954.4,491.3 954.8,508.6 955.2,492.2 955.6,508.9 956.0,495.3 956.4,509.8 956.8,496.1 957.2,510.6 957.6,496.9 958.0,511.3 958.4,497.5 958.8,517.2 959.2,489.0 959.6,517.6 960.0,489.3 960.4,517.8 960.8,489.5 961.2,518.0 961.6,489.6 962.0,518.1 962.4,489.8 962.8,518.2 963.2,489.9 963.6,508.2 964.0,497.4 964.4,508.3 964.8,497.5 965.2,508.3 965.6,497.6 966.0,508.4 966.4,497.6 966.8,509.9 967.2,491.3 967.6,510.0 968.0,491.4 968.4,510.1 968.8,491.5 969.2,510.3 969.6,491.6 970.0,510.4 970.4,492.9 970.8,510.2 971.2,493.2 971.6,510.5 972.0,493.6 972.4,510.9 972.8,494.0 973.2,511.4 973.6,494.4 974.0,511.8 974.4,494.9 974.8,512.3 975.2,495.4 975.6,521.3 976.0,494.6 976.4,521.8 976.8,495.1 977.2,522.2 977.6,495.5 978.0,522.6 978.4,495.9 978.8,522.9 979.2,496.2 979.6,523.2 980.0,496.4 980.4,521.6 980.8,496.6 981.2,521.8 981.6,496.8 982.0,522.0 982.4,503.1 982.8,524.2 983.2,503.3 983.6,524.4 984.0,503.5 984.4,524.6 984.8,503.6 985.2,522.0 985.6,503.8 986.0,522.1 986.4,504.0 986.8,522.2 987.2,504.1 987.6,522.3 988.0,504.2 988.4,518.3 988.8,502.1 989.2,518.4 989.6,502.2 990.0,518.5 990.4,502.4 990.8,521.9 991.2,501.1 991.6,522.0 992.0,501.2 992.4,522.2 992.8,501.4 993.2,522.3 993.6,501.5 994.0,522.4 994.4,501.6 994.8,524.8 995.2,498.5 995.6,525.0 996.0,498.7 996.4,525.1 996.8,498.9 997.2,525.3 997.6,499.1 998.0,525.5 998.4,504.3 998.8,524.5 999.2,504.6 999.6,524.7 1000.0,504.8 1000.4,525.0 1000.8,505.2 1001.2,525.2 1001.6,505.5 1002.0,525.5 1002.4,505.9 1002.8,525.8 1003.2,506.3 1003.6,526.2 1004.0,508.7 1004.4,525.7 1004.8,509.1 1005.2,526.1 1005.6,509.6 1006.0,526.4 1006.4,510.0 1006.8,526.8 1007.2,510.5 1007.6,523.2 1008.0,505.2 1008.4,523.6 1008.8,505.7 1009.2,524.0 1009.6,506.2 1010.0,524.4 1010.4,506.6 1010.8,524.7 1011.2,507.1 1011.6,525.1 1012.0,507.5 1012.4,525.4 1012.8,507.9 1013.2,530.2 1013.6,508.6 1014.0,530.4 1014.4,508.9 1014.8,530.6 1015.2,509.1 1015.6,530.7 1016.0,515.9 1016.4,532.4 1016.8,516.1 1017.2,532.5 1017.6,516.1 1018.0,532.4 1018.4,516.2 1018.8,532.4 1019.2,516.1 1019.6,532.2 1020.0,516.0 1020.4,531.9 1020.8,515.8 1021.2,526.4 1021.6,514.2 1022.0,526.0 1022.4,513.9 1022.8,525.6 1023.2,513.6 1023.6,525.2 1024.0,513.2 1024.4,524.8 1024.8,506.0 1025.2,521.7 1025.6,505.7 1026.0,521.3 1026.4,505.3 1026.8,520.8 1027.2,504.9 1027.6,520.3 1028.0,504.5 1028.4,519.8 1028.8,504.1 1029.2,519.4 1029.6,503.7 1030.0,518.9 1030.4,505.5 1030.8,517.9 1031.2,505.0 1031.6,517.3 1032.0,504.5 1032.4,516.7 1032.8,504.0 1033.2,516.1 1033.6,509.7 1034.0,523.1 1034.4,509.0 1034.8,522.4 1035.2,508.3 1035.6,520.8 1036.0,504.9 1036.4,519.9 1036.8,504.1 1037.2,518.9 1037.6,503.1 1038.0,517.9 1038.4,502.1 1038.8,512.9 1039.2,497.2 1039.6,511.7 1040.0,496.1 1040.4,510.4 1040.8,494.8 1041.2,509.0 1041.6,493.4 1042.0,505.3 1042.4,494.4 1042.8,502.8 1043.2,491.6 1043.6,499.6 1044.0,488.4 1044.4,495.8 1044.8,480.8 1045.2,497.1 1045.6,477.2 1046.0,492.0 1046.4,473.5 1046.8,486.5 1047.2,470.9 1047.6,479.7 1048.0,464.8 1048.4,470.3 1048.8,457.0 1049.2,460.5 1049.6,449.6 1050.0,452.6 1050.4,444.6 1050.8,448.6 1051.2,443.7 1051.6,450.0 1052.0,446.1 1052.4,454.7 1052.8,450.4 1053.2,461.4 1053.6,458.4 1054.0,468.9 1054.4,464.6 1054.8,476.3 1055.2,470.6 1055.6,484.7 1056.0,478.0 1056.4,494.0 1056.8,486.5 1057.2,503.0 1057.6,494.4 1058.0,510.4 1058.4,500.2 1058.8,514.9 1059.2,503.6 1059.6,518.1 1060.0,506.5 1060.4,516.9 1060.8,507.9 1061.2,519.4 1061.6,510.3 1062.0,521.7 1062.4,512.4 1062.8,523.6 1063.2,514.2 1063.6,525.3 1064.0,515.8 1064.4,526.8 1064.8,517.2 1065.2,528.1 1065.6,517.4 1066.0,527.2 1066.4,518.4 1066.8,528.1 1067.2,519.2 1067.6,528.9 1068.0,518.5 1068.4,533.6 1068.8,519.2 1069.2,534.3 1069.6,519.9 1070.0,535.0 1070.4,520.6 1070.8,535.7 1071.2,521.3 1071.6,536.3 1072.0,521.9 1072.4,538.3 1072.8,522.5 1073.2,538.8 1073.6,523.0 1074.0,539.9 1074.4,523.7 1074.8,540.4 1075.2,524.2 1075.6,540.9 1076.0,524.7 1076.4,542.6 1076.8,522.5 1077.2,543.1 1077.6,522.9 1078.0,543.5 1078.4,523.3 1078.8,538.0 1079.2,524.0 1079.6,538.4 1080.0,524.4 1080.4,538.7 1080.8,524.7 1081.2,539.0 1081.6,525.0 1082.0,539.3 1082.4,525.3 1082.8,539.6 1083.2,525.6 1083.6,538.0 1084.0,525.4 1084.4,538.3 1084.8,525.7 1085.2,538.6 1085.6,525.9 1086.0,538.8 1086.4,526.2 1086.8,539.0 1087.2,526.4 1087.6,539.3 1088.0,532.3 1088.4,545.8 1088.8,532.6 1089.2,546.0 1089.6,532.8 1090.0,546.2 1090.4,532.9 1090.8,546.3 1091.2,533.1 1091.6,546.5 1092.0,533.3 1092.4,546.7 1092.8,533.5 1093.2,543.5 1093.6,528.9 1094.0,543.7 1094.4,529.1 1094.8,543.8 1095.2,529.2 1095.6,544.0 1096.0,529.4 1096.4,544.1 1096.8,529.5 1097.2,544.3 1097.6,528.6 1098.0,541.7 1098.4,528.8 1098.8,541.8 1099.2,528.9 1099.6,541.9 1100.0,529.0 1100.4,542.1 1100.8,529.2 1101.2,549.2 1101.6,528.9 1102.0,549.4 1102.4,529.1 1102.8,549.5 1103.2,529.2 1103.6,544.3 1104.0,529.4 1104.4,544.4 1104.8,529.5 1105.2,544.6 1105.6,529.7 1106.0,542.7 1106.4,530.4 1106.8,542.9 1107.2,530.6 1107.6,543.1 1108.0,530.7 1108.4,543.2 1108.8,530.9 1109.2,543.4 1109.6,531.0 1110.0,543.5 1110.4,531.2 1110.8,543.7 1111.2,536.2 1111.6,551.4 1112.0,536.3 1112.4,551.5 1112.8,536.5 1113.2,551.1 1113.6,536.1 1114.0,551.3 1114.4,536.3 1114.8,551.4 1115.2,536.4 1115.6,551.6 1116.0,536.6 1116.4,551.7 1116.8,536.8 1117.2,551.9 1117.6,536.9 1118.0,546.5 1118.4,537.4 1118.8,546.6 1119.2,537.5 1119.6,546.8 1120.0,537.7 1120.4,546.9 1120.8,537.9 1121.2,549.4 1121.6,534.2 1122.0,549.5 1122.4,534.4 1122.8,549.7 1123.2,534.5 1123.6,549.8 1124.0,534.7 1124.4,550.0 1124.8,534.9 1125.2,550.1 1125.6,535.0 1126.0,550.3 1126.4,535.2 1126.8,549.9 1127.2,534.0 1127.6,550.1 1128.0,534.2 1128.4,550.3 1128.8,534.4 1129.2,550.5 1129.6,539.0 1130.0,553.3 1130.4,539.2 1130.8,553.5 1131.2,539.4 1131.6,553.7 1132.0,539.6 1132.4,555.7 1132.8,542.4 1133.2,555.9 1133.6,542.6 1134.0,556.1 1134.4,542.7 1134.8,556.3 1135.2,542.9 1135.6,556.4 1136.0,543.1 1136.4,556.6 1136.8,543.2 1137.2,555.9 1137.6,543.8 1138.0,556.0 1138.4,543.9 1138.8,556.2 1139.2,544.1 1139.6,556.3 1140.0,544.2 1140.4,556.5 1140.8,544.4 1141.2,556.6 1141.6,538.1 1142.0,549.9 1142.4,538.2 1142.8,550.0 1143.2,538.3 1143.6,550.1 1144.0,538.4 1144.4,550.2 1144.8,538.5 1145.2,550.3 1145.6,538.6 1146.0,550.4 1146.4,538.7 1146.8,550.5 1147.2,540.9 1147.6,557.9 1148.0,541.0 1148.4,558.1 1148.8,541.1 1149.2,558.2 1149.6,541.2 1150.0,558.3 1150.4,541.4 1150.8,558.8 1151.2,545.7 1151.6,558.9 1152.0,545.8 1152.4,559.0 1152.8,545.9 1153.2,559.1 1153.6,546.0 1154.0,559.1 1154.4,546.1 1154.8,551.9 1155.2,542.8 1155.6,552.0 1156.0,542.9 1156.4,552.1 1156.8,542.9 1157.2,552.1 1157.6,543.0 1158.0,552.2 1158.4,543.1 1158.8,552.2 1159.2,543.1 1159.6,552.3 1160.0,543.1 1160.4,560.0 1160.8,541.0 1161.2,560.0 1161.6,541.1 1162.0,560.0 1162.4,541.1 1162.8,560.0 1163.2,541.1 1163.6,559.9 1164.0,540.8 1164.4,559.5 1164.8,540.3 1165.2,558.9 1165.6,542.1 1166.0,552.3 1166.4,541.3 1166.8,551.3 1167.2,540.3 1167.6,550.6 1168.0,536.9 1168.4,549.1 1168.8,535.3 1169.2,546.1 1169.6,532.7 1170.0,545.1 1170.4,533.6 1170.8,540.5 1171.2,530.5 1171.6,536.4 1172.0,527.8 1172.4,533.4 1172.8,526.9 1173.2,533.5 1173.6,528.1 1174.0,536.4 1174.4,530.9 1174.8,541.0 1175.2,534.6 1175.6,546.1 1176.0,538.2 1176.4,550.2 1176.8,537.3 1177.2,552.7 1177.6,538.4 1178.0,554.3 1178.4,539.6 1178.8,556.3 1179.2,542.0 1179.6,557.4 1180.0,542.9 1180.4,558.3 1180.8,542.1 1181.2,560.4 1181.6,542.8 1182.0,561.0 1182.4,543.3 1182.8,561.4 1183.2,543.7 1183.6,561.8 1184.0,544.1 1184.4,562.2 1184.8,544.5 1185.2,562.6 1185.6,543.0 1186.0,559.0 1186.4,543.4 1186.8,559.4 1187.2,543.7 1187.6,559.7 1188.0,544.0 1188.4,560.0 1188.8,544.3 1189.2,560.2 1189.6,544.6 1190.0,560.5 1190.4,551.0 1190.8,559.7 1191.2,551.2 1191.6,559.9 1192.0,551.5 1192.4,562.1 1192.8,552.3 1193.2,562.3 1193.6,552.5 1194.0,562.5 1194.4,551.2 1194.8,564.5 1195.2,551.4 1195.6,564.7 1196.0,551.6 1196.4,564.9 1196.8,551.7 1197.2,561.9 1197.6,547.1 1198.0,562.1 1198.4,547.2 1198.8,562.2 1199.2,547.4 1199.6,562.4 1200.0,547.5 1200.4,562.5 1200.8,547.6 1201.2,562.6 1201.6,547.8 1202.0,562.8 1202.4,548.0 1202.8,561.1 1203.2,548.1 1203.6,561.2 1204.0,548.2 1204.4,561.3 1204.8,548.3 1205.2,561.4 1205.6,548.5 1206.0,561.5 1206.4,548.6 1206.8,561.7 1207.2,550.4 1207.6,562.7 1208.0,550.5 1208.4,562.8 1208.8,550.6 1209.2,562.9 1209.6,550.7 1210.0,561.0 1210.4,553.2 1210.8,561.1 1211.2,553.2 1211.6,561.2 1212.0,553.3 1212.4,563.2 1212.8,556.1 1213.2,563.2 1213.6,556.2 1214.0,563.3 1214.4,556.3 1214.8,563.4 1215.2,556.3 1215.6,563.5 1216.0,554.0 1216.4,562.5 1216.8,554.1 1217.2,562.6 1217.6,554.1 1218.0,562.6 1218.4,554.2 1218.8,564.4 1219.2,551.2 1219.6,564.4 1220.0,551.2 1220.4,564.5 1220.8,551.2 1221.2,564.5 1221.6,551.2 1222.0,564.4 1222.4,549.8 1222.8,564.1 1223.2,549.7 1223.6,564.0 1224.0,549.6 1224.4,563.9 1224.8,549.5 1225.2,563.8 1225.6,549.3 1226.0,563.6 1226.4,549.2 1226.8,563.5 1227.2,549.0 1227.6,563.3 1228.0,549.5 1228.4,562.5 1228.8,549.3 1229.2,562.3 1229.6,549.1 1230.0,568.4 1230.4,550.4 1230.8,568.0 1231.2,550.0 1231.6,567.5 1232.0,549.4 1232.4,566.8 1232.8,548.6 1233.2,562.9 1233.6,548.7 1234.0,562.1 1234.4,547.8 1234.8,561.1 1235.2,546.9 1235.6,560.2 1236.0,548.1 1236.4,559.0 1236.8,547.1 1237.2,558.1 1237.6,546.3 1238.0,557.3 1238.4,545.5 1238.8,556.3 1239.2,544.7 1239.6,555.2 1240.0,543.8 1240.4,550.2 1240.8,539.8 1241.2,549.0 1241.6,539.6 1242.0,547.8 1242.4,539.7 1242.8,546.7 1243.2,539.9 1243.6,545.9 1244.0,540.1 1244.4,548.6 1244.8,538.8 1245.2,549.4 1245.6,539.0 1246.0,551.5 1246.4,539.5 1246.8,555.2 1247.2,540.6 1247.6,558.3 1248.0,541.8 1248.4,561.2 1248.8,543.2 1249.2,563.6 1249.6,544.5 1250.0,565.2 1250.4,545.5 1250.8,566.3 1251.2,546.5 1251.6,567.4 1252.0,548.9 1252.4,565.7 1252.8,549.9 1253.2,566.6 1253.6,550.8 1254.0,567.5 1254.4,551.6 1254.8,568.3 1255.2,553.0 1255.6,566.3 1256.0,553.7 1256.4,567.0 1256.8,554.3 1257.2,567.6 1257.6,554.8 1258.0,568.1 1258.4,555.3 1258.8,568.4 1259.2,557.8 1259.6,567.3 1260.0,558.1 1260.4,567.5 1260.8,558.4 1261.2,567.8 1261.6,558.6 1262.0,568.0 1262.4,558.8 1262.8,568.2 1263.2,559.0 1263.6,568.4 1264.0,559.2 1264.4,569.3 1264.8,557.5 1265.2,569.5 1265.6,557.6 1266.0,569.6 1266.4,561.5 1266.8,570.5 1267.2,561.6 1267.6,570.6 1268.0,561.8 1268.4,570.8 1268.8,561.9 1269.2,570.9 1269.6,562.0 1270.0,571.0 1270.4,562.1 1270.8,571.1 1271.2,562.3 1271.6,571.3 1272.0,559.7 1272.4,576.4 1272.8,559.8 1273.2,576.5 1273.6,559.9 1274.0,576.7 1274.4,560.0 1274.8,576.8 1275.2,560.2 1275.6,576.9 1276.0,560.3 1276.4,577.0 1276.8,560.4 1277.2,577.2 1277.6,563.9 1278.0,571.5 1278.4,564.1 1278.8,571.6 1279.2,564.2 1279.6,571.8 1280.0,564.4 1280.4,572.0 1280.8,564.6 1281.2,572.2 1281.6,564.8 1282.0,572.4 1282.4,558.7 1282.8,573.5 1283.2,558.9 1283.6,573.7 1284.0,559.1 1284.4,574.0 1284.8,559.3 1285.2,574.2 1285.6,562.8 1286.0,574.3 1286.4,563.0 1286.8,574.5 1287.2,563.2 1287.6,574.7 1288.0,563.4 1288.4,574.9 1288.8,563.6 1289.2,574.3 1289.6,567.4 1290.0,574.5 1290.4,567.5 1290.8,574.6 1291.2,567.7 1291.6,574.8 1292.0,567.8 1292.4,574.9 1292.8,568.0 1293.2,575.1 1293.6,568.1 1294.0,577.5 1294.4,563.5 1294.8,577.6 1295.2,563.6 1295.6,577.7 1296.0,563.7 1296.4,577.8 1296.8,563.7 1297.2,577.8 1297.6,563.7 1298.0,577.8 1298.4,563.7 1298.8,577.8 1299.2,567.7 1299.6,577.2 1300.0,567.6 1300.4,577.1 1300.8,567.4 1301.2,576.9 1301.6,567.3 1302.0,576.7 1302.4,563.2 1302.8,577.5 1303.2,562.9 1303.6,577.2 1304.0,562.6 1304.4,576.8 1304.8,562.2 1305.2,576.5 1305.6,561.8 1306.0,576.1 1306.4,561.4 1306.8,575.6 1307.2,561.0 1307.6,575.1 1308.0,558.0 1308.4,578.1 1308.8,557.5 1309.2,577.6 1309.6,556.9 1310.0,577.0 1310.4,556.3 1310.8,576.4 1311.2,555.7 1311.6,575.6 1312.0,554.7 1312.4,574.3 1312.8,553.1 1313.2,572.5 1313.6,552.9 1314.0,564.5 1314.4,550.6 1314.8,561.9 1315.2,548.1 1315.6,559.2 1316.0,545.8 1316.4,556.3 1316.8,543.8 1317.2,553.4 1317.6,541.8 1318.0,549.5 1318.4,539.3 1318.8,545.2 1319.2,538.2 1319.6,543.6 1320.0,536.3 1320.4,541.7 1320.8,536.0 1321.2,542.8 1321.6,537.5 1322.0,546.2 1322.4,539.9 1322.8,550.9 1323.2,542.9 1323.6,555.9 1324.0,544.8 1324.4,559.8 1324.8,547.4 1325.2,563.7 1325.6,550.5 1326.0,561.3 1326.4,552.6 1326.8,564.6 1327.2,555.5 1327.6,567.2 1328.0,557.7 1328.4,569.0 1328.8,559.3 1329.2,570.7 1329.6,558.0 1330.0,576.9 1330.4,559.6 1330.8,578.3 1331.2,560.9 1331.6,579.6 1332.0,562.1 1332.4,581.6 1332.8,566.6 1333.2,582.3 1333.6,567.2 1334.0,582.7 1334.4,567.4 1334.8,582.7 1335.2,567.1 1335.6,578.2 1336.0,563.9 1336.4,577.4 1336.8,562.9 1337.2,576.3 1337.6,561.6 1338.0,574.9 1338.4,560.1 1338.8,573.3 1339.2,558.5 1339.6,571.6 1340.0,556.8 1340.4,571.7 1340.8,556.0 1341.2,568.6 1341.6,552.8 1342.0,564.8 1342.4,549.3 1342.8,560.8 1343.2,549.2 1343.6,555.5 1344.0,546.8 1344.4,552.4 1344.8,544.8 1345.2,549.2 1345.6,543.0 1346.0,546.5 1346.4,541.7 1346.8,545.1 1347.2,540.9 1347.6,547.3 1348.0,542.3 1348.4,550.7 1348.8,544.9 1349.2,555.5 1349.6,548.1 1350.0,560.6 1350.4,551.2 1350.8,564.9 1351.2,554.3 1351.6,569.4 1352.0,553.4 1352.4,569.3 1352.8,557.0 1353.2,572.6 1353.6,559.5 1354.0,574.7 1354.4,560.8 1354.8,575.8 1355.2,561.8 1355.6,576.7 1356.0,562.7 1356.4,577.6 1356.8,563.6 1357.2,578.4 1357.6,563.8 1358.0,584.6 1358.4,564.5 1358.8,585.3 1359.2,565.2 1359.6,585.9 1360.0,565.7 1360.4,583.9 1360.8,573.9 1361.2,584.3 1361.6,574.3 1362.0,584.7 1362.4,574.6 1362.8,585.0 1363.2,574.9 1363.6,585.2 1364.0,575.0 1364.4,588.0 1364.8,573.9 1365.2,588.1 1365.6,573.9 1366.0,588.1 1366.4,573.8 1366.8,588.0 1367.2,571.9 1367.6,580.7 1368.0,571.7 1368.4,580.6 1368.8,571.6 1369.2,580.4 1369.6,571.4 1370.0,580.2 1370.4,571.2 1370.8,580.0 1371.2,571.0 1371.6,581.8 1372.0,567.3 1372.4,581.5 1372.8,567.0 1373.2,581.3 1373.6,566.7 1374.0,581.0 1374.4,566.4 1374.8,580.3 1375.2,568.3 1375.6,580.0 1376.0,568.0 1376.4,579.7 1376.8,567.7 1377.2,579.4 1377.6,567.4 1378.0,579.3 1378.4,565.6 1378.8,578.8 1379.2,565.0 1379.6,578.2 1380.0,564.4 1380.4,577.5 1380.8,563.7 1381.2,576.8 1381.6,563.0 1382.0,576.7 1382.4,563.9 1382.8,576.0 1383.2,563.2 1383.6,575.3 1384.0,562.5 1384.4,574.7 1384.8,561.9 1385.2,574.1 1385.6,565.2 1386.0,575.3 1386.4,564.7 1386.8,574.8 1387.2,564.4 1387.6,574.6 1388.0,564.2 1388.4,576.9 1388.8,564.9 1389.2,577.0 1389.6,564.9 1390.0,577.0 1390.4,565.0 1390.8,577.1 1391.2,565.2 1391.6,577.3 1392.0,565.3 1392.4,577.5 1392.8,565.5 1393.2,577.7 1393.6,565.8 1394.0,578.8 1394.4,561.7 1394.8,579.1 1395.2,562.0 1395.6,579.4 1396.0,562.3 1396.4,579.8 1396.8,562.7 1397.2,580.1 1397.6,563.1 1398.0,580.5 1398.4,563.4 1398.8,580.9 1399.2,563.8 1399.6,577.1 1400.0,564.2 1400.4,577.5 1400.8,564.7 1401.2,578.1 1401.6,565.4 1402.0,579.0 1402.4,566.4 1402.8,580.0 1403.2,567.5 1403.6,581.1 1404.0,568.7 1404.4,580.4 1404.8,568.8 1405.2,581.7 1405.6,570.0 1406.0,582.9 1406.4,571.1 1406.8,583.9 1407.2,572.1 1407.6,584.9 1408.0,574.6 1408.4,589.3 1408.8,575.2 1409.2,589.8 1409.6,575.5 1410.0,590.0 1410.4,575.6 1410.8,589.9 1411.2,575.5 1411.6,589.8 1412.0,575.4 1412.4,589.7 1412.8,577.4 1413.2,587.3 1413.6,577.2 1414.0,587.1 1414.4,577.0 1414.8,586.8 1415.2,576.7 1415.6,586.5 1416.0,576.4 1416.4,586.2 1416.8,576.1 1417.2,585.9 1417.6,575.7 1418.0,585.5 1418.4,576.9 1418.8,587.0 1419.2,576.5 1419.6,586.6 1420.0,576.1 1420.4,586.1 1420.8,575.6 1421.2,585.5 1421.6,567.3 1422.0,585.1 1422.4,566.9 1422.8,584.7 1423.2,566.5 1423.6,584.2 1424.0,566.0 1424.4,583.6 1424.8,565.3 1425.2,582.9 1425.6,565.2 1426.0,577.1 1426.4,564.3 1426.8,576.1 1427.2,563.3 1427.6,575.1 1428.0,562.3 1428.4,574.1 1428.8,562.5 1429.2,574.3 1429.6,561.6 1430.0,573.4 1430.4,560.7 1430.8,572.7 1431.2,560.1 1431.6,572.1 1432.0,558.8 1432.4,573.3 1432.8,558.6 1433.2,573.3 1433.6,559.1 1434.0,574.4 1434.4,560.9 1434.8,576.8 1435.2,563.3 1435.6,577.6 1436.0,566.5 1436.4,580.9 1436.8,569.8 1437.2,584.1 1437.6,572.7 1438.0,587.6 1438.4,579.4 1438.8,589.0 1439.2,580.1 1439.6,589.2 1440.0,580.3 1440.4,589.4 1440.8,580.5 1441.2,589.6 1441.6,580.7 1442.0,589.8 1442.4,580.8 1442.8,589.9 1443.2,579.6 1443.6,596.4 1444.0,579.7 1444.4,596.5 1444.8,579.8 1445.2,596.6 1445.6,579.9 1446.0,596.7 1446.4,580.0 1446.8,593.4 1447.2,580.3 1447.6,593.5 1448.0,580.4 1448.4,593.6 1448.8,580.4 1449.2,593.6 1449.6,580.5 1450.0,593.6 1450.4,580.5 1450.8,593.7 1451.2,580.5 1451.6,592.2 1452.0,576.2 1452.4,592.3 1452.8,576.2 1453.2,592.2 1453.6,576.1 1454.0,592.2 1454.4,576.0 1454.8,596.5 1455.2,578.6 1455.6,596.3 1456.0,578.5 1456.4,596.1 1456.8,578.3 1457.2,596.0 1457.6,578.1 1458.0,595.7 1458.4,577.9 1458.8,595.5 1459.2,577.6 1459.6,595.2 1460.0,579.3 1460.4,590.4 1460.8,579.1 1461.2,590.2 1461.6,578.8 1462.0,589.9 1462.4,578.5 1462.8,589.6 1463.2,573.8 1463.6,593.2 1464.0,573.6 1464.4,592.9 1464.8,573.4 1465.2,592.7 1465.6,573.1 1466.0,592.5 1466.4,573.0 1466.8,592.3 1467.2,572.8 1467.6,592.2 1468.0,572.7 1468.4,591.3 1468.8,573.6 1469.2,591.2 1469.6,573.6 1470.0,591.2 1470.4,573.6 1470.8,591.3 1471.2,573.7 1471.6,591.4 1472.0,579.3 1472.4,587.6 1472.8,579.6 1473.2,587.9 1473.6,579.9 1474.0,588.3 1474.4,580.3 1474.8,588.8 1475.2,580.8 1475.6,589.3 1476.0,581.2 1476.4,592.5 1476.8,581.8 1477.2,593.1 1477.6,582.4 1478.0,593.6 1478.4,582.9 1478.8,594.2 1479.2,583.5 1479.6,594.8 1480.0,584.1 1480.4,595.3 1480.8,580.8 1481.2,596.3 1481.6,581.3 1482.0,596.7 1482.4,581.8 1482.8,597.2 1483.2,582.2 1483.6,597.5 1484.0,582.5 1484.4,597.8 1484.8,582.7 1485.2,598.0 1485.6,582.9 1486.0,593.3 1486.4,587.4 1486.8,593.5 1487.2,587.6 1487.6,593.6 1488.0,587.7 1488.4,593.7 1488.8,586.9 1489.2,598.2 1489.6,587.0 1490.0,598.3 1490.4,587.1 1490.8,596.3 1491.2,587.5 1491.6,596.4 1492.0,587.6 1492.4,596.5 1492.8,587.7 1493.2,596.6 1493.6,587.8 1494.0,596.7 1494.4,582.9 1494.8,599.7 1495.2,583.0 1495.6,599.8 1496.0,583.1 1496.4,599.9 1496.8,583.1 1497.2,600.0 1497.6,583.2 1498.0,596.1 1498.4,585.9 1498.8,596.2 1499.2,586.0 1499.6,596.2 1500.0,582.7 1500.4,599.3 1500.8,582.7 1501.2,599.4 1501.6,582.7 1502.0,599.4 1502.4,582.8 1502.8,599.4 1503.2,582.8 1503.6,599.4 1504.0,582.8"/>
</g>
<g stroke="#000" stroke-width="6"><line x1="298.7" y1="1094" x2="298.7" y2="1113" /><line x1="500.0" y1="1094" x2="500.0" y2="1113" /><line x1="701.4" y1="1094" x2="701.4" y2="1113" /><line x1="902.8" y1="1094" x2="902.8" y2="1113" /><line x1="1104.1" y1="1094" x2="1104.1" y2="1113" /><line x1="1305.5" y1="1094" x2="1305.5" y2="1113" /><line x1="1506.8" y1="1094" x2="1506.8" y2="1113" /></g>
<g font-size="43"><text transform="translate(298.7,1151.5) scale(0.97,1.06)" text-anchor="middle">10</text><text transform="translate(500.0,1151.5) scale(0.97,1.06)" text-anchor="middle">20</text><text transform="translate(701.4,1151.5) scale(0.97,1.06)" text-anchor="middle">30</text><text transform="translate(902.8,1151.5) scale(0.97,1.06)" text-anchor="middle">40</text><text transform="translate(1104.1,1151.5) scale(0.97,1.06)" text-anchor="middle">50</text><text transform="translate(1305.5,1151.5) scale(0.97,1.06)" text-anchor="middle">60</text><text transform="translate(1506.8,1151.5) scale(0.97,1.06)" text-anchor="middle">70</text></g>
<text transform="translate(821.5,1251) scale(0.97,1.03)" font-size="54" text-anchor="middle">2θ<tspan font-weight="normal">(°)</tspan></text>
<text transform="translate(74,564) rotate(-90)" font-size="55" text-anchor="middle">Intensity(a.u.)</text>
<g stroke-width="5">
<line x1="1047" y1="85.8" x2="1137" y2="85.8" stroke="#186ce0"/>
<line x1="1047" y1="152" x2="1137" y2="152" stroke="#f54244"/>
<line x1="1047" y1="208.3" x2="1137" y2="208.3" stroke="#000000"/>
</g>
<g font-size="43">
<text transform="translate(1155,101) scale(0.98,1.07)">CO<tspan font-size="30" font-weight="normal" dy="10">3</tspan><tspan dy="-10">-LDH/PVC</tspan></text>
<text transform="translate(1155,167.5) scale(0.98,1.07)">MADS-LDH/PVC</text>
<text transform="translate(1155,223.5) scale(0.98,1.07)">PVC</text>
</g>
</svg>
</body></html>
